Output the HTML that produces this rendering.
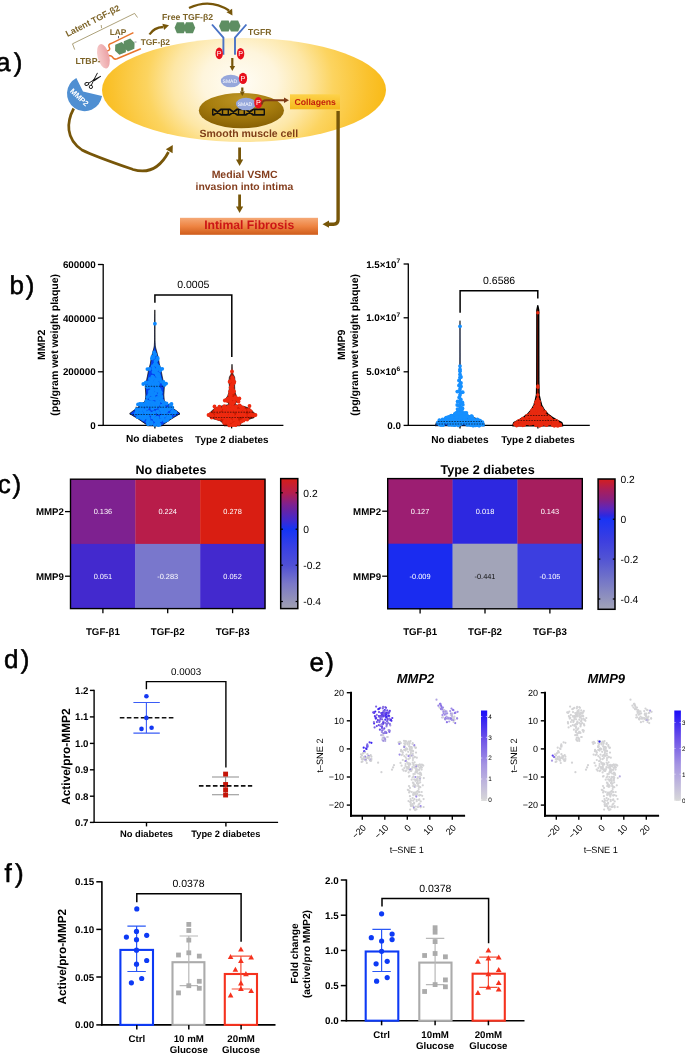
<!DOCTYPE html>
<html><head><meta charset="utf-8"><style>
html,body{margin:0;padding:0;background:#fff;width:685px;height:1053px;overflow:hidden}
svg{display:block;will-change:transform}
text{font-family:"Liberation Sans",sans-serif;text-rendering:geometricPrecision}
</style></head><body>
<svg width="685" height="1053" viewBox="0 0 685 1053">
<defs>
<radialGradient id="cellg" gradientUnits="userSpaceOnUse" cx="240" cy="82" r="150" gradientTransform="translate(240 82) scale(1 0.85) translate(-240 -82)">
<stop offset="0" stop-color="#fffdf6"/><stop offset="0.25" stop-color="#fef5dc"/><stop offset="0.45" stop-color="#fde7a6"/><stop offset="0.62" stop-color="#fcd460"/><stop offset="0.85" stop-color="#fac22e"/><stop offset="1" stop-color="#f8b913"/></radialGradient>
<radialGradient id="nucg" cx="0.5" cy="0.3" r="0.7" fx="0.5" fy="0.15">
<stop offset="0" stop-color="#bd9524"/><stop offset="0.55" stop-color="#a77d0e"/><stop offset="1" stop-color="#876004"/></radialGradient>
<linearGradient id="fibg" x1="0" y1="0" x2="0" y2="1">
<stop offset="0" stop-color="#f5a977"/><stop offset="0.5" stop-color="#ee8442"/><stop offset="1" stop-color="#cf5c1b"/></linearGradient>
<linearGradient id="colg" x1="0" y1="0" x2="0" y2="1">
<stop offset="0" stop-color="#fdd24a"/><stop offset="1" stop-color="#f5b81a"/></linearGradient>
<linearGradient id="ltbpg" x1="0" y1="0" x2="1" y2="0">
<stop offset="0" stop-color="#f6cccc"/><stop offset="1" stop-color="#eba0a4"/></linearGradient>
</defs>
<ellipse cx="244" cy="90" rx="142" ry="52" fill="url(#cellg)"/>
<ellipse cx="241.4" cy="110.6" rx="42.6" ry="17.7" fill="url(#nucg)"/>
<path d="M212.4,109.3 H213.8 L221.2,114.9 H229.6 L237.2,109.3 H245.6 L253.4,114.9 H264.6 M212.4,114.9 H213.8 L221.2,109.3 H229.6 L237.2,114.9 H245.6 L253.4,109.3 H264.6" stroke="#111" stroke-width="1.8" fill="none" stroke-linejoin="round"/>
<line x1="212.7" y1="109.3" x2="212.7" y2="114.9" stroke="#111" stroke-width="1.4"/>
<line x1="222.5" y1="109.3" x2="222.5" y2="114.9" stroke="#111" stroke-width="1.4"/>
<line x1="228.3" y1="109.3" x2="228.3" y2="114.9" stroke="#111" stroke-width="1.4"/>
<line x1="238.5" y1="109.3" x2="238.5" y2="114.9" stroke="#111" stroke-width="1.4"/>
<line x1="244.3" y1="109.3" x2="244.3" y2="114.9" stroke="#111" stroke-width="1.4"/>
<line x1="254.7" y1="109.3" x2="254.7" y2="114.9" stroke="#111" stroke-width="1.4"/>
<line x1="264.3" y1="109.3" x2="264.3" y2="114.9" stroke="#111" stroke-width="1.4"/>
<ellipse cx="230.8" cy="81" rx="10" ry="6.3" fill="#96a7db"/>
<text x="229.8" y="82.8" font-size="5" fill="#fff" text-anchor="middle">SMAD</text>
<ellipse cx="243" cy="78.4" rx="4.1" ry="5.7" fill="#e8101c"/>
<text x="243" y="81.0" font-size="7.2" fill="#fff" text-anchor="middle">P</text>
<ellipse cx="246" cy="104" rx="10" ry="6.3" fill="#96a7db"/>
<text x="245" y="105.8" font-size="5" fill="#fff" text-anchor="middle">SMAD</text>
<ellipse cx="258.3" cy="102.8" rx="4.1" ry="5.7" fill="#e8101c"/>
<text x="258.3" y="105.39999999999999" font-size="7.2" fill="#fff" text-anchor="middle">P</text>
<line x1="232.3" y1="58.0" x2="232.3" y2="66.5" stroke="#775609" stroke-width="2.2" />
<polygon points="232.3,71.0 229.6,66.0 235.1,66.0" fill="#775609"/>
<line x1="242.3" y1="87.5" x2="242.3" y2="91.5" stroke="#775609" stroke-width="2.2" />
<polygon points="242.3,96.0 239.8,91.5 244.8,91.5" fill="#775609"/>
<path d="M261.8,104.5 Q262.2,100.3 266,100.3 L284,100.3" fill="none" stroke="#7e3a16" stroke-width="2"/>
<polygon points="289.0,100.3 284.0,103.0 284.0,97.5" fill="#7e3a16"/>
<rect x="290" y="94.3" width="50" height="15" fill="url(#colg)"/>
<text x="315.2" y="105.2" font-size="8.7" font-weight="bold" text-anchor="middle" fill="#c4200c" >Collagens</text>
<path d="M338.1,111 V219.5 Q338.1,224.2 333.5,224.2 H327" fill="none" stroke="#775609" stroke-width="3.4"/>
<polygon points="322.5,224.2 329.0,220.6 329.0,227.8" fill="#775609"/>
<path d="M212,24.5 L223.4,37.7 V54.7 M246.4,24.5 L235,37.7 V54.7" fill="none" stroke="#4a73c6" stroke-width="1.9"/>
<g  fill="#5e8e62"><polygon points="219.0,25.9 221.4,20.4 228.6,20.4 231.0,25.9 228.6,31.4 221.4,31.4"/><polygon points="228.5,25.9 230.9,20.4 238.1,20.4 240.5,25.9 238.1,31.4 230.9,31.4"/></g>
<ellipse cx="219.2" cy="53.4" rx="3.7" ry="5.8" fill="#e8101c"/>
<text x="219.2" y="56.0" font-size="7.2" fill="#fff" text-anchor="middle">P</text>
<ellipse cx="240.6" cy="53.7" rx="3.7" ry="5.8" fill="#e8101c"/>
<text x="240.6" y="56.300000000000004" font-size="7.2" fill="#fff" text-anchor="middle">P</text>
<text x="248.0" y="35.0" font-size="8.6" font-weight="bold" text-anchor="start" fill="#7d6428" >TGFR</text>
<g  fill="#5e8e62"><polygon points="174.6,27.8 176.9,22.2 183.8,22.2 186.1,27.8 183.8,33.3 176.9,33.3"/><polygon points="183.7,27.8 186.0,22.2 192.9,22.2 195.2,27.8 192.9,33.3 186.0,33.3"/></g>
<text x="162.0" y="19.7" font-size="8.66" font-weight="bold" text-anchor="start" fill="#7d6428" >Free TGF-β2</text>
<path d="M189,8 Q210,-2 229,10.5" fill="none" stroke="#775609" stroke-width="2.3"/>
<polygon points="232.5,15.5 226.5,12.2 232.1,8.7" fill="#775609"/>
<path d="M149.5,34.5 Q154,27.5 163,27" fill="none" stroke="#775609" stroke-width="2.3"/>
<polygon points="169.0,25.3 164.1,30.0 162.4,23.7" fill="#775609"/>
<text x="140.7" y="45.3" font-size="8.4" font-weight="bold" text-anchor="start" fill="#7d6428" >TGF-β2</text>
<path d="M106.2,51.2 C109.5,50.8 110.5,49.5 109.2,47.2 C108.2,45.2 109,44 111.5,43.3 L133.4,32.6 M107.5,55.6 C111.5,55.2 112.5,56.5 113.2,58 C114,59.3 115.2,59.4 117,58.8 L140.9,48.7" fill="none" stroke="#e8742c" stroke-width="1.5"/>
<g transform="rotate(-22 124.8 46.7)" fill="#5e8e62"><polygon points="114.3,46.7 116.7,41.2 123.7,41.2 126.1,46.7 123.7,52.2 116.7,52.2"/><polygon points="123.5,46.7 125.9,41.2 132.9,41.2 135.3,46.7 132.9,52.2 125.9,52.2"/></g>
<line x1="118.5" y1="36" x2="118.5" y2="38.3" stroke="#334" stroke-width="0.8"/>
<line x1="134.5" y1="42" x2="136.5" y2="42" stroke="#889" stroke-width="0.9"/>
<ellipse cx="103.4" cy="56.3" rx="5.8" ry="12.5" fill="url(#ltbpg)" transform="rotate(-14 103.4 56.3)"/>
<text x="75.4" y="64.2" font-size="8.7" font-weight="bold" text-anchor="start" fill="#7d6428" >LTBP-</text>
<text x="109.7" y="35.0" font-size="8.4" font-weight="bold" text-anchor="start" fill="#7d6428" >LAP</text>
<text transform="translate(67.5,37) rotate(-27)" font-size="8.8" font-weight="bold" fill="#7d6428">Latent TGF-β2</text>
<path d="M74.7,49.6 L72.5,43.8 L134.6,13.4 L137.5,17.5 M101.6,28.2 L101.2,25" fill="none" stroke="#8a7a42" stroke-width="0.7"/>
<path d="M102.03,96.05 L83,91.5 L76.34,78.06 A17.6 17.6 0 1 0 102.03,96.05 Z" fill="#4f8fd2"/>
<text transform="translate(77.6,99.2) rotate(43)" font-size="7.6" font-weight="bold" fill="#fff" text-anchor="middle">MMP2</text>
<g fill="none" stroke="#111" stroke-width="0.95"><ellipse cx="86.8" cy="83.9" rx="2.0" ry="1.45" transform="rotate(-15 86.8 83.9)"/><circle cx="90.9" cy="86.9" r="1.65"/><path d="M88.6,83.3 L93.8,79.9 M91.3,85.3 L93.8,79.9"/></g>
<polygon points="92.7,80.9 94.5,79.4 97.9,73.1 97.1,72.8" fill="#111"/>
<polygon points="92.7,80.0 94.3,81.2 101.1,76.5 100.7,75.7" fill="#111"/>
<path d="M73.7,108.5 C66.5,122 65.5,139 82,150 C95,156.5 120,165 133,169.5 C148,174 160,168 168.5,152" fill="none" stroke="#775609" stroke-width="2.7"/>
<polygon points="172.8,145.0 172.6,153.2 165.8,149.3" fill="#775609"/>
<line x1="239.6" y1="147.5" x2="239.6" y2="160.5" stroke="#775609" stroke-width="2.8" />
<polygon points="239.6,166.0 236.0,159.5 243.2,159.5" fill="#775609"/>
<line x1="239.6" y1="194.5" x2="239.6" y2="207.0" stroke="#775609" stroke-width="2.8" />
<polygon points="239.6,213.0 236.0,206.5 243.2,206.5" fill="#775609"/>
<text x="244.6" y="178.4" font-size="10.5" font-weight="bold" text-anchor="middle" fill="#843e1e" >Medial VSMC</text>
<text x="244.4" y="190.2" font-size="10.4" font-weight="bold" text-anchor="middle" fill="#843e1e" >invasion into intima</text>
<text x="248.8" y="137.2" font-size="10.5" font-weight="bold" text-anchor="middle" fill="#7f3e18" >Smooth muscle cell</text>
<rect x="180" y="217.8" width="138" height="17" fill="url(#fibg)"/>
<text x="249.2" y="229.0" font-size="12.2" font-weight="bold" text-anchor="middle" fill="#cc1616" >Intimal Fibrosis</text>
<line x1="103.2" y1="264.0" x2="103.2" y2="426.0" stroke="#000" stroke-width="1.3" />
<line x1="102.6" y1="425.4" x2="283.4" y2="425.4" stroke="#000" stroke-width="1.3" />
<line x1="97.9" y1="264.5" x2="103.2" y2="264.5" stroke="#000" stroke-width="1.3" />
<text x="95.6" y="268.0" font-size="9.8" font-weight="bold" text-anchor="end" fill="#000" >600000</text>
<line x1="97.9" y1="318.1" x2="103.2" y2="318.1" stroke="#000" stroke-width="1.3" />
<text x="95.6" y="321.6" font-size="9.8" font-weight="bold" text-anchor="end" fill="#000" >400000</text>
<line x1="97.9" y1="371.8" x2="103.2" y2="371.8" stroke="#000" stroke-width="1.3" />
<text x="95.6" y="375.3" font-size="9.8" font-weight="bold" text-anchor="end" fill="#000" >200000</text>
<line x1="97.9" y1="425.4" x2="103.2" y2="425.4" stroke="#000" stroke-width="1.3" />
<text x="95.6" y="428.9" font-size="9.8" font-weight="bold" text-anchor="end" fill="#000" >0</text>
<line x1="154.9" y1="425.4" x2="154.9" y2="428.4" stroke="#000" stroke-width="1.3" />
<line x1="231.6" y1="425.4" x2="231.6" y2="428.4" stroke="#000" stroke-width="1.3" />
<text x="154.7" y="442.4" font-size="10.1" font-weight="bold" text-anchor="middle" fill="#000" >No diabetes</text>
<text x="231.8" y="442.8" font-size="9.9" font-weight="bold" text-anchor="middle" fill="#000" >Type 2 diabetes</text>
<text transform="translate(45.3,344.8) rotate(-90)" x="0" y="0" font-size="10.6" font-weight="bold" text-anchor="middle" fill="#000">MMP2</text>
<text transform="translate(58.2,344.8) rotate(-90)" x="0" y="0" font-size="10.5" font-weight="bold" text-anchor="middle" fill="#000">(pg/gram wet weight plaque)</text>
<path d="M154.9,302.8 V295.1 H231.8 V357.1" fill="none" stroke="#000" stroke-width="1.5"/>
<text x="193.3" y="288.0" font-size="10.5" font-weight="normal" text-anchor="middle" fill="#000" >0.0005</text>
<path d="M154.80,309.90 L154.79,310.62 L154.77,311.35 L154.76,312.07 L154.75,312.80 L154.73,313.52 L154.72,314.25 L154.71,314.97 L154.69,315.69 L154.68,316.42 L154.67,317.14 L154.65,317.87 L154.65,318.59 L154.65,319.32 L154.65,320.04 L154.64,320.77 L154.64,321.49 L154.64,322.21 L154.64,322.94 L154.64,323.66 L154.64,324.39 L154.63,325.11 L154.63,325.84 L154.63,326.56 L154.63,327.28 L154.63,328.01 L154.63,328.73 L154.62,329.46 L154.62,330.18 L154.62,330.91 L154.62,331.63 L154.62,332.36 L154.62,333.08 L154.61,333.80 L154.61,334.53 L154.61,335.25 L154.61,335.98 L154.61,336.70 L154.61,337.43 L154.60,338.15 L154.60,338.88 L154.60,339.60 L154.58,340.32 L154.55,341.05 L154.51,341.77 L154.48,342.50 L154.44,343.22 L154.40,343.95 L154.37,344.67 L154.33,345.39 L154.28,346.12 L154.13,346.84 L153.99,347.57 L153.84,348.29 L153.65,349.02 L153.45,349.74 L153.24,350.46 L153.03,351.19 L152.82,351.91 L152.64,352.64 L152.46,353.36 L152.28,354.09 L152.10,354.81 L151.92,355.54 L151.74,356.26 L151.55,356.98 L151.37,357.71 L151.19,358.43 L151.08,359.16 L150.96,359.88 L150.85,360.61 L150.73,361.33 L150.61,362.06 L150.50,362.78 L150.38,363.50 L150.23,364.23 L150.01,364.95 L149.80,365.68 L149.58,366.40 L149.36,367.13 L149.15,367.85 L148.93,368.57 L148.74,369.30 L148.61,370.02 L148.48,370.75 L148.34,371.47 L148.21,372.20 L148.07,372.92 L147.94,373.64 L147.80,374.37 L147.67,375.09 L147.53,375.82 L147.38,376.54 L147.23,377.27 L147.08,377.99 L146.92,378.72 L146.77,379.44 L146.62,380.16 L146.46,380.89 L146.31,381.61 L146.15,382.34 L146.00,383.06 L145.85,383.79 L145.71,384.51 L145.59,385.24 L145.47,385.96 L145.35,386.68 L145.33,387.41 L145.37,388.13 L145.42,388.86 L145.46,389.58 L145.51,390.31 L145.55,391.03 L145.60,391.75 L145.64,392.48 L145.69,393.20 L145.73,393.93 L145.78,394.65 L145.77,395.38 L145.71,396.10 L145.65,396.82 L145.59,397.55 L145.53,398.27 L145.47,399.00 L145.41,399.72 L145.35,400.45 L145.10,401.17 L144.25,401.90 L143.40,402.62 L142.55,403.34 L141.70,404.07 L140.85,404.79 L140.01,405.52 L139.16,406.24 L138.31,406.97 L137.41,407.69 L136.44,408.42 L135.47,409.14 L134.50,409.86 L133.53,410.59 L132.56,411.31 L131.59,412.04 L130.62,412.76 L129.65,413.49 L130.49,414.21 L131.67,414.93 L132.85,415.66 L134.04,416.38 L135.22,417.11 L136.40,417.83 L137.58,418.56 L138.71,419.28 L139.77,420.00 L140.83,420.73 L141.90,421.45 L142.96,422.18 L144.02,422.90 L145.08,423.63 L146.14,424.35 L146.94,425.08 L147.30,425.80 L162.30,425.80 L162.66,425.08 L163.46,424.35 L164.52,423.63 L165.58,422.90 L166.64,422.18 L167.70,421.45 L168.77,420.73 L169.83,420.00 L170.89,419.28 L172.02,418.56 L173.20,417.83 L174.38,417.11 L175.56,416.38 L176.75,415.66 L177.93,414.93 L179.11,414.21 L179.95,413.49 L178.98,412.76 L178.01,412.04 L177.04,411.31 L176.07,410.59 L175.10,409.86 L174.13,409.14 L173.16,408.42 L172.19,407.69 L171.29,406.97 L170.44,406.24 L169.59,405.52 L168.75,404.79 L167.90,404.07 L167.05,403.34 L166.20,402.62 L165.35,401.90 L164.50,401.17 L164.25,400.45 L164.19,399.72 L164.13,399.00 L164.07,398.27 L164.01,397.55 L163.95,396.82 L163.89,396.10 L163.83,395.38 L163.82,394.65 L163.87,393.93 L163.91,393.20 L163.96,392.48 L164.00,391.75 L164.05,391.03 L164.09,390.31 L164.14,389.58 L164.18,388.86 L164.23,388.13 L164.27,387.41 L164.25,386.68 L164.13,385.96 L164.01,385.24 L163.89,384.51 L163.75,383.79 L163.60,383.06 L163.45,382.34 L163.29,381.61 L163.14,380.89 L162.98,380.16 L162.83,379.44 L162.68,378.72 L162.52,377.99 L162.37,377.27 L162.22,376.54 L162.07,375.82 L161.93,375.09 L161.80,374.37 L161.66,373.64 L161.53,372.92 L161.39,372.20 L161.26,371.47 L161.12,370.75 L160.99,370.02 L160.86,369.30 L160.67,368.57 L160.46,367.85 L160.24,367.13 L160.02,366.40 L159.80,365.68 L159.59,364.95 L159.37,364.23 L159.22,363.50 L159.10,362.78 L158.99,362.06 L158.87,361.33 L158.75,360.61 L158.64,359.88 L158.52,359.16 L158.41,358.43 L158.23,357.71 L158.05,356.98 L157.87,356.26 L157.68,355.54 L157.50,354.81 L157.32,354.09 L157.14,353.36 L156.96,352.64 L156.78,351.91 L156.57,351.19 L156.36,350.46 L156.15,349.74 L155.95,349.02 L155.76,348.29 L155.61,347.57 L155.47,346.84 L155.32,346.12 L155.27,345.39 L155.23,344.67 L155.20,343.95 L155.16,343.22 L155.12,342.50 L155.09,341.77 L155.05,341.05 L155.02,340.32 L155.00,339.60 L155.00,338.88 L155.00,338.15 L154.99,337.43 L154.99,336.70 L154.99,335.98 L154.99,335.25 L154.99,334.53 L154.99,333.80 L154.98,333.08 L154.98,332.36 L154.98,331.63 L154.98,330.91 L154.98,330.18 L154.98,329.46 L154.97,328.73 L154.97,328.01 L154.97,327.28 L154.97,326.56 L154.97,325.84 L154.97,325.11 L154.96,324.39 L154.96,323.66 L154.96,322.94 L154.96,322.21 L154.96,321.49 L154.96,320.77 L154.95,320.04 L154.95,319.32 L154.95,318.59 L154.95,317.87 L154.93,317.14 L154.92,316.42 L154.91,315.69 L154.89,314.97 L154.88,314.25 L154.87,313.52 L154.85,312.80 L154.84,312.07 L154.83,311.35 L154.81,310.62 L154.80,309.90Z" fill="#0542f0" stroke="#000" stroke-width="0.8" stroke-linejoin="round"/>
<g fill="#0c88ff"><circle cx="154.1" cy="352.5" r="1.9"/><circle cx="154.4" cy="353.8" r="1.9"/><circle cx="155.3" cy="354.5" r="1.9"/><circle cx="152.4" cy="356.7" r="1.9"/><circle cx="153.5" cy="357.3" r="1.9"/><circle cx="157.6" cy="358.9" r="1.9"/><circle cx="156.4" cy="360.2" r="1.9"/><circle cx="155.4" cy="361.1" r="1.9"/><circle cx="155.5" cy="363.2" r="1.9"/><circle cx="154.9" cy="364.4" r="1.9"/><circle cx="156.1" cy="364.9" r="1.9"/><circle cx="156.8" cy="365.5" r="1.9"/><circle cx="152.8" cy="366.1" r="1.9"/><circle cx="158.5" cy="366.7" r="1.9"/><circle cx="157.6" cy="368.5" r="1.9"/><circle cx="157.5" cy="368.5" r="1.9"/><circle cx="153.5" cy="368.4" r="1.9"/><circle cx="154.0" cy="369.8" r="1.9"/><circle cx="160.1" cy="368.8" r="1.9"/><circle cx="149.7" cy="369.0" r="1.9"/><circle cx="160.2" cy="370.5" r="1.9"/><circle cx="156.3" cy="370.4" r="1.9"/><circle cx="154.9" cy="370.5" r="1.9"/><circle cx="153.4" cy="372.0" r="1.9"/><circle cx="155.6" cy="372.4" r="1.9"/><circle cx="156.5" cy="373.7" r="1.9"/><circle cx="158.2" cy="373.8" r="1.9"/><circle cx="156.5" cy="374.1" r="1.9"/><circle cx="158.4" cy="375.1" r="1.9"/><circle cx="159.1" cy="375.9" r="1.9"/><circle cx="157.1" cy="375.5" r="1.9"/><circle cx="158.5" cy="377.2" r="1.9"/><circle cx="152.4" cy="376.6" r="1.9"/><circle cx="158.8" cy="377.7" r="1.9"/><circle cx="150.0" cy="378.8" r="1.9"/><circle cx="153.7" cy="378.0" r="1.9"/><circle cx="152.4" cy="378.7" r="1.9"/><circle cx="159.8" cy="379.2" r="1.9"/><circle cx="156.3" cy="379.2" r="1.9"/><circle cx="157.8" cy="379.5" r="1.9"/><circle cx="161.0" cy="381.6" r="1.9"/><circle cx="154.9" cy="381.6" r="1.9"/><circle cx="151.7" cy="380.5" r="1.9"/><circle cx="156.4" cy="380.4" r="1.9"/><circle cx="149.0" cy="382.2" r="1.9"/><circle cx="156.9" cy="381.9" r="1.9"/><circle cx="146.0" cy="382.7" r="1.9"/><circle cx="151.2" cy="382.9" r="1.9"/><circle cx="163.5" cy="383.5" r="1.9"/><circle cx="153.9" cy="383.6" r="1.9"/><circle cx="158.0" cy="383.7" r="1.9"/><circle cx="156.1" cy="383.7" r="1.9"/><circle cx="164.5" cy="383.6" r="1.9"/><circle cx="153.4" cy="385.2" r="1.9"/><circle cx="149.5" cy="384.7" r="1.9"/><circle cx="164.4" cy="384.9" r="1.9"/><circle cx="155.8" cy="384.3" r="1.9"/><circle cx="153.1" cy="385.0" r="1.9"/><circle cx="146.8" cy="386.3" r="1.9"/><circle cx="157.0" cy="385.7" r="1.9"/><circle cx="156.9" cy="386.2" r="1.9"/><circle cx="157.8" cy="386.0" r="1.9"/><circle cx="157.9" cy="387.8" r="1.9"/><circle cx="147.5" cy="387.0" r="1.9"/><circle cx="157.5" cy="388.1" r="1.9"/><circle cx="151.0" cy="387.4" r="1.9"/><circle cx="156.2" cy="388.6" r="1.9"/><circle cx="152.7" cy="388.6" r="1.9"/><circle cx="152.8" cy="388.9" r="1.9"/><circle cx="151.8" cy="388.7" r="1.9"/><circle cx="158.9" cy="389.5" r="1.9"/><circle cx="155.9" cy="390.4" r="1.9"/><circle cx="151.9" cy="389.8" r="1.9"/><circle cx="159.4" cy="389.8" r="1.9"/><circle cx="150.0" cy="391.3" r="1.9"/><circle cx="157.8" cy="390.9" r="1.9"/><circle cx="152.1" cy="391.2" r="1.9"/><circle cx="159.9" cy="391.3" r="1.9"/><circle cx="160.2" cy="392.3" r="1.9"/><circle cx="152.3" cy="392.9" r="1.9"/><circle cx="160.7" cy="392.6" r="1.9"/><circle cx="150.6" cy="392.2" r="1.9"/><circle cx="155.3" cy="393.6" r="1.9"/><circle cx="159.5" cy="394.4" r="1.9"/><circle cx="150.0" cy="393.7" r="1.9"/><circle cx="159.5" cy="394.2" r="1.9"/><circle cx="159.5" cy="395.1" r="1.9"/><circle cx="149.2" cy="395.1" r="1.9"/><circle cx="159.3" cy="395.0" r="1.9"/><circle cx="152.5" cy="395.2" r="1.9"/><circle cx="153.6" cy="396.5" r="1.9"/><circle cx="161.2" cy="396.2" r="1.9"/><circle cx="147.3" cy="397.1" r="1.9"/><circle cx="160.6" cy="397.2" r="1.9"/><circle cx="153.8" cy="398.4" r="1.9"/><circle cx="161.3" cy="397.6" r="1.9"/><circle cx="158.5" cy="398.3" r="1.9"/><circle cx="157.3" cy="397.9" r="1.9"/><circle cx="151.6" cy="399.0" r="1.9"/><circle cx="150.7" cy="398.7" r="1.9"/><circle cx="156.1" cy="398.9" r="1.9"/><circle cx="159.5" cy="398.7" r="1.9"/><circle cx="161.8" cy="400.7" r="1.9"/><circle cx="162.1" cy="401.0" r="1.9"/><circle cx="161.7" cy="400.6" r="1.9"/><circle cx="146.4" cy="400.8" r="1.9"/><circle cx="147.4" cy="401.6" r="1.9"/><circle cx="158.5" cy="401.8" r="1.9"/><circle cx="152.9" cy="402.3" r="1.9"/><circle cx="157.3" cy="401.6" r="1.9"/><circle cx="149.2" cy="402.2" r="1.9"/><circle cx="154.2" cy="403.4" r="1.9"/><circle cx="150.7" cy="402.7" r="1.9"/><circle cx="155.8" cy="403.5" r="1.9"/><circle cx="145.7" cy="403.5" r="1.9"/><circle cx="166.5" cy="403.5" r="1.9"/><circle cx="163.8" cy="402.5" r="1.9"/><circle cx="158.4" cy="403.5" r="1.9"/><circle cx="139.9" cy="404.1" r="1.9"/><circle cx="147.2" cy="404.4" r="1.9"/><circle cx="152.3" cy="404.4" r="1.9"/><circle cx="163.9" cy="403.8" r="1.9"/><circle cx="140.1" cy="404.0" r="1.9"/><circle cx="142.4" cy="403.9" r="1.9"/><circle cx="170.5" cy="404.8" r="1.9"/><circle cx="141.1" cy="404.4" r="1.9"/><circle cx="148.9" cy="405.5" r="1.9"/><circle cx="150.0" cy="405.9" r="1.9"/><circle cx="157.6" cy="405.5" r="1.9"/><circle cx="144.9" cy="405.5" r="1.9"/><circle cx="142.7" cy="405.8" r="1.9"/><circle cx="161.7" cy="405.6" r="1.9"/><circle cx="141.3" cy="405.3" r="1.9"/><circle cx="150.7" cy="405.8" r="1.9"/><circle cx="163.6" cy="406.9" r="1.9"/><circle cx="164.2" cy="407.1" r="1.9"/><circle cx="152.7" cy="406.8" r="1.9"/><circle cx="154.7" cy="407.2" r="1.9"/><circle cx="152.3" cy="407.2" r="1.9"/><circle cx="153.6" cy="406.7" r="1.9"/><circle cx="155.9" cy="407.2" r="1.9"/><circle cx="140.5" cy="408.2" r="1.9"/><circle cx="152.3" cy="408.8" r="1.9"/><circle cx="169.4" cy="408.1" r="1.9"/><circle cx="168.1" cy="408.6" r="1.9"/><circle cx="146.9" cy="408.3" r="1.9"/><circle cx="142.2" cy="408.7" r="1.9"/><circle cx="160.2" cy="408.8" r="1.9"/><circle cx="164.6" cy="408.5" r="1.9"/><circle cx="163.4" cy="409.7" r="1.9"/><circle cx="140.2" cy="409.7" r="1.9"/><circle cx="136.6" cy="409.2" r="1.9"/><circle cx="164.9" cy="409.1" r="1.9"/><circle cx="139.8" cy="409.1" r="1.9"/><circle cx="168.8" cy="409.2" r="1.9"/><circle cx="137.3" cy="410.0" r="1.9"/><circle cx="140.9" cy="410.0" r="1.9"/><circle cx="161.2" cy="410.0" r="1.9"/><circle cx="173.0" cy="411.0" r="1.9"/><circle cx="166.8" cy="410.3" r="1.9"/><circle cx="165.5" cy="410.9" r="1.9"/><circle cx="163.4" cy="410.4" r="1.9"/><circle cx="164.8" cy="411.4" r="1.9"/><circle cx="137.2" cy="410.7" r="1.9"/><circle cx="157.4" cy="411.3" r="1.9"/><circle cx="144.4" cy="410.5" r="1.9"/><circle cx="144.8" cy="411.0" r="1.9"/><circle cx="165.8" cy="412.1" r="1.9"/><circle cx="149.0" cy="412.1" r="1.9"/><circle cx="148.3" cy="412.1" r="1.9"/><circle cx="136.7" cy="412.2" r="1.9"/><circle cx="175.4" cy="412.1" r="1.9"/><circle cx="165.6" cy="411.8" r="1.9"/><circle cx="163.1" cy="412.5" r="1.9"/><circle cx="162.4" cy="412.2" r="1.9"/><circle cx="154.1" cy="412.4" r="1.9"/><circle cx="172.1" cy="411.8" r="1.9"/><circle cx="135.8" cy="413.8" r="1.9"/><circle cx="174.4" cy="413.5" r="1.9"/><circle cx="152.1" cy="413.8" r="1.9"/><circle cx="140.1" cy="413.2" r="1.9"/><circle cx="140.7" cy="413.6" r="1.9"/><circle cx="146.1" cy="413.2" r="1.9"/><circle cx="163.8" cy="414.0" r="1.9"/><circle cx="145.2" cy="413.7" r="1.9"/><circle cx="150.7" cy="413.9" r="1.9"/><circle cx="158.8" cy="413.2" r="1.9"/><circle cx="141.5" cy="412.9" r="1.9"/><circle cx="153.9" cy="414.7" r="1.9"/><circle cx="140.7" cy="414.6" r="1.9"/><circle cx="147.1" cy="415.1" r="1.9"/><circle cx="139.4" cy="415.4" r="1.9"/><circle cx="153.9" cy="414.9" r="1.9"/><circle cx="153.4" cy="415.2" r="1.9"/><circle cx="168.7" cy="414.9" r="1.9"/><circle cx="154.0" cy="415.1" r="1.9"/><circle cx="170.2" cy="414.7" r="1.9"/><circle cx="164.9" cy="415.4" r="1.9"/><circle cx="153.5" cy="415.8" r="1.9"/><circle cx="144.5" cy="416.4" r="1.9"/><circle cx="161.6" cy="416.7" r="1.9"/><circle cx="168.5" cy="415.8" r="1.9"/><circle cx="142.8" cy="415.8" r="1.9"/><circle cx="142.7" cy="416.3" r="1.9"/><circle cx="168.7" cy="416.6" r="1.9"/><circle cx="145.3" cy="416.5" r="1.9"/><circle cx="147.6" cy="416.0" r="1.9"/><circle cx="162.7" cy="416.9" r="1.9"/><circle cx="140.8" cy="417.8" r="1.9"/><circle cx="147.6" cy="417.2" r="1.9"/><circle cx="157.6" cy="417.6" r="1.9"/><circle cx="137.8" cy="417.2" r="1.9"/><circle cx="152.6" cy="417.4" r="1.9"/><circle cx="144.8" cy="417.5" r="1.9"/><circle cx="170.5" cy="417.3" r="1.9"/><circle cx="156.1" cy="418.2" r="1.9"/><circle cx="148.0" cy="418.9" r="1.9"/><circle cx="143.2" cy="419.2" r="1.9"/><circle cx="167.1" cy="418.2" r="1.9"/><circle cx="168.0" cy="418.5" r="1.9"/><circle cx="163.0" cy="419.0" r="1.9"/><circle cx="148.7" cy="418.9" r="1.9"/><circle cx="158.8" cy="420.4" r="1.9"/><circle cx="148.6" cy="420.3" r="1.9"/><circle cx="166.9" cy="420.2" r="1.9"/><circle cx="155.7" cy="419.5" r="1.9"/><circle cx="154.6" cy="419.8" r="1.9"/><circle cx="160.5" cy="420.2" r="1.9"/><circle cx="156.3" cy="420.9" r="1.9"/><circle cx="158.1" cy="421.5" r="1.9"/><circle cx="147.5" cy="421.8" r="1.9"/><circle cx="158.3" cy="420.8" r="1.9"/><circle cx="164.6" cy="420.9" r="1.9"/><circle cx="151.6" cy="422.9" r="1.9"/><circle cx="156.7" cy="422.7" r="1.9"/><circle cx="157.6" cy="422.5" r="1.9"/><circle cx="151.2" cy="422.2" r="1.9"/><circle cx="148.1" cy="424.2" r="1.9"/><circle cx="158.7" cy="424.0" r="1.9"/><circle cx="158.5" cy="423.7" r="1.9"/><circle cx="151.2" cy="423.8" r="1.9"/><circle cx="159.5" cy="424.7" r="1.9"/><circle cx="154.9" cy="424.9" r="1.9"/><circle cx="158.2" cy="425.0" r="1.9"/><circle cx="154.9" cy="323.7" r="1.9"/><circle cx="152.0" cy="358.4" r="1.9"/><circle cx="157.6" cy="358.0" r="1.9"/><circle cx="147.4" cy="369.1" r="1.9"/><circle cx="162.2" cy="368.8" r="1.9"/><circle cx="143.3" cy="384.0" r="1.9"/><circle cx="166.1" cy="383.6" r="1.9"/><circle cx="146.0" cy="382.5" r="1.9"/><circle cx="163.5" cy="382.0" r="1.9"/><circle cx="138.0" cy="404.4" r="1.9"/><circle cx="171.5" cy="404.0" r="1.9"/><circle cx="172.2" cy="407.5" r="1.9"/></g>
<line x1="145.3" y1="386.3" x2="164.3" y2="386.3" stroke="#000" stroke-width="0.7" stroke-dasharray="1.6,1.1" opacity="0.85"/>
<line x1="135.5" y1="407.2" x2="174.1" y2="407.2" stroke="#000" stroke-width="0.7" stroke-dasharray="1.6,1.1" opacity="0.85"/>
<line x1="129.8" y1="414.5" x2="179.8" y2="414.5" stroke="#000" stroke-width="0.7" stroke-dasharray="1.6,1.1" opacity="0.85"/>
<path d="M232.00,364.30 L231.98,364.68 L231.96,365.07 L231.94,365.45 L231.92,365.84 L231.90,366.22 L231.88,366.61 L231.85,366.99 L231.83,367.38 L231.81,367.76 L231.79,368.14 L231.77,368.53 L231.75,368.91 L231.74,369.30 L231.72,369.68 L231.70,370.07 L231.68,370.45 L231.66,370.83 L231.64,371.22 L231.62,371.60 L231.60,371.99 L231.50,372.37 L231.39,372.76 L231.29,373.14 L231.18,373.53 L231.08,373.91 L230.95,374.29 L230.74,374.68 L230.52,375.06 L230.31,375.45 L230.10,375.83 L229.89,376.22 L229.68,376.60 L229.46,376.98 L229.38,377.37 L229.34,377.75 L229.31,378.14 L229.28,378.52 L229.25,378.91 L229.21,379.29 L229.18,379.68 L229.15,380.06 L229.12,380.44 L229.08,380.83 L229.05,381.21 L229.02,381.60 L229.02,381.98 L229.06,382.37 L229.10,382.75 L229.14,383.13 L229.18,383.52 L229.22,383.90 L229.26,384.29 L229.30,384.67 L229.34,385.06 L229.38,385.44 L229.39,385.82 L229.38,386.21 L229.37,386.59 L229.35,386.98 L229.34,387.36 L229.32,387.75 L229.31,388.13 L229.30,388.52 L229.28,388.90 L229.27,389.28 L229.26,389.67 L229.24,390.05 L229.23,390.44 L229.22,390.82 L229.20,391.21 L229.11,391.59 L228.98,391.98 L228.86,392.36 L228.74,392.74 L228.62,393.13 L228.49,393.51 L228.37,393.90 L228.25,394.28 L228.13,394.67 L228.00,395.05 L227.88,395.43 L227.76,395.82 L227.55,396.20 L227.25,396.59 L226.96,396.97 L226.67,397.36 L226.38,397.74 L226.09,398.12 L225.80,398.51 L225.50,398.89 L225.73,399.28 L225.96,399.66 L226.20,400.05 L226.43,400.43 L226.66,400.82 L226.90,401.20 L227.13,401.58 L227.39,401.97 L227.65,402.35 L227.92,402.74 L228.18,403.12 L228.45,403.51 L228.71,403.89 L228.98,404.28 L228.90,404.66 L226.93,405.04 L224.97,405.43 L223.01,405.81 L221.05,406.20 L219.29,406.58 L218.27,406.97 L217.26,407.35 L216.25,407.73 L215.24,408.12 L214.39,408.50 L213.99,408.89 L213.58,409.27 L213.18,409.66 L212.77,410.04 L212.37,410.43 L211.96,410.81 L211.56,411.19 L211.15,411.58 L210.75,411.96 L210.34,412.35 L209.93,412.73 L209.52,413.12 L209.11,413.50 L208.70,413.88 L208.28,414.27 L207.87,414.65 L207.54,415.04 L207.94,415.42 L208.33,415.81 L208.73,416.19 L209.13,416.57 L209.53,416.96 L209.92,417.34 L210.32,417.73 L211.22,418.11 L212.53,418.50 L213.83,418.88 L215.13,419.27 L216.44,419.65 L217.74,420.03 L219.05,420.42 L220.12,420.80 L220.59,421.19 L221.05,421.57 L221.52,421.96 L221.98,422.34 L222.44,422.73 L222.91,423.11 L223.37,423.49 L223.56,423.88 L223.65,424.26 L223.74,424.65 L223.83,425.03 L223.91,425.42 L224.00,425.80 L240.00,425.80 L240.09,425.42 L240.17,425.03 L240.26,424.65 L240.35,424.26 L240.44,423.88 L240.63,423.49 L241.09,423.11 L241.56,422.73 L242.02,422.34 L242.48,421.96 L242.95,421.57 L243.41,421.19 L243.88,420.80 L244.95,420.42 L246.26,420.03 L247.56,419.65 L248.87,419.27 L250.17,418.88 L251.47,418.50 L252.78,418.11 L253.68,417.73 L254.08,417.34 L254.47,416.96 L254.87,416.57 L255.27,416.19 L255.67,415.81 L256.06,415.42 L256.46,415.04 L256.13,414.65 L255.72,414.27 L255.30,413.88 L254.89,413.50 L254.48,413.12 L254.07,412.73 L253.66,412.35 L253.25,411.96 L252.85,411.58 L252.44,411.19 L252.04,410.81 L251.63,410.43 L251.23,410.04 L250.82,409.66 L250.42,409.27 L250.01,408.89 L249.61,408.50 L248.76,408.12 L247.75,407.73 L246.74,407.35 L245.73,406.97 L244.71,406.58 L242.95,406.20 L240.99,405.81 L239.03,405.43 L237.07,405.04 L235.10,404.66 L235.02,404.28 L235.29,403.89 L235.55,403.51 L235.82,403.12 L236.08,402.74 L236.35,402.35 L236.61,401.97 L236.87,401.58 L237.10,401.20 L237.34,400.82 L237.57,400.43 L237.80,400.05 L238.04,399.66 L238.27,399.28 L238.50,398.89 L238.20,398.51 L237.91,398.12 L237.62,397.74 L237.33,397.36 L237.04,396.97 L236.75,396.59 L236.45,396.20 L236.24,395.82 L236.12,395.43 L236.00,395.05 L235.87,394.67 L235.75,394.28 L235.63,393.90 L235.51,393.51 L235.38,393.13 L235.26,392.74 L235.14,392.36 L235.02,391.98 L234.89,391.59 L234.80,391.21 L234.78,390.82 L234.77,390.44 L234.76,390.05 L234.74,389.67 L234.73,389.28 L234.72,388.90 L234.70,388.52 L234.69,388.13 L234.68,387.75 L234.66,387.36 L234.65,386.98 L234.63,386.59 L234.62,386.21 L234.61,385.82 L234.62,385.44 L234.66,385.06 L234.70,384.67 L234.74,384.29 L234.78,383.90 L234.82,383.52 L234.86,383.13 L234.90,382.75 L234.94,382.37 L234.98,381.98 L234.98,381.60 L234.95,381.21 L234.92,380.83 L234.88,380.44 L234.85,380.06 L234.82,379.68 L234.79,379.29 L234.75,378.91 L234.72,378.52 L234.69,378.14 L234.66,377.75 L234.62,377.37 L234.54,376.98 L234.32,376.60 L234.11,376.22 L233.90,375.83 L233.69,375.45 L233.48,375.06 L233.26,374.68 L233.05,374.29 L232.92,373.91 L232.82,373.53 L232.71,373.14 L232.61,372.76 L232.50,372.37 L232.40,371.99 L232.38,371.60 L232.36,371.22 L232.34,370.83 L232.32,370.45 L232.30,370.07 L232.28,369.68 L232.26,369.30 L232.25,368.91 L232.23,368.53 L232.21,368.14 L232.19,367.76 L232.17,367.38 L232.15,366.99 L232.12,366.61 L232.10,366.22 L232.08,365.84 L232.06,365.45 L232.04,365.07 L232.02,364.68 L232.00,364.30Z" fill="#cc1a00" stroke="#000" stroke-width="0.8" stroke-linejoin="round"/>
<g fill="#ee2a10"><circle cx="232.4" cy="377.6" r="1.9"/><circle cx="233.0" cy="379.1" r="1.9"/><circle cx="232.9" cy="380.4" r="1.9"/><circle cx="230.0" cy="381.2" r="1.9"/><circle cx="233.8" cy="382.7" r="1.9"/><circle cx="233.3" cy="383.3" r="1.9"/><circle cx="231.9" cy="384.8" r="1.9"/><circle cx="232.1" cy="386.5" r="1.9"/><circle cx="230.7" cy="387.4" r="1.9"/><circle cx="231.4" cy="389.5" r="1.9"/><circle cx="232.8" cy="389.9" r="1.9"/><circle cx="233.0" cy="391.2" r="1.9"/><circle cx="232.4" cy="392.5" r="1.9"/><circle cx="229.9" cy="394.6" r="1.9"/><circle cx="230.6" cy="395.2" r="1.9"/><circle cx="235.6" cy="397.2" r="1.9"/><circle cx="230.4" cy="397.4" r="1.9"/><circle cx="232.5" cy="398.3" r="1.9"/><circle cx="228.6" cy="398.6" r="1.9"/><circle cx="234.2" cy="398.7" r="1.9"/><circle cx="237.0" cy="399.2" r="1.9"/><circle cx="230.2" cy="399.0" r="1.9"/><circle cx="227.5" cy="398.9" r="1.9"/><circle cx="230.1" cy="400.8" r="1.9"/><circle cx="227.3" cy="400.9" r="1.9"/><circle cx="230.9" cy="401.8" r="1.9"/><circle cx="234.1" cy="402.0" r="1.9"/><circle cx="231.1" cy="403.3" r="1.9"/><circle cx="232.6" cy="404.1" r="1.9"/><circle cx="239.6" cy="405.3" r="1.9"/><circle cx="236.0" cy="406.3" r="1.9"/><circle cx="224.3" cy="406.2" r="1.9"/><circle cx="229.9" cy="406.0" r="1.9"/><circle cx="219.4" cy="406.7" r="1.9"/><circle cx="223.8" cy="407.7" r="1.9"/><circle cx="224.2" cy="407.5" r="1.9"/><circle cx="243.0" cy="407.7" r="1.9"/><circle cx="228.0" cy="407.0" r="1.9"/><circle cx="232.6" cy="407.5" r="1.9"/><circle cx="219.4" cy="408.8" r="1.9"/><circle cx="241.6" cy="408.9" r="1.9"/><circle cx="217.1" cy="409.0" r="1.9"/><circle cx="218.8" cy="408.3" r="1.9"/><circle cx="235.6" cy="409.0" r="1.9"/><circle cx="226.8" cy="409.0" r="1.9"/><circle cx="233.5" cy="408.3" r="1.9"/><circle cx="226.1" cy="408.1" r="1.9"/><circle cx="217.3" cy="409.4" r="1.9"/><circle cx="238.6" cy="410.4" r="1.9"/><circle cx="220.2" cy="409.3" r="1.9"/><circle cx="249.0" cy="409.8" r="1.9"/><circle cx="228.7" cy="409.5" r="1.9"/><circle cx="235.3" cy="410.2" r="1.9"/><circle cx="230.5" cy="409.7" r="1.9"/><circle cx="216.5" cy="410.3" r="1.9"/><circle cx="215.7" cy="409.8" r="1.9"/><circle cx="244.8" cy="410.7" r="1.9"/><circle cx="240.7" cy="411.6" r="1.9"/><circle cx="236.9" cy="411.4" r="1.9"/><circle cx="217.2" cy="411.0" r="1.9"/><circle cx="218.8" cy="411.5" r="1.9"/><circle cx="224.3" cy="411.0" r="1.9"/><circle cx="250.8" cy="411.5" r="1.9"/><circle cx="249.9" cy="411.0" r="1.9"/><circle cx="231.6" cy="411.4" r="1.9"/><circle cx="231.2" cy="412.1" r="1.9"/><circle cx="228.1" cy="412.0" r="1.9"/><circle cx="227.0" cy="413.0" r="1.9"/><circle cx="250.6" cy="412.6" r="1.9"/><circle cx="232.0" cy="412.2" r="1.9"/><circle cx="215.4" cy="412.1" r="1.9"/><circle cx="243.4" cy="412.8" r="1.9"/><circle cx="226.4" cy="412.7" r="1.9"/><circle cx="243.1" cy="412.6" r="1.9"/><circle cx="238.6" cy="412.7" r="1.9"/><circle cx="226.1" cy="413.9" r="1.9"/><circle cx="222.5" cy="413.7" r="1.9"/><circle cx="243.7" cy="413.9" r="1.9"/><circle cx="223.0" cy="414.2" r="1.9"/><circle cx="238.5" cy="413.8" r="1.9"/><circle cx="210.8" cy="413.8" r="1.9"/><circle cx="221.2" cy="413.9" r="1.9"/><circle cx="230.4" cy="414.1" r="1.9"/><circle cx="238.4" cy="414.1" r="1.9"/><circle cx="225.4" cy="413.9" r="1.9"/><circle cx="242.3" cy="414.1" r="1.9"/><circle cx="225.0" cy="415.4" r="1.9"/><circle cx="249.2" cy="415.2" r="1.9"/><circle cx="254.1" cy="415.5" r="1.9"/><circle cx="232.8" cy="415.0" r="1.9"/><circle cx="216.5" cy="415.4" r="1.9"/><circle cx="252.3" cy="415.0" r="1.9"/><circle cx="240.9" cy="415.3" r="1.9"/><circle cx="242.7" cy="414.6" r="1.9"/><circle cx="245.0" cy="415.1" r="1.9"/><circle cx="239.7" cy="414.9" r="1.9"/><circle cx="237.7" cy="415.3" r="1.9"/><circle cx="238.4" cy="415.3" r="1.9"/><circle cx="211.4" cy="415.9" r="1.9"/><circle cx="229.4" cy="416.5" r="1.9"/><circle cx="219.8" cy="416.5" r="1.9"/><circle cx="237.7" cy="415.8" r="1.9"/><circle cx="230.8" cy="416.0" r="1.9"/><circle cx="212.6" cy="415.9" r="1.9"/><circle cx="224.0" cy="415.9" r="1.9"/><circle cx="218.7" cy="415.7" r="1.9"/><circle cx="230.5" cy="416.2" r="1.9"/><circle cx="236.9" cy="416.4" r="1.9"/><circle cx="220.6" cy="416.8" r="1.9"/><circle cx="211.7" cy="417.5" r="1.9"/><circle cx="223.0" cy="417.5" r="1.9"/><circle cx="216.3" cy="418.0" r="1.9"/><circle cx="226.9" cy="417.0" r="1.9"/><circle cx="236.6" cy="417.1" r="1.9"/><circle cx="233.8" cy="417.4" r="1.9"/><circle cx="235.3" cy="418.1" r="1.9"/><circle cx="245.0" cy="417.5" r="1.9"/><circle cx="244.7" cy="417.8" r="1.9"/><circle cx="226.7" cy="417.2" r="1.9"/><circle cx="235.2" cy="419.0" r="1.9"/><circle cx="247.2" cy="419.5" r="1.9"/><circle cx="235.6" cy="418.7" r="1.9"/><circle cx="245.1" cy="418.3" r="1.9"/><circle cx="219.0" cy="419.0" r="1.9"/><circle cx="235.8" cy="418.5" r="1.9"/><circle cx="236.3" cy="419.4" r="1.9"/><circle cx="227.9" cy="418.8" r="1.9"/><circle cx="225.3" cy="419.9" r="1.9"/><circle cx="243.5" cy="420.1" r="1.9"/><circle cx="243.2" cy="420.7" r="1.9"/><circle cx="234.3" cy="419.9" r="1.9"/><circle cx="243.7" cy="420.2" r="1.9"/><circle cx="229.9" cy="420.0" r="1.9"/><circle cx="241.3" cy="421.5" r="1.9"/><circle cx="227.9" cy="421.5" r="1.9"/><circle cx="224.7" cy="421.6" r="1.9"/><circle cx="230.9" cy="421.3" r="1.9"/><circle cx="237.4" cy="421.9" r="1.9"/><circle cx="224.1" cy="422.8" r="1.9"/><circle cx="228.3" cy="423.3" r="1.9"/><circle cx="236.6" cy="422.5" r="1.9"/><circle cx="228.2" cy="422.4" r="1.9"/><circle cx="238.9" cy="423.9" r="1.9"/><circle cx="233.5" cy="424.1" r="1.9"/><circle cx="234.1" cy="424.2" r="1.9"/><circle cx="235.4" cy="423.6" r="1.9"/><circle cx="235.5" cy="425.2" r="1.9"/><circle cx="232.5" cy="425.2" r="1.9"/><circle cx="229.3" cy="425.4" r="1.9"/><circle cx="232.0" cy="371.4" r="1.9"/><circle cx="229.6" cy="381.8" r="1.9"/><circle cx="234.4" cy="381.8" r="1.9"/><circle cx="230.0" cy="391.3" r="1.9"/><circle cx="234.0" cy="391.3" r="1.9"/><circle cx="224.8" cy="400.5" r="1.9"/><circle cx="239.4" cy="398.5" r="1.9"/><circle cx="238.5" cy="401.5" r="1.9"/><circle cx="214.5" cy="406.5" r="1.9"/><circle cx="249.5" cy="406.0" r="1.9"/><circle cx="240.5" cy="406.5" r="1.9"/><circle cx="208.5" cy="415.0" r="1.9"/><circle cx="255.5" cy="415.0" r="1.9"/></g>
<line x1="211.0" y1="412.2" x2="253.0" y2="412.2" stroke="#000" stroke-width="0.7" stroke-dasharray="1.6,1.1" opacity="0.85"/>
<line x1="210.0" y1="417.4" x2="254.0" y2="417.4" stroke="#000" stroke-width="0.7" stroke-dasharray="1.6,1.1" opacity="0.85"/>
<line x1="408.3" y1="263.5" x2="408.3" y2="426.0" stroke="#000" stroke-width="1.3" />
<line x1="407.7" y1="425.4" x2="589.8" y2="425.4" stroke="#000" stroke-width="1.3" />
<line x1="403.6" y1="264.0" x2="408.3" y2="264.0" stroke="#000" stroke-width="1.3" />
<text x="396.4" y="267.6" font-size="9.8" font-weight="bold" text-anchor="end" fill="#000" >1.5×10</text>
<text x="396.6" y="263.4" font-size="6.6" font-weight="bold" text-anchor="start" fill="#000" >7</text>
<line x1="403.6" y1="317.8" x2="408.3" y2="317.8" stroke="#000" stroke-width="1.3" />
<text x="396.4" y="321.4" font-size="9.8" font-weight="bold" text-anchor="end" fill="#000" >1.0×10</text>
<text x="396.6" y="317.2" font-size="6.6" font-weight="bold" text-anchor="start" fill="#000" >7</text>
<line x1="403.6" y1="371.8" x2="408.3" y2="371.8" stroke="#000" stroke-width="1.3" />
<text x="396.4" y="375.4" font-size="9.8" font-weight="bold" text-anchor="end" fill="#000" >5.0×10</text>
<text x="396.6" y="371.2" font-size="6.6" font-weight="bold" text-anchor="start" fill="#000" >6</text>
<line x1="403.6" y1="425.4" x2="408.3" y2="425.4" stroke="#000" stroke-width="1.3" />
<text x="400.9" y="429.0" font-size="9.8" font-weight="bold" text-anchor="end" fill="#000" >0.0</text>
<line x1="460.0" y1="425.4" x2="460.0" y2="428.4" stroke="#000" stroke-width="1.3" />
<line x1="537.9" y1="425.4" x2="537.9" y2="428.4" stroke="#000" stroke-width="1.3" />
<text x="459.9" y="443.0" font-size="10.1" font-weight="bold" text-anchor="middle" fill="#000" >No diabetes</text>
<text x="538.0" y="443.3" font-size="9.9" font-weight="bold" text-anchor="middle" fill="#000" >Type 2 diabetes</text>
<text transform="translate(345.3,344.8) rotate(-90)" x="0" y="0" font-size="10.6" font-weight="bold" text-anchor="middle" fill="#000">MMP9</text>
<text transform="translate(358.3,344.8) rotate(-90)" x="0" y="0" font-size="10.5" font-weight="bold" text-anchor="middle" fill="#000">(pg/gram wet weight plaque)</text>
<path d="M460.1,312.8 V290.8 H537.8 V298.6" fill="none" stroke="#000" stroke-width="1.5"/>
<text x="499.1" y="283.9" font-size="10.5" font-weight="normal" text-anchor="middle" fill="#000" >0.6586</text>
<path d="M460.00,320.70 L459.99,321.36 L459.97,322.01 L459.96,322.67 L459.94,323.33 L459.93,323.98 L459.92,324.64 L459.90,325.30 L459.89,325.95 L459.87,326.61 L459.86,327.27 L459.84,327.93 L459.83,328.58 L459.82,329.24 L459.80,329.90 L459.80,330.55 L459.80,331.21 L459.80,331.87 L459.79,332.52 L459.79,333.18 L459.79,333.84 L459.79,334.49 L459.79,335.15 L459.79,335.81 L459.79,336.46 L459.79,337.12 L459.78,337.78 L459.78,338.44 L459.78,339.09 L459.78,339.75 L459.78,340.41 L459.78,341.06 L459.78,341.72 L459.78,342.38 L459.77,343.03 L459.77,343.69 L459.77,344.35 L459.77,345.00 L459.77,345.66 L459.77,346.32 L459.77,346.98 L459.76,347.63 L459.76,348.29 L459.76,348.95 L459.76,349.60 L459.76,350.26 L459.76,350.92 L459.76,351.57 L459.76,352.23 L459.75,352.89 L459.75,353.54 L459.75,354.20 L459.75,354.86 L459.75,355.51 L459.75,356.17 L459.75,356.83 L459.75,357.49 L459.74,358.14 L459.74,358.80 L459.74,359.46 L459.74,360.11 L459.74,360.77 L459.74,361.43 L459.74,362.08 L459.73,362.74 L459.73,363.40 L459.73,364.05 L459.73,364.71 L459.73,365.37 L459.73,366.02 L459.73,366.68 L459.73,367.34 L459.72,368.00 L459.72,368.65 L459.72,369.31 L459.72,369.97 L459.72,370.62 L459.72,371.28 L459.72,371.94 L459.71,372.59 L459.71,373.25 L459.71,373.91 L459.71,374.56 L459.71,375.22 L459.71,375.88 L459.71,376.53 L459.71,377.19 L459.70,377.85 L459.70,378.50 L459.70,379.16 L459.70,379.82 L459.69,380.48 L459.69,381.13 L459.68,381.79 L459.67,382.45 L459.66,383.10 L459.65,383.76 L459.65,384.42 L459.64,385.07 L459.63,385.73 L459.62,386.39 L459.62,387.04 L459.61,387.70 L459.60,388.36 L459.59,389.01 L459.58,389.67 L459.58,390.33 L459.57,390.99 L459.56,391.64 L459.55,392.30 L459.54,392.96 L459.54,393.61 L459.53,394.27 L459.52,394.93 L459.51,395.58 L459.51,396.24 L459.50,396.90 L459.49,397.55 L459.48,398.21 L459.47,398.87 L459.47,399.52 L459.46,400.18 L459.45,400.84 L459.44,401.50 L459.43,402.15 L459.43,402.81 L459.42,403.47 L459.41,404.12 L459.40,404.78 L459.35,405.44 L459.27,406.09 L459.19,406.75 L459.11,407.41 L459.03,408.06 L458.95,408.72 L458.87,409.38 L458.77,410.03 L458.15,410.69 L457.54,411.35 L456.93,412.01 L456.31,412.66 L455.36,413.32 L454.05,413.98 L452.73,414.63 L451.30,415.29 L449.73,415.95 L448.15,416.60 L446.57,417.26 L445.00,417.92 L443.42,418.57 L441.84,419.23 L440.27,419.89 L439.05,420.55 L437.90,421.20 L436.75,421.86 L436.30,422.52 L436.04,423.17 L435.78,423.83 L435.52,424.49 L435.26,425.14 L435.00,425.80 L485.00,425.80 L484.74,425.14 L484.48,424.49 L484.22,423.83 L483.96,423.17 L483.70,422.52 L483.25,421.86 L482.10,421.20 L480.95,420.55 L479.73,419.89 L478.16,419.23 L476.58,418.57 L475.00,417.92 L473.43,417.26 L471.85,416.60 L470.27,415.95 L468.70,415.29 L467.27,414.63 L465.95,413.98 L464.64,413.32 L463.69,412.66 L463.07,412.01 L462.46,411.35 L461.85,410.69 L461.23,410.03 L461.13,409.38 L461.05,408.72 L460.97,408.06 L460.89,407.41 L460.81,406.75 L460.73,406.09 L460.65,405.44 L460.60,404.78 L460.59,404.12 L460.58,403.47 L460.57,402.81 L460.57,402.15 L460.56,401.50 L460.55,400.84 L460.54,400.18 L460.53,399.52 L460.53,398.87 L460.52,398.21 L460.51,397.55 L460.50,396.90 L460.49,396.24 L460.49,395.58 L460.48,394.93 L460.47,394.27 L460.46,393.61 L460.46,392.96 L460.45,392.30 L460.44,391.64 L460.43,390.99 L460.42,390.33 L460.42,389.67 L460.41,389.01 L460.40,388.36 L460.39,387.70 L460.38,387.04 L460.38,386.39 L460.37,385.73 L460.36,385.07 L460.35,384.42 L460.35,383.76 L460.34,383.10 L460.33,382.45 L460.32,381.79 L460.31,381.13 L460.31,380.48 L460.30,379.82 L460.30,379.16 L460.30,378.50 L460.30,377.85 L460.29,377.19 L460.29,376.53 L460.29,375.88 L460.29,375.22 L460.29,374.56 L460.29,373.91 L460.29,373.25 L460.29,372.59 L460.28,371.94 L460.28,371.28 L460.28,370.62 L460.28,369.97 L460.28,369.31 L460.28,368.65 L460.28,368.00 L460.27,367.34 L460.27,366.68 L460.27,366.02 L460.27,365.37 L460.27,364.71 L460.27,364.05 L460.27,363.40 L460.27,362.74 L460.26,362.08 L460.26,361.43 L460.26,360.77 L460.26,360.11 L460.26,359.46 L460.26,358.80 L460.26,358.14 L460.25,357.49 L460.25,356.83 L460.25,356.17 L460.25,355.51 L460.25,354.86 L460.25,354.20 L460.25,353.54 L460.25,352.89 L460.24,352.23 L460.24,351.57 L460.24,350.92 L460.24,350.26 L460.24,349.60 L460.24,348.95 L460.24,348.29 L460.24,347.63 L460.23,346.98 L460.23,346.32 L460.23,345.66 L460.23,345.00 L460.23,344.35 L460.23,343.69 L460.23,343.03 L460.22,342.38 L460.22,341.72 L460.22,341.06 L460.22,340.41 L460.22,339.75 L460.22,339.09 L460.22,338.44 L460.22,337.78 L460.21,337.12 L460.21,336.46 L460.21,335.81 L460.21,335.15 L460.21,334.49 L460.21,333.84 L460.21,333.18 L460.21,332.52 L460.20,331.87 L460.20,331.21 L460.20,330.55 L460.20,329.90 L460.18,329.24 L460.17,328.58 L460.16,327.93 L460.14,327.27 L460.13,326.61 L460.11,325.95 L460.10,325.30 L460.08,324.64 L460.07,323.98 L460.06,323.33 L460.04,322.67 L460.03,322.01 L460.01,321.36 L460.00,320.70Z" fill="#0a4ae6" stroke="#000" stroke-width="0.7" stroke-linejoin="round"/>
<g fill="#1690ff"><circle cx="458.0" cy="413.9" r="1.9"/><circle cx="457.3" cy="413.5" r="1.9"/><circle cx="457.0" cy="413.0" r="1.9"/><circle cx="466.2" cy="414.3" r="1.9"/><circle cx="461.8" cy="414.6" r="1.9"/><circle cx="459.4" cy="414.6" r="1.9"/><circle cx="456.2" cy="415.0" r="1.9"/><circle cx="454.9" cy="414.3" r="1.9"/><circle cx="451.4" cy="415.6" r="1.9"/><circle cx="458.3" cy="416.4" r="1.9"/><circle cx="457.8" cy="415.4" r="1.9"/><circle cx="455.7" cy="416.5" r="1.9"/><circle cx="452.2" cy="416.0" r="1.9"/><circle cx="457.8" cy="416.1" r="1.9"/><circle cx="457.1" cy="416.1" r="1.9"/><circle cx="459.9" cy="417.4" r="1.9"/><circle cx="469.5" cy="417.3" r="1.9"/><circle cx="451.5" cy="416.7" r="1.9"/><circle cx="470.6" cy="417.2" r="1.9"/><circle cx="452.8" cy="417.7" r="1.9"/><circle cx="461.9" cy="417.5" r="1.9"/><circle cx="469.0" cy="416.9" r="1.9"/><circle cx="456.6" cy="417.7" r="1.9"/><circle cx="451.4" cy="417.5" r="1.9"/><circle cx="450.5" cy="417.4" r="1.9"/><circle cx="466.0" cy="419.0" r="1.9"/><circle cx="470.2" cy="418.5" r="1.9"/><circle cx="451.0" cy="418.1" r="1.9"/><circle cx="460.9" cy="418.5" r="1.9"/><circle cx="447.2" cy="419.0" r="1.9"/><circle cx="460.2" cy="418.7" r="1.9"/><circle cx="451.7" cy="418.2" r="1.9"/><circle cx="445.5" cy="418.3" r="1.9"/><circle cx="453.1" cy="418.4" r="1.9"/><circle cx="456.3" cy="418.9" r="1.9"/><circle cx="471.7" cy="418.1" r="1.9"/><circle cx="456.9" cy="418.1" r="1.9"/><circle cx="465.9" cy="420.4" r="1.9"/><circle cx="449.3" cy="420.1" r="1.9"/><circle cx="452.8" cy="419.2" r="1.9"/><circle cx="469.5" cy="419.6" r="1.9"/><circle cx="448.1" cy="419.7" r="1.9"/><circle cx="450.3" cy="419.7" r="1.9"/><circle cx="458.1" cy="419.7" r="1.9"/><circle cx="463.2" cy="419.5" r="1.9"/><circle cx="445.4" cy="419.3" r="1.9"/><circle cx="445.8" cy="419.8" r="1.9"/><circle cx="455.0" cy="420.2" r="1.9"/><circle cx="460.2" cy="420.0" r="1.9"/><circle cx="477.3" cy="419.3" r="1.9"/><circle cx="442.6" cy="419.4" r="1.9"/><circle cx="455.9" cy="419.9" r="1.9"/><circle cx="470.0" cy="420.9" r="1.9"/><circle cx="479.0" cy="420.5" r="1.9"/><circle cx="473.7" cy="420.8" r="1.9"/><circle cx="475.3" cy="420.5" r="1.9"/><circle cx="479.0" cy="421.4" r="1.9"/><circle cx="480.0" cy="421.2" r="1.9"/><circle cx="446.8" cy="421.7" r="1.9"/><circle cx="457.6" cy="420.6" r="1.9"/><circle cx="464.3" cy="421.1" r="1.9"/><circle cx="458.9" cy="420.7" r="1.9"/><circle cx="444.6" cy="421.2" r="1.9"/><circle cx="458.1" cy="420.7" r="1.9"/><circle cx="457.5" cy="421.4" r="1.9"/><circle cx="468.8" cy="421.1" r="1.9"/><circle cx="455.7" cy="420.9" r="1.9"/><circle cx="448.8" cy="420.7" r="1.9"/><circle cx="457.8" cy="420.6" r="1.9"/><circle cx="470.0" cy="422.6" r="1.9"/><circle cx="464.9" cy="421.8" r="1.9"/><circle cx="454.0" cy="422.3" r="1.9"/><circle cx="442.0" cy="423.0" r="1.9"/><circle cx="471.3" cy="422.4" r="1.9"/><circle cx="469.1" cy="422.0" r="1.9"/><circle cx="448.0" cy="422.4" r="1.9"/><circle cx="470.8" cy="422.6" r="1.9"/><circle cx="438.1" cy="422.5" r="1.9"/><circle cx="478.1" cy="422.7" r="1.9"/><circle cx="479.0" cy="423.0" r="1.9"/><circle cx="447.7" cy="422.2" r="1.9"/><circle cx="462.1" cy="423.0" r="1.9"/><circle cx="454.2" cy="422.9" r="1.9"/><circle cx="475.5" cy="422.4" r="1.9"/><circle cx="465.5" cy="422.9" r="1.9"/><circle cx="472.6" cy="422.2" r="1.9"/><circle cx="475.3" cy="422.0" r="1.9"/><circle cx="454.1" cy="424.3" r="1.9"/><circle cx="475.8" cy="423.5" r="1.9"/><circle cx="450.5" cy="423.8" r="1.9"/><circle cx="475.6" cy="423.9" r="1.9"/><circle cx="479.8" cy="424.0" r="1.9"/><circle cx="474.6" cy="423.8" r="1.9"/><circle cx="453.7" cy="423.6" r="1.9"/><circle cx="459.5" cy="423.7" r="1.9"/><circle cx="475.4" cy="423.4" r="1.9"/><circle cx="440.4" cy="424.0" r="1.9"/><circle cx="449.6" cy="423.6" r="1.9"/><circle cx="442.6" cy="424.1" r="1.9"/><circle cx="449.7" cy="423.4" r="1.9"/><circle cx="473.8" cy="423.7" r="1.9"/><circle cx="449.9" cy="424.2" r="1.9"/><circle cx="456.0" cy="423.5" r="1.9"/><circle cx="481.2" cy="424.0" r="1.9"/><circle cx="471.2" cy="423.4" r="1.9"/><circle cx="474.6" cy="425.1" r="1.9"/><circle cx="475.4" cy="424.8" r="1.9"/><circle cx="473.1" cy="425.4" r="1.9"/><circle cx="454.8" cy="425.2" r="1.9"/><circle cx="473.1" cy="425.6" r="1.9"/><circle cx="479.6" cy="425.3" r="1.9"/><circle cx="443.1" cy="425.1" r="1.9"/><circle cx="468.6" cy="424.5" r="1.9"/><circle cx="458.3" cy="425.4" r="1.9"/><circle cx="478.9" cy="425.5" r="1.9"/><circle cx="441.0" cy="425.1" r="1.9"/><circle cx="477.0" cy="425.2" r="1.9"/><circle cx="451.6" cy="424.4" r="1.9"/><circle cx="479.6" cy="425.4" r="1.9"/><circle cx="467.2" cy="424.8" r="1.9"/><circle cx="475.3" cy="425.4" r="1.9"/><circle cx="470.5" cy="425.1" r="1.9"/><circle cx="451.6" cy="424.8" r="1.9"/><circle cx="453.4" cy="424.8" r="1.9"/><circle cx="460.0" cy="326.3" r="1.9"/><circle cx="460.0" cy="366.1" r="1.9"/><circle cx="460.0" cy="369.5" r="1.9"/><circle cx="460.0" cy="371.2" r="1.9"/><circle cx="460.0" cy="374.5" r="1.9"/><circle cx="460.0" cy="377.5" r="1.9"/><circle cx="459.0" cy="380.5" r="1.9"/><circle cx="461.0" cy="383.0" r="1.9"/><circle cx="459.0" cy="385.5" r="1.9"/><circle cx="461.0" cy="386.5" r="1.9"/><circle cx="460.0" cy="389.0" r="1.9"/><circle cx="458.8" cy="391.3" r="1.9"/><circle cx="461.2" cy="392.5" r="1.9"/><circle cx="460.0" cy="395.0" r="1.9"/><circle cx="459.2" cy="397.5" r="1.9"/><circle cx="460.8" cy="399.5" r="1.9"/><circle cx="459.5" cy="401.5" r="1.9"/><circle cx="460.5" cy="403.5" r="1.9"/><circle cx="459.0" cy="405.5" r="1.9"/><circle cx="461.0" cy="407.5" r="1.9"/><circle cx="460.0" cy="409.5" r="1.9"/><circle cx="458.0" cy="411.0" r="1.9"/><circle cx="462.0" cy="411.5" r="1.9"/><circle cx="457.3" cy="391.6" r="1.9"/><circle cx="462.7" cy="392.2" r="1.9"/><circle cx="457.6" cy="401.5" r="1.9"/><circle cx="462.4" cy="402.5" r="1.9"/><circle cx="457.2" cy="405.0" r="1.9"/><circle cx="462.8" cy="404.7" r="1.9"/><circle cx="457.5" cy="409.1" r="1.9"/><circle cx="462.5" cy="408.5" r="1.9"/><circle cx="460.0" cy="384.5" r="1.9"/><circle cx="461.0" cy="377.0" r="1.9"/><circle cx="464.8" cy="412.9" r="1.9"/><circle cx="454.9" cy="414.0" r="1.9"/><circle cx="466.4" cy="412.9" r="1.9"/><circle cx="456.3" cy="414.9" r="1.9"/><circle cx="456.3" cy="414.9" r="1.9"/><circle cx="461.7" cy="414.7" r="1.9"/><circle cx="464.1" cy="414.3" r="1.9"/><circle cx="457.5" cy="413.1" r="1.9"/><circle cx="456.2" cy="412.8" r="1.9"/><circle cx="459.5" cy="413.2" r="1.9"/><circle cx="471.4" cy="416.1" r="1.9"/><circle cx="450.6" cy="416.2" r="1.9"/><circle cx="472.8" cy="418.3" r="1.9"/><circle cx="471.9" cy="416.3" r="1.9"/><circle cx="465.9" cy="417.2" r="1.9"/><circle cx="456.6" cy="417.3" r="1.9"/><circle cx="466.9" cy="416.0" r="1.9"/><circle cx="464.2" cy="417.5" r="1.9"/><circle cx="449.2" cy="416.8" r="1.9"/><circle cx="461.3" cy="417.7" r="1.9"/><circle cx="461.1" cy="417.2" r="1.9"/><circle cx="446.3" cy="417.7" r="1.9"/><circle cx="448.2" cy="417.2" r="1.9"/><circle cx="462.0" cy="416.5" r="1.9"/><circle cx="460.8" cy="417.6" r="1.9"/><circle cx="461.4" cy="416.1" r="1.9"/><circle cx="459.9" cy="423.0" r="1.9"/><circle cx="447.7" cy="422.0" r="1.9"/><circle cx="483.0" cy="424.8" r="1.9"/><circle cx="465.6" cy="420.2" r="1.9"/><circle cx="479.9" cy="420.7" r="1.9"/><circle cx="440.3" cy="420.9" r="1.9"/><circle cx="482.4" cy="422.1" r="1.9"/><circle cx="438.0" cy="423.2" r="1.9"/><circle cx="463.9" cy="420.9" r="1.9"/><circle cx="446.8" cy="420.3" r="1.9"/><circle cx="450.8" cy="422.8" r="1.9"/><circle cx="459.7" cy="424.1" r="1.9"/><circle cx="480.5" cy="423.3" r="1.9"/><circle cx="457.4" cy="422.8" r="1.9"/><circle cx="458.9" cy="421.0" r="1.9"/><circle cx="455.9" cy="422.0" r="1.9"/><circle cx="439.4" cy="420.1" r="1.9"/><circle cx="439.6" cy="422.3" r="1.9"/><circle cx="471.6" cy="423.5" r="1.9"/><circle cx="468.8" cy="420.9" r="1.9"/><circle cx="479.7" cy="422.2" r="1.9"/><circle cx="451.5" cy="421.4" r="1.9"/><circle cx="439.5" cy="424.4" r="1.9"/><circle cx="449.4" cy="423.7" r="1.9"/><circle cx="477.3" cy="423.0" r="1.9"/><circle cx="457.6" cy="422.8" r="1.9"/><circle cx="453.8" cy="420.5" r="1.9"/><circle cx="474.4" cy="424.3" r="1.9"/><circle cx="475.1" cy="423.2" r="1.9"/><circle cx="443.0" cy="424.1" r="1.9"/><circle cx="449.0" cy="424.8" r="1.9"/><circle cx="460.3" cy="424.2" r="1.9"/><circle cx="442.9" cy="421.2" r="1.9"/><circle cx="459.8" cy="422.8" r="1.9"/><circle cx="471.1" cy="424.6" r="1.9"/><circle cx="445.6" cy="420.7" r="1.9"/><circle cx="474.0" cy="420.0" r="1.9"/><circle cx="443.0" cy="421.0" r="1.9"/><circle cx="455.1" cy="420.5" r="1.9"/><circle cx="439.9" cy="420.7" r="1.9"/><circle cx="445.8" cy="422.0" r="1.9"/><circle cx="440.0" cy="422.9" r="1.9"/><circle cx="456.2" cy="420.6" r="1.9"/><circle cx="479.8" cy="420.9" r="1.9"/><circle cx="462.2" cy="421.9" r="1.9"/></g>
<line x1="438.0" y1="421.5" x2="482.0" y2="421.5" stroke="#000" stroke-width="0.7" stroke-dasharray="1.6,1.1" opacity="0.85"/>
<line x1="436.0" y1="424" x2="484.0" y2="424" stroke="#000" stroke-width="0.7" stroke-dasharray="1.6,1.1" opacity="0.85"/>
<path d="M537.80,305.60 L537.65,306.35 L537.49,307.10 L537.34,307.85 L537.19,308.61 L537.03,309.36 L536.90,310.11 L536.90,310.86 L536.90,311.61 L536.90,312.36 L536.90,313.11 L536.89,313.86 L536.89,314.62 L536.89,315.37 L536.89,316.12 L536.89,316.87 L536.89,317.62 L536.89,318.37 L536.89,319.12 L536.89,319.87 L536.88,320.62 L536.88,321.38 L536.88,322.13 L536.88,322.88 L536.88,323.63 L536.88,324.38 L536.88,325.13 L536.88,325.88 L536.88,326.63 L536.88,327.39 L536.87,328.14 L536.87,328.89 L536.87,329.64 L536.87,330.39 L536.87,331.14 L536.87,331.89 L536.87,332.65 L536.87,333.40 L536.87,334.15 L536.86,334.90 L536.86,335.65 L536.86,336.40 L536.86,337.15 L536.86,337.90 L536.86,338.66 L536.86,339.41 L536.86,340.16 L536.86,340.91 L536.85,341.66 L536.85,342.41 L536.85,343.16 L536.85,343.91 L536.85,344.67 L536.85,345.42 L536.85,346.17 L536.85,346.92 L536.85,347.67 L536.85,348.42 L536.84,349.17 L536.84,349.92 L536.84,350.68 L536.84,351.43 L536.84,352.18 L536.84,352.93 L536.84,353.68 L536.84,354.43 L536.84,355.18 L536.83,355.93 L536.83,356.69 L536.83,357.44 L536.83,358.19 L536.83,358.94 L536.83,359.69 L536.83,360.44 L536.83,361.19 L536.83,361.94 L536.82,362.69 L536.82,363.45 L536.82,364.20 L536.82,364.95 L536.82,365.70 L536.82,366.45 L536.82,367.20 L536.82,367.95 L536.82,368.71 L536.82,369.46 L536.81,370.21 L536.81,370.96 L536.81,371.71 L536.81,372.46 L536.81,373.21 L536.81,373.96 L536.81,374.72 L536.81,375.47 L536.81,376.22 L536.80,376.97 L536.80,377.72 L536.80,378.47 L536.80,379.22 L536.80,379.97 L536.79,380.73 L536.77,381.48 L536.76,382.23 L536.74,382.98 L536.73,383.73 L536.71,384.48 L536.70,385.23 L536.68,385.98 L536.67,386.74 L536.65,387.49 L536.64,388.24 L536.62,388.99 L536.61,389.74 L536.59,390.49 L536.58,391.24 L536.56,391.99 L536.55,392.75 L536.53,393.50 L536.52,394.25 L536.50,395.00 L536.33,395.75 L536.17,396.50 L536.00,397.25 L535.83,398.00 L535.67,398.75 L535.50,399.51 L535.33,400.26 L535.13,401.01 L534.92,401.76 L534.70,402.51 L534.49,403.26 L534.28,404.01 L534.07,404.76 L533.72,405.52 L533.32,406.27 L532.91,407.02 L532.50,407.77 L532.10,408.52 L531.69,409.27 L531.28,410.02 L530.62,410.78 L529.96,411.53 L529.31,412.28 L528.65,413.03 L527.99,413.78 L527.09,414.53 L526.09,415.28 L525.09,416.03 L524.09,416.79 L522.91,417.54 L521.65,418.29 L520.40,419.04 L519.15,419.79 L517.72,420.54 L516.21,421.29 L514.71,422.04 L513.71,422.80 L513.48,423.55 L513.26,424.30 L513.03,425.05 L512.80,425.80 L562.80,425.80 L562.57,425.05 L562.34,424.30 L562.12,423.55 L561.89,422.80 L560.89,422.04 L559.38,421.29 L557.88,420.54 L556.45,419.79 L555.20,419.04 L553.95,418.29 L552.69,417.54 L551.51,416.79 L550.51,416.03 L549.51,415.28 L548.51,414.53 L547.61,413.78 L546.95,413.03 L546.29,412.28 L545.64,411.53 L544.98,410.78 L544.32,410.02 L543.91,409.27 L543.50,408.52 L543.10,407.77 L542.69,407.02 L542.28,406.27 L541.88,405.52 L541.53,404.76 L541.32,404.01 L541.11,403.26 L540.90,402.51 L540.68,401.76 L540.47,401.01 L540.27,400.26 L540.10,399.51 L539.93,398.75 L539.77,398.00 L539.60,397.25 L539.43,396.50 L539.27,395.75 L539.10,395.00 L539.08,394.25 L539.07,393.50 L539.05,392.75 L539.04,391.99 L539.02,391.24 L539.01,390.49 L538.99,389.74 L538.98,388.99 L538.96,388.24 L538.95,387.49 L538.93,386.74 L538.92,385.98 L538.90,385.23 L538.89,384.48 L538.87,383.73 L538.86,382.98 L538.84,382.23 L538.83,381.48 L538.81,380.73 L538.80,379.97 L538.80,379.22 L538.80,378.47 L538.80,377.72 L538.80,376.97 L538.79,376.22 L538.79,375.47 L538.79,374.72 L538.79,373.96 L538.79,373.21 L538.79,372.46 L538.79,371.71 L538.79,370.96 L538.79,370.21 L538.78,369.46 L538.78,368.71 L538.78,367.95 L538.78,367.20 L538.78,366.45 L538.78,365.70 L538.78,364.95 L538.78,364.20 L538.78,363.45 L538.78,362.69 L538.77,361.94 L538.77,361.19 L538.77,360.44 L538.77,359.69 L538.77,358.94 L538.77,358.19 L538.77,357.44 L538.77,356.69 L538.77,355.93 L538.76,355.18 L538.76,354.43 L538.76,353.68 L538.76,352.93 L538.76,352.18 L538.76,351.43 L538.76,350.68 L538.76,349.92 L538.76,349.17 L538.75,348.42 L538.75,347.67 L538.75,346.92 L538.75,346.17 L538.75,345.42 L538.75,344.67 L538.75,343.91 L538.75,343.16 L538.75,342.41 L538.75,341.66 L538.74,340.91 L538.74,340.16 L538.74,339.41 L538.74,338.66 L538.74,337.90 L538.74,337.15 L538.74,336.40 L538.74,335.65 L538.74,334.90 L538.73,334.15 L538.73,333.40 L538.73,332.65 L538.73,331.89 L538.73,331.14 L538.73,330.39 L538.73,329.64 L538.73,328.89 L538.73,328.14 L538.72,327.39 L538.72,326.63 L538.72,325.88 L538.72,325.13 L538.72,324.38 L538.72,323.63 L538.72,322.88 L538.72,322.13 L538.72,321.38 L538.72,320.62 L538.71,319.87 L538.71,319.12 L538.71,318.37 L538.71,317.62 L538.71,316.87 L538.71,316.12 L538.71,315.37 L538.71,314.62 L538.71,313.86 L538.70,313.11 L538.70,312.36 L538.70,311.61 L538.70,310.86 L538.70,310.11 L538.57,309.36 L538.41,308.61 L538.26,307.85 L538.11,307.10 L537.95,306.35 L537.80,305.60Z" fill="#cc1a00" stroke="#000" stroke-width="1.4" stroke-linejoin="round"/>
<g fill="#e82a10"><circle cx="537.7" cy="399.1" r="1.75"/><circle cx="536.8" cy="401.0" r="1.75"/><circle cx="536.0" cy="401.9" r="1.75"/><circle cx="539.2" cy="401.4" r="1.75"/><circle cx="538.0" cy="403.3" r="1.75"/><circle cx="535.8" cy="403.1" r="1.75"/><circle cx="538.9" cy="404.4" r="1.75"/><circle cx="539.0" cy="404.1" r="1.75"/><circle cx="536.1" cy="405.3" r="1.75"/><circle cx="537.8" cy="406.3" r="1.75"/><circle cx="538.4" cy="406.1" r="1.75"/><circle cx="536.9" cy="407.4" r="1.75"/><circle cx="534.7" cy="406.8" r="1.75"/><circle cx="539.2" cy="407.4" r="1.75"/><circle cx="537.2" cy="406.6" r="1.75"/><circle cx="535.6" cy="408.1" r="1.75"/><circle cx="535.8" cy="408.8" r="1.75"/><circle cx="535.0" cy="408.9" r="1.75"/><circle cx="541.3" cy="407.9" r="1.75"/><circle cx="536.5" cy="409.7" r="1.75"/><circle cx="532.7" cy="409.6" r="1.75"/><circle cx="542.1" cy="409.2" r="1.75"/><circle cx="538.8" cy="409.2" r="1.75"/><circle cx="538.6" cy="410.2" r="1.75"/><circle cx="534.1" cy="410.4" r="1.75"/><circle cx="532.6" cy="411.0" r="1.75"/><circle cx="531.8" cy="410.5" r="1.75"/><circle cx="537.8" cy="411.5" r="1.75"/><circle cx="536.8" cy="410.9" r="1.75"/><circle cx="539.5" cy="410.5" r="1.75"/><circle cx="539.0" cy="411.9" r="1.75"/><circle cx="539.4" cy="412.8" r="1.75"/><circle cx="531.4" cy="412.4" r="1.75"/><circle cx="539.3" cy="411.9" r="1.75"/><circle cx="534.5" cy="412.9" r="1.75"/><circle cx="545.0" cy="411.8" r="1.75"/><circle cx="540.8" cy="412.8" r="1.75"/><circle cx="533.5" cy="413.7" r="1.75"/><circle cx="530.3" cy="413.4" r="1.75"/><circle cx="540.7" cy="413.7" r="1.75"/><circle cx="542.3" cy="413.1" r="1.75"/><circle cx="535.3" cy="414.0" r="1.75"/><circle cx="539.2" cy="413.5" r="1.75"/><circle cx="536.2" cy="414.2" r="1.75"/><circle cx="539.0" cy="413.0" r="1.75"/><circle cx="543.6" cy="414.7" r="1.75"/><circle cx="536.5" cy="414.6" r="1.75"/><circle cx="536.7" cy="414.7" r="1.75"/><circle cx="529.8" cy="415.1" r="1.75"/><circle cx="530.1" cy="415.2" r="1.75"/><circle cx="528.6" cy="415.2" r="1.75"/><circle cx="543.8" cy="414.9" r="1.75"/><circle cx="541.9" cy="414.6" r="1.75"/><circle cx="542.4" cy="414.8" r="1.75"/><circle cx="531.6" cy="416.8" r="1.75"/><circle cx="535.5" cy="416.0" r="1.75"/><circle cx="546.0" cy="416.0" r="1.75"/><circle cx="541.6" cy="415.8" r="1.75"/><circle cx="545.6" cy="415.9" r="1.75"/><circle cx="527.5" cy="416.8" r="1.75"/><circle cx="530.3" cy="416.7" r="1.75"/><circle cx="548.9" cy="416.3" r="1.75"/><circle cx="526.6" cy="415.7" r="1.75"/><circle cx="531.1" cy="416.1" r="1.75"/><circle cx="540.4" cy="416.8" r="1.75"/><circle cx="533.9" cy="417.1" r="1.75"/><circle cx="539.5" cy="417.1" r="1.75"/><circle cx="526.8" cy="417.6" r="1.75"/><circle cx="543.0" cy="417.0" r="1.75"/><circle cx="536.5" cy="417.7" r="1.75"/><circle cx="544.8" cy="417.4" r="1.75"/><circle cx="548.1" cy="417.1" r="1.75"/><circle cx="543.5" cy="417.8" r="1.75"/><circle cx="547.9" cy="417.5" r="1.75"/><circle cx="527.1" cy="417.0" r="1.75"/><circle cx="538.6" cy="417.1" r="1.75"/><circle cx="541.3" cy="417.0" r="1.75"/><circle cx="545.3" cy="417.2" r="1.75"/><circle cx="522.7" cy="418.4" r="1.75"/><circle cx="536.5" cy="418.9" r="1.75"/><circle cx="534.3" cy="418.4" r="1.75"/><circle cx="537.2" cy="419.3" r="1.75"/><circle cx="538.9" cy="419.3" r="1.75"/><circle cx="523.2" cy="419.4" r="1.75"/><circle cx="549.9" cy="418.9" r="1.75"/><circle cx="538.5" cy="418.8" r="1.75"/><circle cx="550.5" cy="418.3" r="1.75"/><circle cx="542.2" cy="418.9" r="1.75"/><circle cx="531.6" cy="419.1" r="1.75"/><circle cx="544.6" cy="418.3" r="1.75"/><circle cx="544.0" cy="418.7" r="1.75"/><circle cx="537.5" cy="419.0" r="1.75"/><circle cx="523.9" cy="418.9" r="1.75"/><circle cx="533.3" cy="420.6" r="1.75"/><circle cx="528.3" cy="420.5" r="1.75"/><circle cx="545.9" cy="420.2" r="1.75"/><circle cx="551.1" cy="419.5" r="1.75"/><circle cx="541.2" cy="420.2" r="1.75"/><circle cx="544.1" cy="420.0" r="1.75"/><circle cx="522.5" cy="419.7" r="1.75"/><circle cx="541.6" cy="419.7" r="1.75"/><circle cx="522.4" cy="419.9" r="1.75"/><circle cx="536.7" cy="420.1" r="1.75"/><circle cx="521.0" cy="420.4" r="1.75"/><circle cx="531.9" cy="420.4" r="1.75"/><circle cx="520.4" cy="420.6" r="1.75"/><circle cx="541.0" cy="420.7" r="1.75"/><circle cx="555.0" cy="420.5" r="1.75"/><circle cx="523.9" cy="419.9" r="1.75"/><circle cx="528.3" cy="420.4" r="1.75"/><circle cx="525.3" cy="421.1" r="1.75"/><circle cx="522.0" cy="420.9" r="1.75"/><circle cx="555.6" cy="422.0" r="1.75"/><circle cx="532.6" cy="421.7" r="1.75"/><circle cx="536.5" cy="421.4" r="1.75"/><circle cx="532.5" cy="421.6" r="1.75"/><circle cx="527.1" cy="421.1" r="1.75"/><circle cx="538.5" cy="421.0" r="1.75"/><circle cx="535.3" cy="421.9" r="1.75"/><circle cx="518.4" cy="420.9" r="1.75"/><circle cx="550.0" cy="420.9" r="1.75"/><circle cx="527.7" cy="421.8" r="1.75"/><circle cx="542.1" cy="421.1" r="1.75"/><circle cx="519.9" cy="421.1" r="1.75"/><circle cx="529.7" cy="421.8" r="1.75"/><circle cx="557.1" cy="421.7" r="1.75"/><circle cx="554.1" cy="421.9" r="1.75"/><circle cx="553.1" cy="421.9" r="1.75"/><circle cx="556.8" cy="420.9" r="1.75"/><circle cx="529.6" cy="422.4" r="1.75"/><circle cx="542.5" cy="422.7" r="1.75"/><circle cx="530.9" cy="423.1" r="1.75"/><circle cx="533.2" cy="422.4" r="1.75"/><circle cx="527.7" cy="422.7" r="1.75"/><circle cx="542.8" cy="422.8" r="1.75"/><circle cx="535.1" cy="422.3" r="1.75"/><circle cx="533.4" cy="422.5" r="1.75"/><circle cx="522.9" cy="422.8" r="1.75"/><circle cx="523.7" cy="423.0" r="1.75"/><circle cx="545.0" cy="422.3" r="1.75"/><circle cx="543.5" cy="422.5" r="1.75"/><circle cx="535.4" cy="422.8" r="1.75"/><circle cx="549.6" cy="423.2" r="1.75"/><circle cx="548.4" cy="422.4" r="1.75"/><circle cx="539.7" cy="422.5" r="1.75"/><circle cx="516.1" cy="422.8" r="1.75"/><circle cx="536.5" cy="423.1" r="1.75"/><circle cx="529.8" cy="423.1" r="1.75"/><circle cx="538.4" cy="422.2" r="1.75"/><circle cx="547.6" cy="422.4" r="1.75"/><circle cx="539.4" cy="423.5" r="1.75"/><circle cx="515.1" cy="424.5" r="1.75"/><circle cx="516.5" cy="423.6" r="1.75"/><circle cx="522.2" cy="423.5" r="1.75"/><circle cx="552.9" cy="424.6" r="1.75"/><circle cx="544.7" cy="423.9" r="1.75"/><circle cx="555.8" cy="424.0" r="1.75"/><circle cx="520.8" cy="424.2" r="1.75"/><circle cx="531.3" cy="423.7" r="1.75"/><circle cx="529.5" cy="423.9" r="1.75"/><circle cx="523.0" cy="424.1" r="1.75"/><circle cx="554.9" cy="424.1" r="1.75"/><circle cx="515.0" cy="424.2" r="1.75"/><circle cx="515.5" cy="424.0" r="1.75"/><circle cx="554.8" cy="424.2" r="1.75"/><circle cx="556.8" cy="424.3" r="1.75"/><circle cx="527.2" cy="423.6" r="1.75"/><circle cx="535.5" cy="424.2" r="1.75"/><circle cx="525.4" cy="423.8" r="1.75"/><circle cx="549.3" cy="423.8" r="1.75"/><circle cx="542.5" cy="424.1" r="1.75"/><circle cx="557.7" cy="423.4" r="1.75"/><circle cx="522.8" cy="425.6" r="1.75"/><circle cx="545.9" cy="424.8" r="1.75"/><circle cx="520.4" cy="425.0" r="1.75"/><circle cx="539.9" cy="425.8" r="1.75"/><circle cx="524.3" cy="424.9" r="1.75"/><circle cx="546.7" cy="425.2" r="1.75"/><circle cx="554.3" cy="425.9" r="1.75"/><circle cx="558.6" cy="425.6" r="1.75"/><circle cx="537.6" cy="424.8" r="1.75"/><circle cx="552.5" cy="425.2" r="1.75"/><circle cx="536.1" cy="425.5" r="1.75"/><circle cx="559.9" cy="425.4" r="1.75"/><circle cx="557.7" cy="425.9" r="1.75"/><circle cx="518.0" cy="425.1" r="1.75"/><circle cx="556.3" cy="425.6" r="1.75"/><circle cx="560.2" cy="424.9" r="1.75"/><circle cx="539.3" cy="425.8" r="1.75"/><circle cx="539.7" cy="425.5" r="1.75"/><circle cx="560.5" cy="424.9" r="1.75"/><circle cx="516.6" cy="425.7" r="1.75"/><circle cx="541.7" cy="424.9" r="1.75"/><circle cx="553.7" cy="425.0" r="1.75"/><circle cx="537.8" cy="312.7" r="1.75"/><circle cx="537.8" cy="386.0" r="1.75"/><circle cx="537.8" cy="387.2" r="1.75"/><circle cx="537.8" cy="395.0" r="1.75"/></g>
<line x1="524.8" y1="415.5" x2="550.8" y2="415.5" stroke="#000" stroke-width="0.7" stroke-dasharray="1.6,1.1" opacity="0.85"/>
<line x1="517.8" y1="420.5" x2="557.8" y2="420.5" stroke="#000" stroke-width="0.7" stroke-dasharray="1.6,1.1" opacity="0.85"/>
<rect x="70.50" y="479.20" width="65.13" height="65.00" fill="#7e2190"/>
<text x="102.9" y="514.1" font-size="7.4" font-weight="normal" text-anchor="middle" fill="#fff" >0.136</text>
<rect x="135.33" y="479.20" width="65.13" height="65.00" fill="#b81d4a"/>
<text x="167.7" y="514.1" font-size="7.4" font-weight="normal" text-anchor="middle" fill="#fff" >0.224</text>
<rect x="200.17" y="479.20" width="65.13" height="65.00" fill="#d91e12"/>
<text x="232.6" y="514.1" font-size="7.4" font-weight="normal" text-anchor="middle" fill="#fff" >0.278</text>
<rect x="70.50" y="543.90" width="65.13" height="65.00" fill="#4329ce"/>
<text x="102.9" y="578.9" font-size="7.4" font-weight="normal" text-anchor="middle" fill="#fff" >0.051</text>
<rect x="135.33" y="543.90" width="65.13" height="65.00" fill="#7977cc"/>
<text x="167.7" y="578.9" font-size="7.4" font-weight="normal" text-anchor="middle" fill="#fff" >-0.283</text>
<rect x="200.17" y="543.90" width="65.13" height="65.00" fill="#4329ce"/>
<text x="232.6" y="578.9" font-size="7.4" font-weight="normal" text-anchor="middle" fill="#fff" >0.052</text>
<rect x="70.5" y="479.2" width="194.5" height="129.4" fill="none" stroke="#000" stroke-width="1.4"/>
<line x1="65.0" y1="511.6" x2="70.5" y2="511.6" stroke="#000" stroke-width="1.3" />
<text x="63.9" y="515.1" font-size="9.7" font-weight="bold" text-anchor="end" fill="#000" >MMP2</text>
<line x1="65.0" y1="576.2" x2="70.5" y2="576.2" stroke="#000" stroke-width="1.3" />
<text x="63.9" y="579.9" font-size="9.7" font-weight="bold" text-anchor="end" fill="#000" >MMP9</text>
<line x1="102.9" y1="608.6" x2="102.9" y2="613.2" stroke="#000" stroke-width="1.3" />
<text x="102.9" y="634.7" font-size="9.7" font-weight="bold" text-anchor="middle" fill="#000" >TGF-β1</text>
<line x1="167.7" y1="608.6" x2="167.7" y2="613.2" stroke="#000" stroke-width="1.3" />
<text x="167.7" y="634.7" font-size="9.7" font-weight="bold" text-anchor="middle" fill="#000" >TGF-β2</text>
<line x1="232.6" y1="608.6" x2="232.6" y2="613.2" stroke="#000" stroke-width="1.3" />
<text x="232.6" y="634.7" font-size="9.7" font-weight="bold" text-anchor="middle" fill="#000" >TGF-β3</text>
<text x="171.0" y="473.6" font-size="12.5" font-weight="bold" text-anchor="middle" fill="#000" >No diabetes</text>
<defs><linearGradient id="cbl" x1="0" y1="0" x2="0" y2="1"><stop offset="0.0000" stop-color="#d61e18"/><stop offset="0.1108" stop-color="#b41e4e"/><stop offset="0.1999" stop-color="#7e2190"/><stop offset="0.2500" stop-color="#6424a8"/><stop offset="0.3182" stop-color="#4329ce"/><stop offset="0.3892" stop-color="#1434f4"/><stop offset="0.5285" stop-color="#3840e4"/><stop offset="0.6677" stop-color="#5050d6"/><stop offset="0.8069" stop-color="#7a78c8"/><stop offset="1.0000" stop-color="#a0a0b0"/></linearGradient></defs>
<rect x="280.7" y="478.6" width="17.100000000000023" height="130.0" fill="url(#cbl)" stroke="#000" stroke-width="1.5"/>
<line x1="280.7" y1="492.8" x2="282.9" y2="492.8" stroke="#000" stroke-width="1.2" />
<line x1="295.6" y1="492.8" x2="297.8" y2="492.8" stroke="#000" stroke-width="1.2" />
<text x="303.3" y="496.5" font-size="10.3" font-weight="normal" text-anchor="start" fill="#000" >0.2</text>
<line x1="280.7" y1="529.2" x2="282.9" y2="529.2" stroke="#000" stroke-width="1.2" />
<line x1="295.6" y1="529.2" x2="297.8" y2="529.2" stroke="#000" stroke-width="1.2" />
<text x="303.3" y="532.9" font-size="10.3" font-weight="normal" text-anchor="start" fill="#000" >0</text>
<line x1="280.7" y1="565.2" x2="282.9" y2="565.2" stroke="#000" stroke-width="1.2" />
<line x1="295.6" y1="565.2" x2="297.8" y2="565.2" stroke="#000" stroke-width="1.2" />
<text x="303.3" y="568.9" font-size="10.3" font-weight="normal" text-anchor="start" fill="#000" >-0.2</text>
<line x1="280.7" y1="601.5" x2="282.9" y2="601.5" stroke="#000" stroke-width="1.2" />
<line x1="295.6" y1="601.5" x2="297.8" y2="601.5" stroke="#000" stroke-width="1.2" />
<text x="303.3" y="605.2" font-size="10.3" font-weight="normal" text-anchor="start" fill="#000" >-0.4</text>
<rect x="387.70" y="478.60" width="65.17" height="65.40" fill="#9c1e72"/>
<text x="420.1" y="513.8" font-size="7.4" font-weight="normal" text-anchor="middle" fill="#fff" >0.127</text>
<rect x="452.57" y="478.60" width="65.17" height="65.40" fill="#2d28e0"/>
<text x="485.0" y="513.8" font-size="7.4" font-weight="normal" text-anchor="middle" fill="#fff" >0.018</text>
<rect x="517.43" y="478.60" width="65.17" height="65.40" fill="#a61e5e"/>
<text x="549.9" y="513.8" font-size="7.4" font-weight="normal" text-anchor="middle" fill="#fff" >0.143</text>
<rect x="387.70" y="543.70" width="65.17" height="65.40" fill="#1a2cf0"/>
<text x="420.1" y="578.9" font-size="7.4" font-weight="normal" text-anchor="middle" fill="#fff" >-0.009</text>
<rect x="452.57" y="543.70" width="65.17" height="65.40" fill="#a2a4b8"/>
<text x="485.0" y="578.9" font-size="7.4" font-weight="normal" text-anchor="middle" fill="#111" >-0.441</text>
<rect x="517.43" y="543.70" width="65.17" height="65.40" fill="#3c3ee0"/>
<text x="549.9" y="578.9" font-size="7.4" font-weight="normal" text-anchor="middle" fill="#fff" >-0.105</text>
<rect x="387.7" y="478.6" width="194.6" height="130.2" fill="none" stroke="#000" stroke-width="1.4"/>
<line x1="382.2" y1="511.2" x2="387.7" y2="511.2" stroke="#000" stroke-width="1.3" />
<text x="381.1" y="514.8" font-size="9.7" font-weight="bold" text-anchor="end" fill="#000" >MMP2</text>
<line x1="382.2" y1="576.2" x2="387.7" y2="576.2" stroke="#000" stroke-width="1.3" />
<text x="381.1" y="579.9" font-size="9.7" font-weight="bold" text-anchor="end" fill="#000" >MMP9</text>
<line x1="420.1" y1="608.8" x2="420.1" y2="613.4" stroke="#000" stroke-width="1.3" />
<text x="420.1" y="634.9" font-size="9.7" font-weight="bold" text-anchor="middle" fill="#000" >TGF-β1</text>
<line x1="485.0" y1="608.8" x2="485.0" y2="613.4" stroke="#000" stroke-width="1.3" />
<text x="485.0" y="634.9" font-size="9.7" font-weight="bold" text-anchor="middle" fill="#000" >TGF-β2</text>
<line x1="549.9" y1="608.8" x2="549.9" y2="613.4" stroke="#000" stroke-width="1.3" />
<text x="549.9" y="634.9" font-size="9.7" font-weight="bold" text-anchor="middle" fill="#000" >TGF-β3</text>
<text x="487.6" y="473.6" font-size="12.7" font-weight="bold" text-anchor="middle" fill="#000" >Type 2 diabetes</text>
<defs><linearGradient id="cbr" x1="0" y1="0" x2="0" y2="1"><stop offset="0.0000" stop-color="#d41e1e"/><stop offset="0.0896" stop-color="#a61e5e"/><stop offset="0.1554" stop-color="#8a2080"/><stop offset="0.2320" stop-color="#5a26c0"/><stop offset="0.2810" stop-color="#2d28e0"/><stop offset="0.3085" stop-color="#1a34f4"/><stop offset="0.4693" stop-color="#3c3ee0"/><stop offset="0.6147" stop-color="#5254d4"/><stop offset="0.7678" stop-color="#7274c8"/><stop offset="1.0000" stop-color="#a2a4b8"/></linearGradient></defs>
<rect x="598.1" y="479.0" width="16.899999999999977" height="130.29999999999995" fill="url(#cbr)" stroke="#000" stroke-width="1.5"/>
<text x="620.5" y="483.0" font-size="10.3" font-weight="normal" text-anchor="start" fill="#000" >0.2</text>
<line x1="598.1" y1="519.2" x2="600.3" y2="519.2" stroke="#000" stroke-width="1.2" />
<line x1="612.8" y1="519.2" x2="615.0" y2="519.2" stroke="#000" stroke-width="1.2" />
<text x="620.5" y="522.9" font-size="10.3" font-weight="normal" text-anchor="start" fill="#000" >0</text>
<line x1="598.1" y1="559.1" x2="600.3" y2="559.1" stroke="#000" stroke-width="1.2" />
<line x1="612.8" y1="559.1" x2="615.0" y2="559.1" stroke="#000" stroke-width="1.2" />
<text x="620.5" y="562.8" font-size="10.3" font-weight="normal" text-anchor="start" fill="#000" >-0.2</text>
<line x1="598.1" y1="599.0" x2="600.3" y2="599.0" stroke="#000" stroke-width="1.2" />
<line x1="612.8" y1="599.0" x2="615.0" y2="599.0" stroke="#000" stroke-width="1.2" />
<text x="620.5" y="602.7" font-size="10.3" font-weight="normal" text-anchor="start" fill="#000" >-0.4</text>
<line x1="94.1" y1="689.8" x2="94.1" y2="823.0" stroke="#000" stroke-width="1.4" />
<line x1="93.4" y1="822.4" x2="278.1" y2="822.4" stroke="#000" stroke-width="1.4" />
<line x1="89.9" y1="690.4" x2="94.1" y2="690.4" stroke="#000" stroke-width="1.4" />
<text x="88.5" y="693.9" font-size="9.7" font-weight="bold" text-anchor="end" fill="#000" >1.2</text>
<line x1="89.9" y1="716.9" x2="94.1" y2="716.9" stroke="#000" stroke-width="1.4" />
<text x="88.5" y="720.4" font-size="9.7" font-weight="bold" text-anchor="end" fill="#000" >1.1</text>
<line x1="89.9" y1="743.4" x2="94.1" y2="743.4" stroke="#000" stroke-width="1.4" />
<text x="88.5" y="746.9" font-size="9.7" font-weight="bold" text-anchor="end" fill="#000" >1.0</text>
<line x1="89.9" y1="769.8" x2="94.1" y2="769.8" stroke="#000" stroke-width="1.4" />
<text x="88.5" y="773.3" font-size="9.7" font-weight="bold" text-anchor="end" fill="#000" >0.9</text>
<line x1="89.9" y1="796.2" x2="94.1" y2="796.2" stroke="#000" stroke-width="1.4" />
<text x="88.5" y="799.7" font-size="9.7" font-weight="bold" text-anchor="end" fill="#000" >0.8</text>
<line x1="89.9" y1="822.4" x2="94.1" y2="822.4" stroke="#000" stroke-width="1.4" />
<text x="88.5" y="825.9" font-size="9.7" font-weight="bold" text-anchor="end" fill="#000" >0.7</text>
<line x1="146.5" y1="822.4" x2="146.5" y2="826.4" stroke="#000" stroke-width="1.4" />
<line x1="225.9" y1="822.4" x2="225.9" y2="826.4" stroke="#000" stroke-width="1.4" />
<text x="146.5" y="837.3" font-size="9.4" font-weight="bold" text-anchor="middle" fill="#000" >No diabetes</text>
<text x="225.8" y="837.4" font-size="9.3" font-weight="bold" text-anchor="middle" fill="#000" >Type 2 diabetes</text>
<text transform="translate(69.8,756.6) rotate(-90)" x="0" y="0" font-size="11.9" font-weight="bold" text-anchor="middle" fill="#000">Active/pro-MMP2</text>
<path d="M146.4,689.2 V681.6 H225.9 V767.4" fill="none" stroke="#000" stroke-width="1.4"/>
<text x="186.1" y="675.2" font-size="9.8" font-weight="normal" text-anchor="middle" fill="#000" >0.0003</text>
<g stroke="#3a5cf6" stroke-width="1.1" fill="none"><path d="M146.4,702.5 V733.1 M133.4,702.5 H159.8 M133.4,733.1 H159.8"/></g>
<line x1="119.8" y1="717.8" x2="173.5" y2="717.8" stroke="#111" stroke-width="1.6" stroke-dasharray="4.6,2.4"/>
<g fill="#1438f2"><circle cx="146.4" cy="696.2" r="2.3"/><circle cx="146.4" cy="717.9" r="2.3"/><circle cx="141.5" cy="728.9" r="2.3"/><circle cx="151.6" cy="727.7" r="2.3"/></g>
<g stroke="#8e8e8e" stroke-width="1.1" fill="none"><path d="M225.6,777 V794.7 M212,777 H239 M212,794.7 H239"/></g>
<g fill="#c41408"><rect x="223.15" y="771.65" width="4.9" height="4.9"/><rect x="223.15" y="782.05" width="4.9" height="4.9"/><rect x="223.15" y="787.3499999999999" width="4.9" height="4.9"/><rect x="223.15" y="792.55" width="4.9" height="4.9"/></g>
<line x1="198.9" y1="785.9" x2="252.2" y2="785.9" stroke="#111" stroke-width="1.6" stroke-dasharray="4.6,2.4"/>
<g><circle cx="376.8" cy="714.9" r="1.1" fill="#8a74e0"/><circle cx="387.3" cy="720.9" r="1.1" fill="#8a74e0"/><circle cx="376.3" cy="717.9" r="1.1" fill="#8a74e0"/><circle cx="384.8" cy="710.0" r="1.1" fill="#3b22f2"/><circle cx="376.8" cy="726.1" r="1.1" fill="#6a4ce6"/><circle cx="385.9" cy="714.2" r="1.1" fill="#5a3ae8"/><circle cx="389.8" cy="710.8" r="1.1" fill="#5a3ae8"/><circle cx="382.1" cy="719.3" r="1.1" fill="#7a62e2"/><circle cx="378.8" cy="725.1" r="1.1" fill="#6a4ce6"/><circle cx="383.0" cy="716.4" r="1.1" fill="#3b22f2"/><circle cx="380.9" cy="717.8" r="1.1" fill="#8a74e0"/><circle cx="383.8" cy="712.8" r="1.1" fill="#6a4ce6"/><circle cx="387.7" cy="716.0" r="1.1" fill="#7a62e2"/><circle cx="374.1" cy="712.7" r="1.1" fill="#4a2cf0"/><circle cx="375.8" cy="718.6" r="1.1" fill="#3b22f2"/><circle cx="375.6" cy="717.4" r="1.1" fill="#5a3ae8"/><circle cx="378.9" cy="716.0" r="1.1" fill="#4a2cf0"/><circle cx="386.5" cy="726.4" r="1.1" fill="#9480e0"/><circle cx="381.2" cy="713.0" r="1.1" fill="#5a3ae8"/><circle cx="382.1" cy="714.9" r="1.1" fill="#6a4ce6"/><circle cx="383.0" cy="724.2" r="1.1" fill="#9480e0"/><circle cx="385.2" cy="722.9" r="1.1" fill="#8a74e0"/><circle cx="391.4" cy="720.8" r="1.1" fill="#5a3ae8"/><circle cx="385.8" cy="717.4" r="1.1" fill="#8a74e0"/><circle cx="387.1" cy="721.5" r="1.1" fill="#7a62e2"/><circle cx="387.3" cy="718.3" r="1.1" fill="#6a4ce6"/><circle cx="388.5" cy="713.2" r="1.1" fill="#5a3ae8"/><circle cx="383.2" cy="722.7" r="1.1" fill="#6a4ce6"/><circle cx="386.2" cy="714.3" r="1.1" fill="#3b22f2"/><circle cx="390.3" cy="720.0" r="1.1" fill="#3b22f2"/><circle cx="385.2" cy="714.0" r="1.1" fill="#6a4ce6"/><circle cx="383.9" cy="716.0" r="1.1" fill="#6a4ce6"/><circle cx="383.4" cy="721.5" r="1.1" fill="#7a62e2"/><circle cx="377.8" cy="720.1" r="1.1" fill="#5a3ae8"/><circle cx="385.3" cy="707.2" r="1.1" fill="#8a74e0"/><circle cx="387.2" cy="710.3" r="1.1" fill="#6a4ce6"/><circle cx="386.2" cy="712.7" r="1.1" fill="#4a2cf0"/><circle cx="383.4" cy="712.2" r="1.1" fill="#6a4ce6"/><circle cx="390.9" cy="719.6" r="1.1" fill="#4a2cf0"/><circle cx="383.7" cy="710.9" r="1.1" fill="#7a62e2"/><circle cx="386.7" cy="725.1" r="1.1" fill="#8470e2"/><circle cx="383.4" cy="712.4" r="1.1" fill="#7a62e2"/><circle cx="383.1" cy="723.4" r="1.1" fill="#5a3ae8"/><circle cx="382.0" cy="714.9" r="1.1" fill="#5a3ae8"/><circle cx="387.8" cy="712.6" r="1.1" fill="#5a3ae8"/><circle cx="382.8" cy="708.3" r="1.1" fill="#7a62e2"/><circle cx="379.0" cy="712.1" r="1.1" fill="#6a4ce6"/><circle cx="387.8" cy="719.4" r="1.1" fill="#6a4ce6"/><circle cx="374.1" cy="723.5" r="1.1" fill="#4a2cf0"/><circle cx="383.7" cy="713.9" r="1.1" fill="#6a4ce6"/><circle cx="389.9" cy="724.2" r="1.1" fill="#7a62e2"/><circle cx="382.6" cy="713.1" r="1.1" fill="#4a2cf0"/><circle cx="387.3" cy="723.6" r="1.1" fill="#8470e2"/><circle cx="380.6" cy="715.9" r="1.1" fill="#5a3ae8"/><circle cx="383.1" cy="706.9" r="1.1" fill="#8a74e0"/><circle cx="379.3" cy="720.6" r="1.1" fill="#6a4ce6"/><circle cx="386.0" cy="707.8" r="1.1" fill="#6a4ce6"/><circle cx="385.6" cy="715.4" r="1.1" fill="#4a2cf0"/><circle cx="373.9" cy="722.2" r="1.1" fill="#8a74e0"/><circle cx="379.7" cy="721.0" r="1.1" fill="#7a62e2"/><circle cx="385.3" cy="719.7" r="1.1" fill="#4a2cf0"/><circle cx="386.3" cy="716.9" r="1.1" fill="#3b22f2"/><circle cx="381.0" cy="716.6" r="1.1" fill="#7a62e2"/><circle cx="384.6" cy="711.6" r="1.1" fill="#8a74e0"/><circle cx="380.3" cy="719.0" r="1.1" fill="#6a4ce6"/><circle cx="376.1" cy="706.6" r="1.1" fill="#7a62e2"/><circle cx="389.4" cy="718.6" r="1.1" fill="#8a74e0"/><circle cx="380.3" cy="725.8" r="1.1" fill="#6a4ce6"/><circle cx="383.4" cy="716.0" r="1.1" fill="#5a3ae8"/><circle cx="389.2" cy="716.2" r="1.1" fill="#8a74e0"/><circle cx="374.9" cy="716.2" r="1.1" fill="#5a3ae8"/><circle cx="387.8" cy="713.6" r="1.1" fill="#7a62e2"/><circle cx="382.0" cy="727.9" r="1.1" fill="#6a4ce6"/><circle cx="378.3" cy="709.2" r="1.1" fill="#4a2cf0"/><circle cx="390.3" cy="725.4" r="1.1" fill="#a898e2"/><circle cx="375.3" cy="711.5" r="1.1" fill="#3b22f2"/><circle cx="386.6" cy="724.1" r="1.1" fill="#8470e2"/><circle cx="379.3" cy="722.1" r="1.1" fill="#7a62e2"/><circle cx="376.9" cy="722.0" r="1.1" fill="#6a4ce6"/><circle cx="388.5" cy="712.8" r="1.1" fill="#6a4ce6"/><circle cx="392.3" cy="718.0" r="1.1" fill="#5a3ae8"/><circle cx="381.9" cy="724.1" r="1.1" fill="#8470e2"/><circle cx="382.0" cy="726.3" r="1.1" fill="#6a4ce6"/><circle cx="374.2" cy="712.7" r="1.1" fill="#5a3ae8"/><circle cx="389.4" cy="711.8" r="1.1" fill="#6a4ce6"/><circle cx="388.8" cy="715.7" r="1.1" fill="#3b22f2"/><circle cx="379.2" cy="716.8" r="1.1" fill="#6a4ce6"/><circle cx="380.8" cy="724.9" r="1.1" fill="#a898e2"/><circle cx="374.6" cy="727.4" r="1.1" fill="#7a62e2"/><circle cx="382.5" cy="716.4" r="1.1" fill="#6a4ce6"/><circle cx="380.3" cy="707.8" r="1.1" fill="#8a74e0"/><circle cx="383.4" cy="713.5" r="1.1" fill="#7a62e2"/><circle cx="388.3" cy="723.0" r="1.1" fill="#8a74e0"/><circle cx="373.2" cy="712.4" r="1.1" fill="#6a4ce6"/><circle cx="379.3" cy="708.6" r="1.1" fill="#3b22f2"/><circle cx="384.8" cy="738.5" r="1.1" fill="#d0d0d4"/><circle cx="389.2" cy="730.6" r="1.1" fill="#a898e2"/><circle cx="383.6" cy="729.7" r="1.1" fill="#a898e2"/><circle cx="383.4" cy="733.5" r="1.1" fill="#8470e2"/><circle cx="385.2" cy="739.3" r="1.1" fill="#a090e0"/><circle cx="388.6" cy="730.2" r="1.1" fill="#a898e2"/><circle cx="389.4" cy="731.8" r="1.1" fill="#6a4ce6"/><circle cx="382.8" cy="737.5" r="1.1" fill="#c8c4dc"/><circle cx="383.2" cy="735.2" r="1.1" fill="#d0d0d4"/><circle cx="384.6" cy="738.3" r="1.1" fill="#a090e0"/><circle cx="384.9" cy="732.9" r="1.1" fill="#8470e2"/><circle cx="387.6" cy="737.0" r="1.1" fill="#c8c4dc"/><circle cx="384.3" cy="728.3" r="1.1" fill="#6a4ce6"/><circle cx="382.6" cy="740.1" r="1.1" fill="#b0a6e0"/><circle cx="379.9" cy="729.7" r="1.1" fill="#6a4ce6"/><circle cx="385.6" cy="731.9" r="1.1" fill="#8470e2"/><circle cx="387.3" cy="737.0" r="1.1" fill="#d0d0d4"/><circle cx="383.3" cy="740.8" r="1.1" fill="#a090e0"/><circle cx="381.2" cy="735.2" r="1.1" fill="#b0a6e0"/><circle cx="382.1" cy="730.3" r="1.1" fill="#8470e2"/><circle cx="382.4" cy="739.2" r="1.1" fill="#c8c4dc"/><circle cx="384.5" cy="732.9" r="1.1" fill="#9480e0"/><circle cx="386.4" cy="732.9" r="1.1" fill="#7a62e2"/><circle cx="389.7" cy="730.6" r="1.1" fill="#9480e0"/><circle cx="382.1" cy="732.2" r="1.1" fill="#9480e0"/><circle cx="382.4" cy="734.9" r="1.1" fill="#c8c4dc"/><circle cx="385.2" cy="740.9" r="1.1" fill="#b0a6e0"/><circle cx="381.8" cy="731.8" r="1.1" fill="#a898e2"/><circle cx="384.1" cy="737.5" r="1.1" fill="#b0a6e0"/><circle cx="385.2" cy="732.0" r="1.1" fill="#9480e0"/><circle cx="442.4" cy="709.5" r="1.1" fill="#9c88e6"/><circle cx="444.4" cy="711.6" r="1.1" fill="#c0b8e0"/><circle cx="445.5" cy="714.1" r="1.1" fill="#c0b8e0"/><circle cx="439.5" cy="707.6" r="1.1" fill="#d0d0d6"/><circle cx="438.4" cy="705.7" r="1.1" fill="#9c88e6"/><circle cx="445.0" cy="711.8" r="1.1" fill="#8c74e6"/><circle cx="443.0" cy="707.6" r="1.1" fill="#a090e4"/><circle cx="443.6" cy="713.0" r="1.1" fill="#8c74e6"/><circle cx="440.0" cy="703.9" r="1.1" fill="#8c74e6"/><circle cx="444.6" cy="714.7" r="1.1" fill="#9c88e6"/><circle cx="440.7" cy="705.0" r="1.1" fill="#c0b8e0"/><circle cx="440.4" cy="703.8" r="1.1" fill="#8c74e6"/><circle cx="441.8" cy="708.7" r="1.1" fill="#9c88e6"/><circle cx="436.5" cy="699.7" r="1.1" fill="#b0a4e2"/><circle cx="444.5" cy="710.7" r="1.1" fill="#8c74e6"/><circle cx="444.4" cy="710.8" r="1.1" fill="#b0a4e2"/><circle cx="441.1" cy="708.9" r="1.1" fill="#8c74e6"/><circle cx="443.9" cy="710.1" r="1.1" fill="#d0d0d6"/><circle cx="446.2" cy="713.5" r="1.1" fill="#a090e4"/><circle cx="441.1" cy="705.6" r="1.1" fill="#8c74e6"/><circle cx="441.1" cy="709.2" r="1.1" fill="#9c88e6"/><circle cx="441.5" cy="706.8" r="1.1" fill="#8c74e6"/><circle cx="457.1" cy="718.4" r="1.1" fill="#c0b8e0"/><circle cx="447.8" cy="718.7" r="1.1" fill="#c0b8e0"/><circle cx="445.0" cy="718.6" r="1.1" fill="#d0d0d6"/><circle cx="450.0" cy="717.9" r="1.1" fill="#b0a4e2"/><circle cx="457.1" cy="718.4" r="1.1" fill="#9c88e6"/><circle cx="443.4" cy="711.5" r="1.1" fill="#9c88e6"/><circle cx="445.4" cy="719.5" r="1.1" fill="#c0b8e0"/><circle cx="450.3" cy="719.0" r="1.1" fill="#9c88e6"/><circle cx="445.8" cy="718.5" r="1.1" fill="#9c88e6"/><circle cx="450.2" cy="711.1" r="1.1" fill="#a090e4"/><circle cx="454.8" cy="713.1" r="1.1" fill="#8c74e6"/><circle cx="446.5" cy="716.5" r="1.1" fill="#b0a4e2"/><circle cx="453.5" cy="710.2" r="1.1" fill="#b0a4e2"/><circle cx="453.4" cy="718.4" r="1.1" fill="#a090e4"/><circle cx="451.2" cy="718.3" r="1.1" fill="#8c74e6"/><circle cx="452.2" cy="713.5" r="1.1" fill="#c0b8e0"/><circle cx="449.2" cy="721.5" r="1.1" fill="#b0a4e2"/><circle cx="446.5" cy="711.3" r="1.1" fill="#b0a4e2"/><circle cx="457.6" cy="711.8" r="1.1" fill="#9c88e6"/><circle cx="455.4" cy="712.7" r="1.1" fill="#8c74e6"/><circle cx="450.9" cy="713.6" r="1.1" fill="#8c74e6"/><circle cx="445.5" cy="718.2" r="1.1" fill="#8c74e6"/><circle cx="447.2" cy="713.3" r="1.1" fill="#a090e4"/><circle cx="447.9" cy="717.7" r="1.1" fill="#b0a4e2"/><circle cx="453.0" cy="709.9" r="1.1" fill="#8c74e6"/><circle cx="446.9" cy="722.2" r="1.1" fill="#8c74e6"/><circle cx="455.2" cy="723.1" r="1.1" fill="#8c74e6"/><circle cx="453.3" cy="720.2" r="1.1" fill="#9c88e6"/><circle cx="454.6" cy="719.8" r="1.1" fill="#d0d0d6"/><circle cx="453.1" cy="719.0" r="1.1" fill="#b0a4e2"/><circle cx="451.5" cy="708.6" r="1.1" fill="#9c88e6"/><circle cx="450.8" cy="714.7" r="1.1" fill="#d0d0d6"/><circle cx="453.6" cy="722.0" r="1.1" fill="#d0d0d6"/><circle cx="451.6" cy="719.8" r="1.1" fill="#a090e4"/><circle cx="444.5" cy="712.5" r="1.1" fill="#c0b8e0"/><circle cx="454.4" cy="716.7" r="1.1" fill="#d0d0d6"/><circle cx="453.5" cy="717.7" r="1.1" fill="#d0d0d6"/><circle cx="442.2" cy="717.5" r="1.1" fill="#c0b8e0"/><circle cx="443.1" cy="717.3" r="1.1" fill="#d0d0d6"/><circle cx="451.7" cy="715.3" r="1.1" fill="#b0a4e2"/><circle cx="452.1" cy="716.2" r="1.1" fill="#c0b8e0"/><circle cx="445.1" cy="719.2" r="1.1" fill="#a090e4"/><circle cx="448.3" cy="718.4" r="1.1" fill="#a090e4"/><circle cx="452.3" cy="713.8" r="1.1" fill="#c0b8e0"/><circle cx="453.0" cy="718.2" r="1.1" fill="#d0d0d6"/><circle cx="442.4" cy="715.0" r="1.1" fill="#9c88e6"/><circle cx="367.3" cy="744.3" r="1.1" fill="#7a66e4"/><circle cx="367.5" cy="745.6" r="1.1" fill="#7a66e4"/><circle cx="366.1" cy="748.4" r="1.1" fill="#5a40ea"/><circle cx="367.4" cy="746.7" r="1.1" fill="#3a24f2"/><circle cx="369.6" cy="742.3" r="1.1" fill="#5a40ea"/><circle cx="371.4" cy="742.8" r="1.1" fill="#3a24f2"/><circle cx="366.5" cy="749.0" r="1.1" fill="#3a24f2"/><circle cx="367.0" cy="745.9" r="1.1" fill="#7a66e4"/><circle cx="364.2" cy="751.1" r="1.1" fill="#7a66e4"/><circle cx="364.4" cy="751.5" r="1.1" fill="#3a24f2"/><circle cx="363.7" cy="747.7" r="1.1" fill="#3a24f2"/><circle cx="370.4" cy="760.9" r="1.1" fill="#cfcfd2"/><circle cx="366.8" cy="763.0" r="1.1" fill="#cfcfd2"/><circle cx="361.0" cy="754.3" r="1.1" fill="#cfcfd2"/><circle cx="369.3" cy="756.0" r="1.1" fill="#cfcfd2"/><circle cx="365.6" cy="757.2" r="1.1" fill="#cfcfd2"/><circle cx="362.8" cy="753.5" r="1.1" fill="#cfcfd2"/><circle cx="364.1" cy="759.1" r="1.1" fill="#cfcfd2"/><circle cx="371.5" cy="759.0" r="1.1" fill="#cfcfd2"/><circle cx="363.2" cy="753.1" r="1.1" fill="#cfcfd2"/><circle cx="361.8" cy="759.1" r="1.1" fill="#cfcfd2"/><circle cx="362.4" cy="761.4" r="1.1" fill="#cfcfd2"/><circle cx="371.4" cy="756.7" r="1.1" fill="#cfcfd2"/><circle cx="365.9" cy="759.9" r="1.1" fill="#9a86e4"/><circle cx="365.1" cy="756.7" r="1.1" fill="#9a86e4"/><circle cx="367.4" cy="754.2" r="1.1" fill="#cfcfd2"/><circle cx="368.5" cy="755.8" r="1.1" fill="#9a86e4"/><circle cx="370.1" cy="759.7" r="1.1" fill="#9a86e4"/><circle cx="361.6" cy="762.0" r="1.1" fill="#cfcfd2"/><circle cx="370.7" cy="755.2" r="1.1" fill="#cfcfd2"/><circle cx="366.2" cy="758.4" r="1.1" fill="#cfcfd2"/><circle cx="368.2" cy="758.2" r="1.1" fill="#cfcfd2"/><circle cx="363.8" cy="757.0" r="1.1" fill="#cfcfd2"/><circle cx="360.9" cy="757.2" r="1.1" fill="#cfcfd2"/><circle cx="362.0" cy="755.4" r="1.1" fill="#cfcfd2"/><circle cx="363.1" cy="759.2" r="1.1" fill="#cfcfd2"/><circle cx="364.9" cy="752.5" r="1.1" fill="#cfcfd2"/><circle cx="363.2" cy="758.4" r="1.1" fill="#cfcfd2"/><circle cx="365.5" cy="760.1" r="1.1" fill="#9a86e4"/><circle cx="369.0" cy="757.1" r="1.1" fill="#cfcfd2"/><circle cx="368.3" cy="756.8" r="1.1" fill="#cfcfd2"/><circle cx="366.2" cy="760.7" r="1.1" fill="#cfcfd2"/><circle cx="371.2" cy="760.7" r="1.1" fill="#cfcfd2"/><circle cx="367.5" cy="757.8" r="1.1" fill="#cfcfd2"/><circle cx="369.5" cy="759.3" r="1.1" fill="#cfcfd2"/><circle cx="411.1" cy="755.9" r="1.1" fill="#d2d2d4"/><circle cx="416.8" cy="757.7" r="1.1" fill="#d2d2d4"/><circle cx="405.9" cy="741.2" r="1.1" fill="#d2d2d4"/><circle cx="412.0" cy="769.1" r="1.1" fill="#d2d2d4"/><circle cx="402.7" cy="752.6" r="1.1" fill="#d2d2d4"/><circle cx="405.7" cy="771.1" r="1.1" fill="#d2d2d4"/><circle cx="410.1" cy="755.7" r="1.1" fill="#d2d2d4"/><circle cx="413.1" cy="751.2" r="1.1" fill="#d2d2d4"/><circle cx="413.0" cy="758.1" r="1.1" fill="#d2d2d4"/><circle cx="408.6" cy="759.2" r="1.1" fill="#d2d2d4"/><circle cx="415.9" cy="747.6" r="1.1" fill="#d2d2d4"/><circle cx="405.6" cy="749.1" r="1.1" fill="#d2d2d4"/><circle cx="409.3" cy="743.9" r="1.1" fill="#d2d2d4"/><circle cx="411.6" cy="747.4" r="1.1" fill="#d2d2d4"/><circle cx="405.6" cy="764.0" r="1.1" fill="#d2d2d4"/><circle cx="405.6" cy="750.6" r="1.1" fill="#d2d2d4"/><circle cx="402.7" cy="752.3" r="1.1" fill="#d2d2d4"/><circle cx="406.4" cy="748.4" r="1.1" fill="#d2d2d4"/><circle cx="410.5" cy="741.1" r="1.1" fill="#d2d2d4"/><circle cx="412.7" cy="743.2" r="1.1" fill="#d2d2d4"/><circle cx="410.2" cy="770.8" r="1.1" fill="#d2d2d4"/><circle cx="408.1" cy="764.0" r="1.1" fill="#d2d2d4"/><circle cx="402.7" cy="769.5" r="1.1" fill="#d2d2d4"/><circle cx="412.4" cy="755.3" r="1.1" fill="#9c8ae6"/><circle cx="411.1" cy="750.9" r="1.1" fill="#d2d2d4"/><circle cx="410.1" cy="755.0" r="1.1" fill="#d2d2d4"/><circle cx="405.7" cy="757.3" r="1.1" fill="#d2d2d4"/><circle cx="405.4" cy="766.0" r="1.1" fill="#d2d2d4"/><circle cx="404.4" cy="745.7" r="1.1" fill="#d2d2d4"/><circle cx="416.2" cy="770.4" r="1.1" fill="#d2d2d4"/><circle cx="416.0" cy="752.6" r="1.1" fill="#d2d2d4"/><circle cx="415.5" cy="747.9" r="1.1" fill="#d2d2d4"/><circle cx="410.3" cy="764.4" r="1.1" fill="#d2d2d4"/><circle cx="414.4" cy="746.6" r="1.1" fill="#d2d2d4"/><circle cx="404.0" cy="740.8" r="1.1" fill="#d2d2d4"/><circle cx="414.6" cy="762.3" r="1.1" fill="#d2d2d4"/><circle cx="400.9" cy="743.0" r="1.1" fill="#d2d2d4"/><circle cx="406.5" cy="759.0" r="1.1" fill="#d2d2d4"/><circle cx="407.5" cy="744.5" r="1.1" fill="#d2d2d4"/><circle cx="410.8" cy="770.2" r="1.1" fill="#d2d2d4"/><circle cx="414.9" cy="757.1" r="1.1" fill="#d2d2d4"/><circle cx="412.4" cy="750.6" r="1.1" fill="#d2d2d4"/><circle cx="406.4" cy="770.3" r="1.1" fill="#d2d2d4"/><circle cx="417.6" cy="765.9" r="1.1" fill="#d2d2d4"/><circle cx="408.0" cy="763.0" r="1.1" fill="#d2d2d4"/><circle cx="407.3" cy="749.4" r="1.1" fill="#d2d2d4"/><circle cx="407.6" cy="768.2" r="1.1" fill="#d2d2d4"/><circle cx="405.1" cy="761.2" r="1.1" fill="#d2d2d4"/><circle cx="408.4" cy="769.0" r="1.1" fill="#d2d2d4"/><circle cx="404.2" cy="749.9" r="1.1" fill="#d2d2d4"/><circle cx="398.6" cy="742.4" r="1.1" fill="#d2d2d4"/><circle cx="404.2" cy="743.3" r="1.1" fill="#d2d2d4"/><circle cx="400.5" cy="762.9" r="1.1" fill="#d2d2d4"/><circle cx="412.6" cy="762.5" r="1.1" fill="#d2d2d4"/><circle cx="399.3" cy="743.9" r="1.1" fill="#9c8ae6"/><circle cx="416.2" cy="764.8" r="1.1" fill="#d2d2d4"/><circle cx="405.9" cy="761.0" r="1.1" fill="#9c8ae6"/><circle cx="412.9" cy="760.0" r="1.1" fill="#d2d2d4"/><circle cx="406.5" cy="754.6" r="1.1" fill="#d2d2d4"/><circle cx="411.3" cy="747.0" r="1.1" fill="#d2d2d4"/><circle cx="399.6" cy="754.6" r="1.1" fill="#9c8ae6"/><circle cx="406.6" cy="767.1" r="1.1" fill="#d2d2d4"/><circle cx="409.7" cy="763.7" r="1.1" fill="#d2d2d4"/><circle cx="402.6" cy="754.4" r="1.1" fill="#d2d2d4"/><circle cx="408.5" cy="741.6" r="1.1" fill="#d2d2d4"/><circle cx="403.7" cy="770.7" r="1.1" fill="#d2d2d4"/><circle cx="401.5" cy="755.1" r="1.1" fill="#d2d2d4"/><circle cx="409.6" cy="770.1" r="1.1" fill="#d2d2d4"/><circle cx="407.0" cy="749.0" r="1.1" fill="#d2d2d4"/><circle cx="410.9" cy="752.3" r="1.1" fill="#d2d2d4"/><circle cx="407.8" cy="768.1" r="1.1" fill="#d2d2d4"/><circle cx="408.9" cy="764.9" r="1.1" fill="#d2d2d4"/><circle cx="401.6" cy="765.7" r="1.1" fill="#d2d2d4"/><circle cx="409.7" cy="748.1" r="1.1" fill="#d2d2d4"/><circle cx="402.8" cy="760.0" r="1.1" fill="#d2d2d4"/><circle cx="402.0" cy="751.1" r="1.1" fill="#d2d2d4"/><circle cx="401.1" cy="749.9" r="1.1" fill="#d2d2d4"/><circle cx="407.2" cy="743.2" r="1.1" fill="#d2d2d4"/><circle cx="400.9" cy="751.2" r="1.1" fill="#d2d2d4"/><circle cx="414.3" cy="745.2" r="1.1" fill="#9c8ae6"/><circle cx="412.5" cy="744.1" r="1.1" fill="#d2d2d4"/><circle cx="399.9" cy="741.8" r="1.1" fill="#d2d2d4"/><circle cx="405.1" cy="749.8" r="1.1" fill="#d2d2d4"/><circle cx="404.2" cy="746.9" r="1.1" fill="#d2d2d4"/><circle cx="404.3" cy="768.1" r="1.1" fill="#d2d2d4"/><circle cx="411.7" cy="748.8" r="1.1" fill="#d2d2d4"/><circle cx="414.1" cy="767.4" r="1.1" fill="#d2d2d4"/><circle cx="408.8" cy="766.2" r="1.1" fill="#d2d2d4"/><circle cx="405.3" cy="741.4" r="1.1" fill="#d2d2d4"/><circle cx="411.1" cy="770.9" r="1.1" fill="#d2d2d4"/><circle cx="408.2" cy="751.8" r="1.1" fill="#d2d2d4"/><circle cx="411.5" cy="747.7" r="1.1" fill="#d2d2d4"/><circle cx="409.9" cy="758.0" r="1.1" fill="#d2d2d4"/><circle cx="410.8" cy="753.9" r="1.1" fill="#d2d2d4"/><circle cx="410.3" cy="769.3" r="1.1" fill="#9c8ae6"/><circle cx="408.3" cy="766.8" r="1.1" fill="#d2d2d4"/><circle cx="409.9" cy="749.6" r="1.1" fill="#d2d2d4"/><circle cx="412.8" cy="753.6" r="1.1" fill="#d2d2d4"/><circle cx="409.6" cy="763.7" r="1.1" fill="#d2d2d4"/><circle cx="412.4" cy="767.2" r="1.1" fill="#d2d2d4"/><circle cx="409.3" cy="755.1" r="1.1" fill="#d2d2d4"/><circle cx="404.6" cy="746.4" r="1.1" fill="#d2d2d4"/><circle cx="405.1" cy="744.1" r="1.1" fill="#d2d2d4"/><circle cx="409.6" cy="743.2" r="1.1" fill="#d2d2d4"/><circle cx="405.5" cy="741.9" r="1.1" fill="#d2d2d4"/><circle cx="414.6" cy="757.2" r="1.1" fill="#d2d2d4"/><circle cx="409.4" cy="742.2" r="1.1" fill="#d2d2d4"/><circle cx="410.7" cy="746.9" r="1.1" fill="#d2d2d4"/><circle cx="404.3" cy="756.1" r="1.1" fill="#d2d2d4"/><circle cx="413.3" cy="763.9" r="1.1" fill="#d2d2d4"/><circle cx="416.7" cy="765.1" r="1.1" fill="#d2d2d4"/><circle cx="408.6" cy="772.4" r="1.1" fill="#d2d2d4"/><circle cx="404.2" cy="747.0" r="1.1" fill="#9c8ae6"/><circle cx="410.0" cy="749.7" r="1.1" fill="#d2d2d4"/><circle cx="406.7" cy="767.7" r="1.1" fill="#d2d2d4"/><circle cx="407.2" cy="762.4" r="1.1" fill="#d2d2d4"/><circle cx="408.5" cy="756.1" r="1.1" fill="#9c8ae6"/><circle cx="413.2" cy="755.5" r="1.1" fill="#d2d2d4"/><circle cx="408.9" cy="767.9" r="1.1" fill="#d2d2d4"/><circle cx="409.1" cy="746.2" r="1.1" fill="#d2d2d4"/><circle cx="417.3" cy="771.4" r="1.1" fill="#d2d2d4"/><circle cx="420.0" cy="772.5" r="1.1" fill="#d2d2d4"/><circle cx="418.6" cy="777.3" r="1.1" fill="#d2d2d4"/><circle cx="411.0" cy="805.7" r="1.1" fill="#d2d2d4"/><circle cx="418.3" cy="766.4" r="1.1" fill="#d2d2d4"/><circle cx="418.7" cy="783.3" r="1.1" fill="#d2d2d4"/><circle cx="414.8" cy="774.0" r="1.1" fill="#d2d2d4"/><circle cx="417.7" cy="791.1" r="1.1" fill="#d2d2d4"/><circle cx="416.6" cy="772.3" r="1.1" fill="#d2d2d4"/><circle cx="411.1" cy="800.6" r="1.1" fill="#d2d2d4"/><circle cx="414.2" cy="802.9" r="1.1" fill="#d2d2d4"/><circle cx="416.2" cy="772.0" r="1.1" fill="#d2d2d4"/><circle cx="418.3" cy="806.7" r="1.1" fill="#d2d2d4"/><circle cx="409.9" cy="796.2" r="1.1" fill="#d2d2d4"/><circle cx="417.3" cy="793.7" r="1.1" fill="#d2d2d4"/><circle cx="420.0" cy="778.7" r="1.1" fill="#9c8ae6"/><circle cx="418.7" cy="789.0" r="1.1" fill="#d2d2d4"/><circle cx="420.5" cy="765.9" r="1.1" fill="#d2d2d4"/><circle cx="410.1" cy="809.6" r="1.1" fill="#d2d2d4"/><circle cx="415.4" cy="792.9" r="1.1" fill="#d2d2d4"/><circle cx="413.9" cy="784.3" r="1.1" fill="#d2d2d4"/><circle cx="418.1" cy="773.5" r="1.1" fill="#d2d2d4"/><circle cx="413.2" cy="800.7" r="1.1" fill="#d2d2d4"/><circle cx="414.0" cy="792.9" r="1.1" fill="#d2d2d4"/><circle cx="415.5" cy="785.4" r="1.1" fill="#d2d2d4"/><circle cx="419.4" cy="792.2" r="1.1" fill="#d2d2d4"/><circle cx="416.8" cy="779.6" r="1.1" fill="#d2d2d4"/><circle cx="419.7" cy="776.7" r="1.1" fill="#d2d2d4"/><circle cx="420.6" cy="795.1" r="1.1" fill="#d2d2d4"/><circle cx="415.4" cy="777.0" r="1.1" fill="#9c8ae6"/><circle cx="416.7" cy="795.0" r="1.1" fill="#d2d2d4"/><circle cx="413.9" cy="803.7" r="1.1" fill="#d2d2d4"/><circle cx="412.6" cy="805.8" r="1.1" fill="#d2d2d4"/><circle cx="410.1" cy="801.9" r="1.1" fill="#d2d2d4"/><circle cx="418.8" cy="791.7" r="1.1" fill="#d2d2d4"/><circle cx="410.9" cy="806.0" r="1.1" fill="#d2d2d4"/><circle cx="416.7" cy="799.8" r="1.1" fill="#d2d2d4"/><circle cx="417.8" cy="791.5" r="1.1" fill="#d2d2d4"/><circle cx="418.7" cy="806.8" r="1.1" fill="#d2d2d4"/><circle cx="414.6" cy="786.7" r="1.1" fill="#d2d2d4"/><circle cx="417.6" cy="780.5" r="1.1" fill="#d2d2d4"/><circle cx="409.1" cy="792.5" r="1.1" fill="#d2d2d4"/><circle cx="415.4" cy="795.0" r="1.1" fill="#d2d2d4"/><circle cx="416.5" cy="791.8" r="1.1" fill="#d2d2d4"/><circle cx="423.8" cy="778.1" r="1.1" fill="#d2d2d4"/><circle cx="416.2" cy="779.9" r="1.1" fill="#d2d2d4"/><circle cx="420.2" cy="782.3" r="1.1" fill="#d2d2d4"/><circle cx="416.4" cy="794.5" r="1.1" fill="#d2d2d4"/><circle cx="419.8" cy="780.4" r="1.1" fill="#d2d2d4"/><circle cx="418.8" cy="786.8" r="1.1" fill="#d2d2d4"/><circle cx="419.7" cy="774.0" r="1.1" fill="#d2d2d4"/><circle cx="410.8" cy="802.9" r="1.1" fill="#d2d2d4"/><circle cx="421.2" cy="775.0" r="1.1" fill="#d2d2d4"/><circle cx="413.3" cy="794.0" r="1.1" fill="#d2d2d4"/><circle cx="420.3" cy="787.2" r="1.1" fill="#d2d2d4"/><circle cx="422.6" cy="765.0" r="1.1" fill="#d2d2d4"/><circle cx="414.9" cy="786.5" r="1.1" fill="#9c8ae6"/><circle cx="408.5" cy="801.1" r="1.1" fill="#d2d2d4"/><circle cx="416.0" cy="766.9" r="1.1" fill="#d2d2d4"/><circle cx="413.4" cy="806.3" r="1.1" fill="#d2d2d4"/><circle cx="410.5" cy="799.0" r="1.1" fill="#d2d2d4"/><circle cx="413.2" cy="795.1" r="1.1" fill="#d2d2d4"/><circle cx="415.0" cy="767.6" r="1.1" fill="#d2d2d4"/><circle cx="418.6" cy="804.5" r="1.1" fill="#d2d2d4"/><circle cx="423.3" cy="765.6" r="1.1" fill="#d2d2d4"/><circle cx="422.8" cy="785.3" r="1.1" fill="#d2d2d4"/><circle cx="413.8" cy="784.5" r="1.1" fill="#d2d2d4"/><circle cx="416.5" cy="768.5" r="1.1" fill="#d2d2d4"/><circle cx="420.0" cy="764.7" r="1.1" fill="#d2d2d4"/><circle cx="410.6" cy="804.5" r="1.1" fill="#d2d2d4"/><circle cx="415.4" cy="772.4" r="1.1" fill="#d2d2d4"/><circle cx="423.6" cy="799.1" r="1.1" fill="#d2d2d4"/><circle cx="417.9" cy="783.9" r="1.1" fill="#d2d2d4"/><circle cx="414.5" cy="785.1" r="1.1" fill="#d2d2d4"/><circle cx="417.6" cy="806.7" r="1.1" fill="#d2d2d4"/><circle cx="418.4" cy="765.0" r="1.1" fill="#d2d2d4"/><circle cx="416.0" cy="767.1" r="1.1" fill="#d2d2d4"/><circle cx="414.2" cy="779.4" r="1.1" fill="#d2d2d4"/><circle cx="413.4" cy="776.4" r="1.1" fill="#d2d2d4"/><circle cx="420.8" cy="773.3" r="1.1" fill="#d2d2d4"/><circle cx="416.4" cy="809.4" r="1.1" fill="#d2d2d4"/><circle cx="419.5" cy="803.6" r="1.1" fill="#d2d2d4"/><circle cx="414.0" cy="792.5" r="1.1" fill="#d2d2d4"/><circle cx="415.5" cy="786.4" r="1.1" fill="#d2d2d4"/><circle cx="412.6" cy="798.1" r="1.1" fill="#d2d2d4"/><circle cx="415.4" cy="780.8" r="1.1" fill="#d2d2d4"/><circle cx="414.1" cy="808.4" r="1.1" fill="#d2d2d4"/><circle cx="415.9" cy="766.2" r="1.1" fill="#9c8ae6"/><circle cx="412.9" cy="782.7" r="1.1" fill="#d2d2d4"/><circle cx="417.6" cy="781.6" r="1.1" fill="#d2d2d4"/><circle cx="417.3" cy="778.6" r="1.1" fill="#d2d2d4"/><circle cx="410.0" cy="787.9" r="1.1" fill="#d2d2d4"/><circle cx="421.9" cy="764.6" r="1.1" fill="#d2d2d4"/><circle cx="409.8" cy="791.4" r="1.1" fill="#d2d2d4"/><circle cx="408.7" cy="790.3" r="1.1" fill="#d2d2d4"/><circle cx="413.2" cy="786.1" r="1.1" fill="#d2d2d4"/><circle cx="409.0" cy="786.1" r="1.1" fill="#d2d2d4"/><circle cx="419.3" cy="795.5" r="1.1" fill="#d2d2d4"/><circle cx="413.9" cy="807.7" r="1.1" fill="#9c8ae6"/><circle cx="409.0" cy="776.6" r="1.1" fill="#d2d2d4"/><circle cx="416.8" cy="782.8" r="1.1" fill="#d2d2d4"/><circle cx="413.5" cy="783.0" r="1.1" fill="#d2d2d4"/><circle cx="418.1" cy="807.0" r="1.1" fill="#d2d2d4"/><circle cx="419.4" cy="787.1" r="1.1" fill="#d2d2d4"/><circle cx="421.7" cy="792.0" r="1.1" fill="#d2d2d4"/><circle cx="418.4" cy="786.1" r="1.1" fill="#d2d2d4"/><circle cx="414.4" cy="799.2" r="1.1" fill="#d2d2d4"/><circle cx="419.3" cy="799.4" r="1.1" fill="#d2d2d4"/><circle cx="423.6" cy="807.0" r="1.1" fill="#d2d2d4"/><circle cx="411.7" cy="779.7" r="1.1" fill="#d2d2d4"/><circle cx="411.4" cy="770.5" r="1.1" fill="#d2d2d4"/><circle cx="418.9" cy="800.0" r="1.1" fill="#d2d2d4"/><circle cx="409.6" cy="776.0" r="1.1" fill="#d2d2d4"/><circle cx="411.9" cy="805.6" r="1.1" fill="#d2d2d4"/><circle cx="420.7" cy="773.9" r="1.1" fill="#d2d2d4"/><circle cx="421.1" cy="766.6" r="1.1" fill="#d2d2d4"/><circle cx="415.1" cy="810.1" r="1.1" fill="#d2d2d4"/><circle cx="419.2" cy="795.3" r="1.1" fill="#d2d2d4"/><circle cx="420.7" cy="807.3" r="1.1" fill="#d2d2d4"/><circle cx="411.8" cy="792.0" r="1.1" fill="#d2d2d4"/><circle cx="415.0" cy="793.8" r="1.1" fill="#d2d2d4"/><circle cx="414.5" cy="808.7" r="1.1" fill="#d2d2d4"/><circle cx="416.0" cy="769.0" r="1.1" fill="#d2d2d4"/><circle cx="421.9" cy="767.4" r="1.1" fill="#d2d2d4"/><circle cx="415.3" cy="765.4" r="1.1" fill="#d2d2d4"/><circle cx="416.3" cy="796.6" r="1.1" fill="#9c8ae6"/><circle cx="419.7" cy="767.9" r="1.1" fill="#d2d2d4"/><circle cx="415.9" cy="771.8" r="1.1" fill="#d2d2d4"/><circle cx="413.7" cy="793.9" r="1.1" fill="#d2d2d4"/><circle cx="418.0" cy="769.9" r="1.1" fill="#d2d2d4"/><circle cx="419.5" cy="764.6" r="1.1" fill="#d2d2d4"/><circle cx="420.7" cy="801.4" r="1.1" fill="#d2d2d4"/><circle cx="419.3" cy="769.8" r="1.1" fill="#d2d2d4"/><circle cx="417.7" cy="776.9" r="1.1" fill="#d2d2d4"/><circle cx="422.2" cy="795.8" r="1.1" fill="#d2d2d4"/><circle cx="412.6" cy="777.5" r="1.1" fill="#d2d2d4"/><circle cx="412.4" cy="804.0" r="1.1" fill="#d2d2d4"/><circle cx="407.8" cy="789.8" r="1.1" fill="#d2d2d4"/><circle cx="415.8" cy="806.5" r="1.1" fill="#d2d2d4"/><circle cx="420.3" cy="777.6" r="1.1" fill="#d2d2d4"/><circle cx="416.7" cy="801.2" r="1.1" fill="#d2d2d4"/><circle cx="419.5" cy="779.7" r="1.1" fill="#d2d2d4"/><circle cx="413.4" cy="774.0" r="1.1" fill="#d2d2d4"/><circle cx="421.6" cy="769.6" r="1.1" fill="#d2d2d4"/><circle cx="417.1" cy="783.1" r="1.1" fill="#d2d2d4"/><circle cx="420.9" cy="767.7" r="1.1" fill="#d2d2d4"/><circle cx="416.0" cy="779.6" r="1.1" fill="#d2d2d4"/><circle cx="420.6" cy="806.0" r="1.1" fill="#9c8ae6"/><circle cx="413.5" cy="765.1" r="1.1" fill="#d2d2d4"/><circle cx="418.3" cy="785.8" r="1.1" fill="#d2d2d4"/><circle cx="393.1" cy="767.4" r="1.1" fill="#d2d2d4"/><circle cx="392.0" cy="769.7" r="1.1" fill="#d2d2d4"/><circle cx="394.0" cy="765.2" r="1.1" fill="#d2d2d4"/><circle cx="378.1" cy="762.7" r="1.1" fill="#d2d2d4"/><circle cx="381.4" cy="772.2" r="1.1" fill="#d2d2d4"/></g>
<line x1="351.0" y1="691.8" x2="351.0" y2="816.7" stroke="#000" stroke-width="2.0" />
<line x1="350.0" y1="815.7" x2="465.1" y2="815.7" stroke="#000" stroke-width="2.0" />
<line x1="346.8" y1="692.7" x2="351.0" y2="692.7" stroke="#000" stroke-width="1.4" />
<text x="344.0" y="695.9" font-size="9.0" font-weight="normal" text-anchor="end" fill="#000" >20</text>
<line x1="346.8" y1="720.8" x2="351.0" y2="720.8" stroke="#000" stroke-width="1.4" />
<text x="344.0" y="724.0" font-size="9.0" font-weight="normal" text-anchor="end" fill="#000" >10</text>
<line x1="346.8" y1="748.9" x2="351.0" y2="748.9" stroke="#000" stroke-width="1.4" />
<text x="344.0" y="752.1" font-size="9.0" font-weight="normal" text-anchor="end" fill="#000" >0</text>
<line x1="346.8" y1="777.0" x2="351.0" y2="777.0" stroke="#000" stroke-width="1.4" />
<text x="344.0" y="780.2" font-size="9.0" font-weight="normal" text-anchor="end" fill="#000" >−10</text>
<line x1="346.8" y1="805.1" x2="351.0" y2="805.1" stroke="#000" stroke-width="1.4" />
<text x="344.0" y="808.3" font-size="9.0" font-weight="normal" text-anchor="end" fill="#000" >−20</text>
<line x1="362.3" y1="815.7" x2="362.3" y2="819.7" stroke="#000" stroke-width="1.4" />
<text transform="translate(366.6,828.3) rotate(-45)" font-size="9.1" text-anchor="end">−20</text>
<line x1="384.8" y1="815.7" x2="384.8" y2="819.7" stroke="#000" stroke-width="1.4" />
<text transform="translate(389.1,828.3) rotate(-45)" font-size="9.1" text-anchor="end">−10</text>
<line x1="407.3" y1="815.7" x2="407.3" y2="819.7" stroke="#000" stroke-width="1.4" />
<text transform="translate(411.6,828.3) rotate(-45)" font-size="9.1" text-anchor="end">0</text>
<line x1="429.8" y1="815.7" x2="429.8" y2="819.7" stroke="#000" stroke-width="1.4" />
<text transform="translate(434.1,828.3) rotate(-45)" font-size="9.1" text-anchor="end">10</text>
<line x1="452.3" y1="815.7" x2="452.3" y2="819.7" stroke="#000" stroke-width="1.4" />
<text transform="translate(456.6,828.3) rotate(-45)" font-size="9.1" text-anchor="end">20</text>
<text x="406.8" y="853.0" font-size="9.2" font-weight="normal" text-anchor="middle" fill="#000" >t–SNE 1</text>
<text transform="translate(322.6,755.6) rotate(-90)" font-size="9.2" text-anchor="middle">t–SNE 2</text>
<text x="415.5" y="682.9" font-size="13.0" font-weight="bold" text-anchor="middle" fill="#000" font-style="italic">MMP2</text>
<defs><linearGradient id="tcb1" x1="0" y1="0" x2="0" y2="1"><stop offset="0" stop-color="#1a0cf8"/><stop offset="0.3" stop-color="#6a4ee8"/><stop offset="0.6" stop-color="#a594e2"/><stop offset="1" stop-color="#d8d8d8"/></linearGradient></defs>
<rect x="481.0" y="710.5" width="6.199999999999989" height="90.4" fill="url(#tcb1)"/>
<line x1="481.0" y1="716.6" x2="482.3" y2="716.6" stroke="#fff" stroke-width="0.8" opacity="0.7"/>
<line x1="485.9" y1="716.6" x2="487.2" y2="716.6" stroke="#fff" stroke-width="0.8" opacity="0.7"/>
<text x="488.2" y="718.9" font-size="6.4" font-weight="normal" text-anchor="start" fill="#000" >4</text>
<line x1="481.0" y1="737.3" x2="482.3" y2="737.3" stroke="#fff" stroke-width="0.8" opacity="0.7"/>
<line x1="485.9" y1="737.3" x2="487.2" y2="737.3" stroke="#fff" stroke-width="0.8" opacity="0.7"/>
<text x="488.2" y="739.6" font-size="6.4" font-weight="normal" text-anchor="start" fill="#000" >3</text>
<line x1="481.0" y1="758.0" x2="482.3" y2="758.0" stroke="#fff" stroke-width="0.8" opacity="0.7"/>
<line x1="485.9" y1="758.0" x2="487.2" y2="758.0" stroke="#fff" stroke-width="0.8" opacity="0.7"/>
<text x="488.2" y="760.3" font-size="6.4" font-weight="normal" text-anchor="start" fill="#000" >2</text>
<line x1="481.0" y1="779.0" x2="482.3" y2="779.0" stroke="#fff" stroke-width="0.8" opacity="0.7"/>
<line x1="485.9" y1="779.0" x2="487.2" y2="779.0" stroke="#fff" stroke-width="0.8" opacity="0.7"/>
<text x="488.2" y="781.3" font-size="6.4" font-weight="normal" text-anchor="start" fill="#000" >1</text>
<line x1="481.0" y1="799.8" x2="482.3" y2="799.8" stroke="#fff" stroke-width="0.8" opacity="0.7"/>
<line x1="485.9" y1="799.8" x2="487.2" y2="799.8" stroke="#fff" stroke-width="0.8" opacity="0.7"/>
<text x="488.2" y="802.1" font-size="6.4" font-weight="normal" text-anchor="start" fill="#000" >0</text>
<g><circle cx="570.8" cy="714.9" r="1.1" fill="#d3d3d5"/><circle cx="581.3" cy="720.9" r="1.1" fill="#d3d3d5"/><circle cx="570.3" cy="717.9" r="1.1" fill="#d3d3d5"/><circle cx="578.8" cy="710.0" r="1.1" fill="#d3d3d5"/><circle cx="570.8" cy="726.1" r="1.1" fill="#d3d3d5"/><circle cx="579.9" cy="714.2" r="1.1" fill="#d3d3d5"/><circle cx="583.8" cy="710.8" r="1.1" fill="#d3d3d5"/><circle cx="576.1" cy="719.3" r="1.1" fill="#d3d3d5"/><circle cx="572.8" cy="725.1" r="1.1" fill="#d3d3d5"/><circle cx="577.0" cy="716.4" r="1.1" fill="#d3d3d5"/><circle cx="574.9" cy="717.8" r="1.1" fill="#d3d3d5"/><circle cx="577.8" cy="712.8" r="1.1" fill="#d3d3d5"/><circle cx="581.7" cy="716.0" r="1.1" fill="#d3d3d5"/><circle cx="568.1" cy="712.7" r="1.1" fill="#d3d3d5"/><circle cx="569.8" cy="718.6" r="1.1" fill="#d3d3d5"/><circle cx="569.6" cy="717.4" r="1.1" fill="#d3d3d5"/><circle cx="572.9" cy="716.0" r="1.1" fill="#d3d3d5"/><circle cx="580.5" cy="726.4" r="1.1" fill="#d3d3d5"/><circle cx="575.2" cy="713.0" r="1.1" fill="#d3d3d5"/><circle cx="576.1" cy="714.9" r="1.1" fill="#d3d3d5"/><circle cx="577.0" cy="724.2" r="1.1" fill="#d3d3d5"/><circle cx="579.2" cy="722.9" r="1.1" fill="#d3d3d5"/><circle cx="585.4" cy="720.8" r="1.1" fill="#d3d3d5"/><circle cx="579.8" cy="717.4" r="1.1" fill="#d3d3d5"/><circle cx="581.1" cy="721.5" r="1.1" fill="#d3d3d5"/><circle cx="581.3" cy="718.3" r="1.1" fill="#d3d3d5"/><circle cx="582.5" cy="713.2" r="1.1" fill="#d3d3d5"/><circle cx="577.2" cy="722.7" r="1.1" fill="#d3d3d5"/><circle cx="580.2" cy="714.3" r="1.1" fill="#d3d3d5"/><circle cx="584.3" cy="720.0" r="1.1" fill="#d3d3d5"/><circle cx="579.2" cy="714.0" r="1.1" fill="#d3d3d5"/><circle cx="577.9" cy="716.0" r="1.1" fill="#d3d3d5"/><circle cx="577.4" cy="721.5" r="1.1" fill="#d3d3d5"/><circle cx="571.8" cy="720.1" r="1.1" fill="#d3d3d5"/><circle cx="579.3" cy="707.2" r="1.1" fill="#d3d3d5"/><circle cx="581.2" cy="710.3" r="1.1" fill="#d3d3d5"/><circle cx="580.2" cy="712.7" r="1.1" fill="#d3d3d5"/><circle cx="577.4" cy="712.2" r="1.1" fill="#d3d3d5"/><circle cx="584.9" cy="719.6" r="1.1" fill="#d3d3d5"/><circle cx="577.7" cy="710.9" r="1.1" fill="#d3d3d5"/><circle cx="580.7" cy="725.1" r="1.1" fill="#d3d3d5"/><circle cx="577.4" cy="712.4" r="1.1" fill="#d3d3d5"/><circle cx="577.1" cy="723.4" r="1.1" fill="#d3d3d5"/><circle cx="576.0" cy="714.9" r="1.1" fill="#d3d3d5"/><circle cx="581.8" cy="712.6" r="1.1" fill="#d3d3d5"/><circle cx="576.8" cy="708.3" r="1.1" fill="#d3d3d5"/><circle cx="573.0" cy="712.1" r="1.1" fill="#d3d3d5"/><circle cx="581.8" cy="719.4" r="1.1" fill="#d3d3d5"/><circle cx="568.1" cy="723.5" r="1.1" fill="#d3d3d5"/><circle cx="577.7" cy="713.9" r="1.1" fill="#d3d3d5"/><circle cx="583.9" cy="724.2" r="1.1" fill="#d3d3d5"/><circle cx="576.6" cy="713.1" r="1.1" fill="#d3d3d5"/><circle cx="581.3" cy="723.6" r="1.1" fill="#d3d3d5"/><circle cx="574.6" cy="715.9" r="1.1" fill="#d3d3d5"/><circle cx="577.1" cy="706.9" r="1.1" fill="#d3d3d5"/><circle cx="573.3" cy="720.6" r="1.1" fill="#d3d3d5"/><circle cx="580.0" cy="707.8" r="1.1" fill="#d3d3d5"/><circle cx="579.6" cy="715.4" r="1.1" fill="#d3d3d5"/><circle cx="567.9" cy="722.2" r="1.1" fill="#d3d3d5"/><circle cx="573.7" cy="721.0" r="1.1" fill="#d3d3d5"/><circle cx="579.3" cy="719.7" r="1.1" fill="#d3d3d5"/><circle cx="580.3" cy="716.9" r="1.1" fill="#d3d3d5"/><circle cx="575.0" cy="716.6" r="1.1" fill="#d3d3d5"/><circle cx="578.6" cy="711.6" r="1.1" fill="#d3d3d5"/><circle cx="574.3" cy="719.0" r="1.1" fill="#d3d3d5"/><circle cx="570.1" cy="706.6" r="1.1" fill="#d3d3d5"/><circle cx="583.4" cy="718.6" r="1.1" fill="#d3d3d5"/><circle cx="574.3" cy="725.8" r="1.1" fill="#d3d3d5"/><circle cx="577.4" cy="716.0" r="1.1" fill="#d3d3d5"/><circle cx="583.2" cy="716.2" r="1.1" fill="#d3d3d5"/><circle cx="568.9" cy="716.2" r="1.1" fill="#d3d3d5"/><circle cx="581.8" cy="713.6" r="1.1" fill="#d3d3d5"/><circle cx="576.0" cy="727.9" r="1.1" fill="#d3d3d5"/><circle cx="572.3" cy="709.2" r="1.1" fill="#d3d3d5"/><circle cx="584.3" cy="725.4" r="1.1" fill="#d3d3d5"/><circle cx="569.3" cy="711.5" r="1.1" fill="#d3d3d5"/><circle cx="580.6" cy="724.1" r="1.1" fill="#d3d3d5"/><circle cx="573.3" cy="722.1" r="1.1" fill="#d3d3d5"/><circle cx="570.9" cy="722.0" r="1.1" fill="#d3d3d5"/><circle cx="582.5" cy="712.8" r="1.1" fill="#d3d3d5"/><circle cx="586.3" cy="718.0" r="1.1" fill="#d3d3d5"/><circle cx="575.9" cy="724.1" r="1.1" fill="#d3d3d5"/><circle cx="576.0" cy="726.3" r="1.1" fill="#d3d3d5"/><circle cx="568.2" cy="712.7" r="1.1" fill="#d3d3d5"/><circle cx="583.4" cy="711.8" r="1.1" fill="#d3d3d5"/><circle cx="582.8" cy="715.7" r="1.1" fill="#d3d3d5"/><circle cx="573.2" cy="716.8" r="1.1" fill="#d3d3d5"/><circle cx="574.8" cy="724.9" r="1.1" fill="#d3d3d5"/><circle cx="568.6" cy="727.4" r="1.1" fill="#d3d3d5"/><circle cx="576.5" cy="716.4" r="1.1" fill="#d3d3d5"/><circle cx="574.3" cy="707.8" r="1.1" fill="#d3d3d5"/><circle cx="577.4" cy="713.5" r="1.1" fill="#d3d3d5"/><circle cx="582.3" cy="723.0" r="1.1" fill="#d3d3d5"/><circle cx="567.2" cy="712.4" r="1.1" fill="#d3d3d5"/><circle cx="573.3" cy="708.6" r="1.1" fill="#d3d3d5"/><circle cx="578.8" cy="738.5" r="1.1" fill="#d3d3d5"/><circle cx="583.2" cy="730.6" r="1.1" fill="#d3d3d5"/><circle cx="577.6" cy="729.7" r="1.1" fill="#d3d3d5"/><circle cx="577.4" cy="733.5" r="1.1" fill="#d3d3d5"/><circle cx="579.2" cy="739.3" r="1.1" fill="#d3d3d5"/><circle cx="582.6" cy="730.2" r="1.1" fill="#d3d3d5"/><circle cx="583.4" cy="731.8" r="1.1" fill="#d3d3d5"/><circle cx="576.8" cy="737.5" r="1.1" fill="#d3d3d5"/><circle cx="577.2" cy="735.2" r="1.1" fill="#d3d3d5"/><circle cx="578.6" cy="738.3" r="1.1" fill="#d3d3d5"/><circle cx="578.9" cy="732.9" r="1.1" fill="#d3d3d5"/><circle cx="581.6" cy="737.0" r="1.1" fill="#d3d3d5"/><circle cx="578.3" cy="728.3" r="1.1" fill="#d3d3d5"/><circle cx="576.6" cy="740.1" r="1.1" fill="#d3d3d5"/><circle cx="573.9" cy="729.7" r="1.1" fill="#d3d3d5"/><circle cx="579.6" cy="731.9" r="1.1" fill="#d3d3d5"/><circle cx="581.3" cy="737.0" r="1.1" fill="#d3d3d5"/><circle cx="577.3" cy="740.8" r="1.1" fill="#d3d3d5"/><circle cx="575.2" cy="735.2" r="1.1" fill="#d3d3d5"/><circle cx="576.1" cy="730.3" r="1.1" fill="#d3d3d5"/><circle cx="576.4" cy="739.2" r="1.1" fill="#d3d3d5"/><circle cx="578.5" cy="732.9" r="1.1" fill="#d3d3d5"/><circle cx="580.4" cy="732.9" r="1.1" fill="#d3d3d5"/><circle cx="583.7" cy="730.6" r="1.1" fill="#d3d3d5"/><circle cx="576.1" cy="732.2" r="1.1" fill="#d3d3d5"/><circle cx="576.4" cy="734.9" r="1.1" fill="#d3d3d5"/><circle cx="579.2" cy="740.9" r="1.1" fill="#d3d3d5"/><circle cx="575.8" cy="731.8" r="1.1" fill="#d3d3d5"/><circle cx="578.1" cy="737.5" r="1.1" fill="#d3d3d5"/><circle cx="579.2" cy="732.0" r="1.1" fill="#d3d3d5"/><circle cx="636.4" cy="709.5" r="1.1" fill="#d3d3d5"/><circle cx="638.4" cy="711.6" r="1.1" fill="#d3d3d5"/><circle cx="639.5" cy="714.1" r="1.1" fill="#d3d3d5"/><circle cx="633.5" cy="707.6" r="1.1" fill="#d3d3d5"/><circle cx="632.4" cy="705.7" r="1.1" fill="#d3d3d5"/><circle cx="639.0" cy="711.8" r="1.1" fill="#d3d3d5"/><circle cx="637.0" cy="707.6" r="1.1" fill="#d3d3d5"/><circle cx="637.6" cy="713.0" r="1.1" fill="#d3d3d5"/><circle cx="634.0" cy="703.9" r="1.1" fill="#d3d3d5"/><circle cx="638.6" cy="714.7" r="1.1" fill="#d3d3d5"/><circle cx="634.7" cy="705.0" r="1.1" fill="#d3d3d5"/><circle cx="634.4" cy="703.8" r="1.1" fill="#d3d3d5"/><circle cx="635.8" cy="708.7" r="1.1" fill="#d3d3d5"/><circle cx="630.5" cy="699.7" r="1.1" fill="#d3d3d5"/><circle cx="638.5" cy="710.7" r="1.1" fill="#d3d3d5"/><circle cx="638.4" cy="710.8" r="1.1" fill="#d3d3d5"/><circle cx="635.1" cy="708.9" r="1.1" fill="#d3d3d5"/><circle cx="637.9" cy="710.1" r="1.1" fill="#d3d3d5"/><circle cx="640.2" cy="713.5" r="1.1" fill="#d3d3d5"/><circle cx="635.1" cy="705.6" r="1.1" fill="#d3d3d5"/><circle cx="635.1" cy="709.2" r="1.1" fill="#d3d3d5"/><circle cx="635.5" cy="706.8" r="1.1" fill="#d3d3d5"/><circle cx="651.1" cy="718.4" r="1.1" fill="#d3d3d5"/><circle cx="641.8" cy="718.7" r="1.1" fill="#d3d3d5"/><circle cx="639.0" cy="718.6" r="1.1" fill="#d3d3d5"/><circle cx="644.0" cy="717.9" r="1.1" fill="#d3d3d5"/><circle cx="651.1" cy="718.4" r="1.1" fill="#d3d3d5"/><circle cx="637.4" cy="711.5" r="1.1" fill="#d3d3d5"/><circle cx="639.4" cy="719.5" r="1.1" fill="#d3d3d5"/><circle cx="644.3" cy="719.0" r="1.1" fill="#d3d3d5"/><circle cx="639.8" cy="718.5" r="1.1" fill="#d3d3d5"/><circle cx="644.2" cy="711.1" r="1.1" fill="#d3d3d5"/><circle cx="648.8" cy="713.1" r="1.1" fill="#d3d3d5"/><circle cx="640.5" cy="716.5" r="1.1" fill="#d3d3d5"/><circle cx="647.5" cy="710.2" r="1.1" fill="#d3d3d5"/><circle cx="647.4" cy="718.4" r="1.1" fill="#d3d3d5"/><circle cx="645.2" cy="718.3" r="1.1" fill="#d3d3d5"/><circle cx="646.2" cy="713.5" r="1.1" fill="#d3d3d5"/><circle cx="643.2" cy="721.5" r="1.1" fill="#d3d3d5"/><circle cx="640.5" cy="711.3" r="1.1" fill="#d3d3d5"/><circle cx="651.6" cy="711.8" r="1.1" fill="#d3d3d5"/><circle cx="649.4" cy="712.7" r="1.1" fill="#d3d3d5"/><circle cx="644.9" cy="713.6" r="1.1" fill="#d3d3d5"/><circle cx="639.5" cy="718.2" r="1.1" fill="#d3d3d5"/><circle cx="641.2" cy="713.3" r="1.1" fill="#d3d3d5"/><circle cx="641.9" cy="717.7" r="1.1" fill="#d3d3d5"/><circle cx="647.0" cy="709.9" r="1.1" fill="#d3d3d5"/><circle cx="640.9" cy="722.2" r="1.1" fill="#d3d3d5"/><circle cx="649.2" cy="723.1" r="1.1" fill="#d3d3d5"/><circle cx="647.3" cy="720.2" r="1.1" fill="#d3d3d5"/><circle cx="648.6" cy="719.8" r="1.1" fill="#d3d3d5"/><circle cx="647.1" cy="719.0" r="1.1" fill="#d3d3d5"/><circle cx="645.5" cy="708.6" r="1.1" fill="#d3d3d5"/><circle cx="644.8" cy="714.7" r="1.1" fill="#d3d3d5"/><circle cx="647.6" cy="722.0" r="1.1" fill="#d3d3d5"/><circle cx="645.6" cy="719.8" r="1.1" fill="#d3d3d5"/><circle cx="638.5" cy="712.5" r="1.1" fill="#d3d3d5"/><circle cx="648.4" cy="716.7" r="1.1" fill="#d3d3d5"/><circle cx="647.5" cy="717.7" r="1.1" fill="#d3d3d5"/><circle cx="636.2" cy="717.5" r="1.1" fill="#d3d3d5"/><circle cx="637.1" cy="717.3" r="1.1" fill="#d3d3d5"/><circle cx="645.7" cy="715.3" r="1.1" fill="#d3d3d5"/><circle cx="646.1" cy="716.2" r="1.1" fill="#d3d3d5"/><circle cx="639.1" cy="719.2" r="1.1" fill="#d3d3d5"/><circle cx="642.3" cy="718.4" r="1.1" fill="#d3d3d5"/><circle cx="646.3" cy="713.8" r="1.1" fill="#d3d3d5"/><circle cx="647.0" cy="718.2" r="1.1" fill="#d3d3d5"/><circle cx="636.4" cy="715.0" r="1.1" fill="#d3d3d5"/><circle cx="561.3" cy="744.3" r="1.1" fill="#d3d3d5"/><circle cx="561.5" cy="745.6" r="1.1" fill="#d3d3d5"/><circle cx="560.1" cy="748.4" r="1.1" fill="#d3d3d5"/><circle cx="561.4" cy="746.7" r="1.1" fill="#d3d3d5"/><circle cx="563.6" cy="742.3" r="1.1" fill="#d3d3d5"/><circle cx="565.4" cy="742.8" r="1.1" fill="#d3d3d5"/><circle cx="560.5" cy="749.0" r="1.1" fill="#d3d3d5"/><circle cx="561.0" cy="745.9" r="1.1" fill="#d3d3d5"/><circle cx="558.2" cy="751.1" r="1.1" fill="#d3d3d5"/><circle cx="558.4" cy="751.5" r="1.1" fill="#d3d3d5"/><circle cx="557.7" cy="747.7" r="1.1" fill="#d3d3d5"/><circle cx="564.4" cy="760.9" r="1.1" fill="#d3d3d5"/><circle cx="560.8" cy="763.0" r="1.1" fill="#d3d3d5"/><circle cx="555.0" cy="754.3" r="1.1" fill="#d3d3d5"/><circle cx="563.3" cy="756.0" r="1.1" fill="#d3d3d5"/><circle cx="559.6" cy="757.2" r="1.1" fill="#d3d3d5"/><circle cx="556.8" cy="753.5" r="1.1" fill="#d3d3d5"/><circle cx="558.1" cy="759.1" r="1.1" fill="#d3d3d5"/><circle cx="565.5" cy="759.0" r="1.1" fill="#d3d3d5"/><circle cx="557.2" cy="753.1" r="1.1" fill="#d3d3d5"/><circle cx="555.8" cy="759.1" r="1.1" fill="#d3d3d5"/><circle cx="556.4" cy="761.4" r="1.1" fill="#d3d3d5"/><circle cx="565.4" cy="756.7" r="1.1" fill="#d3d3d5"/><circle cx="559.9" cy="759.9" r="1.1" fill="#d3d3d5"/><circle cx="559.1" cy="756.7" r="1.1" fill="#d3d3d5"/><circle cx="561.4" cy="754.2" r="1.1" fill="#d3d3d5"/><circle cx="562.5" cy="755.8" r="1.1" fill="#d3d3d5"/><circle cx="564.1" cy="759.7" r="1.1" fill="#d3d3d5"/><circle cx="555.6" cy="762.0" r="1.1" fill="#d3d3d5"/><circle cx="564.7" cy="755.2" r="1.1" fill="#d3d3d5"/><circle cx="560.2" cy="758.4" r="1.1" fill="#d3d3d5"/><circle cx="562.2" cy="758.2" r="1.1" fill="#d3d3d5"/><circle cx="557.8" cy="757.0" r="1.1" fill="#d3d3d5"/><circle cx="554.9" cy="757.2" r="1.1" fill="#d3d3d5"/><circle cx="556.0" cy="755.4" r="1.1" fill="#d3d3d5"/><circle cx="557.1" cy="759.2" r="1.1" fill="#d3d3d5"/><circle cx="558.9" cy="752.5" r="1.1" fill="#d3d3d5"/><circle cx="557.2" cy="758.4" r="1.1" fill="#d3d3d5"/><circle cx="559.5" cy="760.1" r="1.1" fill="#d3d3d5"/><circle cx="563.0" cy="757.1" r="1.1" fill="#d3d3d5"/><circle cx="562.3" cy="756.8" r="1.1" fill="#d3d3d5"/><circle cx="560.2" cy="760.7" r="1.1" fill="#d3d3d5"/><circle cx="565.2" cy="760.7" r="1.1" fill="#d3d3d5"/><circle cx="561.5" cy="757.8" r="1.1" fill="#d3d3d5"/><circle cx="563.5" cy="759.3" r="1.1" fill="#d3d3d5"/><circle cx="605.1" cy="755.9" r="1.1" fill="#d3d3d5"/><circle cx="610.8" cy="757.7" r="1.1" fill="#d3d3d5"/><circle cx="599.9" cy="741.2" r="1.1" fill="#d3d3d5"/><circle cx="606.0" cy="769.1" r="1.1" fill="#d3d3d5"/><circle cx="596.7" cy="752.6" r="1.1" fill="#d3d3d5"/><circle cx="599.7" cy="771.1" r="1.1" fill="#d3d3d5"/><circle cx="604.1" cy="755.7" r="1.1" fill="#d3d3d5"/><circle cx="607.1" cy="751.2" r="1.1" fill="#d3d3d5"/><circle cx="607.0" cy="758.1" r="1.1" fill="#d3d3d5"/><circle cx="602.6" cy="759.2" r="1.1" fill="#d3d3d5"/><circle cx="609.9" cy="747.6" r="1.1" fill="#d3d3d5"/><circle cx="599.6" cy="749.1" r="1.1" fill="#d3d3d5"/><circle cx="603.3" cy="743.9" r="1.1" fill="#d3d3d5"/><circle cx="605.6" cy="747.4" r="1.1" fill="#d3d3d5"/><circle cx="599.6" cy="764.0" r="1.1" fill="#d3d3d5"/><circle cx="599.6" cy="750.6" r="1.1" fill="#d3d3d5"/><circle cx="596.7" cy="752.3" r="1.1" fill="#d3d3d5"/><circle cx="600.4" cy="748.4" r="1.1" fill="#d3d3d5"/><circle cx="604.5" cy="741.1" r="1.1" fill="#d3d3d5"/><circle cx="606.7" cy="743.2" r="1.1" fill="#d3d3d5"/><circle cx="604.2" cy="770.8" r="1.1" fill="#d3d3d5"/><circle cx="602.1" cy="764.0" r="1.1" fill="#d3d3d5"/><circle cx="596.7" cy="769.5" r="1.1" fill="#d3d3d5"/><circle cx="606.4" cy="755.3" r="1.1" fill="#d3d3d5"/><circle cx="605.1" cy="750.9" r="1.1" fill="#d3d3d5"/><circle cx="604.1" cy="755.0" r="1.1" fill="#d3d3d5"/><circle cx="599.7" cy="757.3" r="1.1" fill="#d3d3d5"/><circle cx="599.4" cy="766.0" r="1.1" fill="#d3d3d5"/><circle cx="598.4" cy="745.7" r="1.1" fill="#d3d3d5"/><circle cx="610.2" cy="770.4" r="1.1" fill="#d3d3d5"/><circle cx="610.0" cy="752.6" r="1.1" fill="#d3d3d5"/><circle cx="609.5" cy="747.9" r="1.1" fill="#d3d3d5"/><circle cx="604.3" cy="764.4" r="1.1" fill="#d3d3d5"/><circle cx="608.4" cy="746.6" r="1.1" fill="#d3d3d5"/><circle cx="598.0" cy="740.8" r="1.1" fill="#d3d3d5"/><circle cx="608.6" cy="762.3" r="1.1" fill="#d3d3d5"/><circle cx="594.9" cy="743.0" r="1.1" fill="#d3d3d5"/><circle cx="600.5" cy="759.0" r="1.1" fill="#d3d3d5"/><circle cx="601.5" cy="744.5" r="1.1" fill="#d3d3d5"/><circle cx="604.8" cy="770.2" r="1.1" fill="#d3d3d5"/><circle cx="608.9" cy="757.1" r="1.1" fill="#d3d3d5"/><circle cx="606.4" cy="750.6" r="1.1" fill="#d3d3d5"/><circle cx="600.4" cy="770.3" r="1.1" fill="#d3d3d5"/><circle cx="611.6" cy="765.9" r="1.1" fill="#d3d3d5"/><circle cx="602.0" cy="763.0" r="1.1" fill="#d3d3d5"/><circle cx="601.3" cy="749.4" r="1.1" fill="#d3d3d5"/><circle cx="601.6" cy="768.2" r="1.1" fill="#d3d3d5"/><circle cx="599.1" cy="761.2" r="1.1" fill="#d3d3d5"/><circle cx="602.4" cy="769.0" r="1.1" fill="#d3d3d5"/><circle cx="598.2" cy="749.9" r="1.1" fill="#d3d3d5"/><circle cx="592.6" cy="742.4" r="1.1" fill="#d3d3d5"/><circle cx="598.2" cy="743.3" r="1.1" fill="#d3d3d5"/><circle cx="594.5" cy="762.9" r="1.1" fill="#d3d3d5"/><circle cx="606.6" cy="762.5" r="1.1" fill="#d3d3d5"/><circle cx="593.3" cy="743.9" r="1.1" fill="#d3d3d5"/><circle cx="610.2" cy="764.8" r="1.1" fill="#d3d3d5"/><circle cx="599.9" cy="761.0" r="1.1" fill="#d3d3d5"/><circle cx="606.9" cy="760.0" r="1.1" fill="#d3d3d5"/><circle cx="600.5" cy="754.6" r="1.1" fill="#d3d3d5"/><circle cx="605.3" cy="747.0" r="1.1" fill="#d3d3d5"/><circle cx="593.6" cy="754.6" r="1.1" fill="#d3d3d5"/><circle cx="600.6" cy="767.1" r="1.1" fill="#d3d3d5"/><circle cx="603.7" cy="763.7" r="1.1" fill="#d3d3d5"/><circle cx="596.6" cy="754.4" r="1.1" fill="#d3d3d5"/><circle cx="602.5" cy="741.6" r="1.1" fill="#d3d3d5"/><circle cx="597.7" cy="770.7" r="1.1" fill="#d3d3d5"/><circle cx="595.5" cy="755.1" r="1.1" fill="#d3d3d5"/><circle cx="603.6" cy="770.1" r="1.1" fill="#d3d3d5"/><circle cx="601.0" cy="749.0" r="1.1" fill="#d3d3d5"/><circle cx="604.9" cy="752.3" r="1.1" fill="#d3d3d5"/><circle cx="601.8" cy="768.1" r="1.1" fill="#d3d3d5"/><circle cx="602.9" cy="764.9" r="1.1" fill="#d3d3d5"/><circle cx="595.6" cy="765.7" r="1.1" fill="#d3d3d5"/><circle cx="603.7" cy="748.1" r="1.1" fill="#d3d3d5"/><circle cx="596.8" cy="760.0" r="1.1" fill="#d3d3d5"/><circle cx="596.0" cy="751.1" r="1.1" fill="#d3d3d5"/><circle cx="595.1" cy="749.9" r="1.1" fill="#d3d3d5"/><circle cx="601.2" cy="743.2" r="1.1" fill="#d3d3d5"/><circle cx="594.9" cy="751.2" r="1.1" fill="#d3d3d5"/><circle cx="608.3" cy="745.2" r="1.1" fill="#d3d3d5"/><circle cx="606.5" cy="744.1" r="1.1" fill="#d3d3d5"/><circle cx="593.9" cy="741.8" r="1.1" fill="#d3d3d5"/><circle cx="599.1" cy="749.8" r="1.1" fill="#d3d3d5"/><circle cx="598.2" cy="746.9" r="1.1" fill="#d3d3d5"/><circle cx="598.3" cy="768.1" r="1.1" fill="#d3d3d5"/><circle cx="605.7" cy="748.8" r="1.1" fill="#d3d3d5"/><circle cx="608.1" cy="767.4" r="1.1" fill="#d3d3d5"/><circle cx="602.8" cy="766.2" r="1.1" fill="#d3d3d5"/><circle cx="599.3" cy="741.4" r="1.1" fill="#d3d3d5"/><circle cx="605.1" cy="770.9" r="1.1" fill="#d3d3d5"/><circle cx="602.2" cy="751.8" r="1.1" fill="#d3d3d5"/><circle cx="605.5" cy="747.7" r="1.1" fill="#d3d3d5"/><circle cx="603.9" cy="758.0" r="1.1" fill="#d3d3d5"/><circle cx="604.8" cy="753.9" r="1.1" fill="#d3d3d5"/><circle cx="604.3" cy="769.3" r="1.1" fill="#d3d3d5"/><circle cx="602.3" cy="766.8" r="1.1" fill="#d3d3d5"/><circle cx="603.9" cy="749.6" r="1.1" fill="#d3d3d5"/><circle cx="606.8" cy="753.6" r="1.1" fill="#d3d3d5"/><circle cx="603.6" cy="763.7" r="1.1" fill="#d3d3d5"/><circle cx="606.4" cy="767.2" r="1.1" fill="#d3d3d5"/><circle cx="603.3" cy="755.1" r="1.1" fill="#d3d3d5"/><circle cx="598.6" cy="746.4" r="1.1" fill="#d3d3d5"/><circle cx="599.1" cy="744.1" r="1.1" fill="#d3d3d5"/><circle cx="603.6" cy="743.2" r="1.1" fill="#d3d3d5"/><circle cx="599.5" cy="741.9" r="1.1" fill="#d3d3d5"/><circle cx="608.6" cy="757.2" r="1.1" fill="#d3d3d5"/><circle cx="603.4" cy="742.2" r="1.1" fill="#d3d3d5"/><circle cx="604.7" cy="746.9" r="1.1" fill="#d3d3d5"/><circle cx="598.3" cy="756.1" r="1.1" fill="#d3d3d5"/><circle cx="607.3" cy="763.9" r="1.1" fill="#d3d3d5"/><circle cx="610.7" cy="765.1" r="1.1" fill="#d3d3d5"/><circle cx="602.6" cy="772.4" r="1.1" fill="#d3d3d5"/><circle cx="598.2" cy="747.0" r="1.1" fill="#d3d3d5"/><circle cx="604.0" cy="749.7" r="1.1" fill="#d3d3d5"/><circle cx="600.7" cy="767.7" r="1.1" fill="#d3d3d5"/><circle cx="601.2" cy="762.4" r="1.1" fill="#d3d3d5"/><circle cx="602.5" cy="756.1" r="1.1" fill="#d3d3d5"/><circle cx="607.2" cy="755.5" r="1.1" fill="#d3d3d5"/><circle cx="602.9" cy="767.9" r="1.1" fill="#d3d3d5"/><circle cx="603.1" cy="746.2" r="1.1" fill="#d3d3d5"/><circle cx="611.3" cy="771.4" r="1.1" fill="#d3d3d5"/><circle cx="614.0" cy="772.5" r="1.1" fill="#d3d3d5"/><circle cx="612.6" cy="777.3" r="1.1" fill="#d3d3d5"/><circle cx="605.0" cy="805.7" r="1.1" fill="#d3d3d5"/><circle cx="612.3" cy="766.4" r="1.1" fill="#d3d3d5"/><circle cx="612.7" cy="783.3" r="1.1" fill="#d3d3d5"/><circle cx="608.8" cy="774.0" r="1.1" fill="#d3d3d5"/><circle cx="611.7" cy="791.1" r="1.1" fill="#d3d3d5"/><circle cx="610.6" cy="772.3" r="1.1" fill="#d3d3d5"/><circle cx="605.1" cy="800.6" r="1.1" fill="#d3d3d5"/><circle cx="608.2" cy="802.9" r="1.1" fill="#d3d3d5"/><circle cx="610.2" cy="772.0" r="1.1" fill="#d3d3d5"/><circle cx="612.3" cy="806.7" r="1.1" fill="#d3d3d5"/><circle cx="603.9" cy="796.2" r="1.1" fill="#d3d3d5"/><circle cx="611.3" cy="793.7" r="1.1" fill="#d3d3d5"/><circle cx="614.0" cy="778.7" r="1.1" fill="#d3d3d5"/><circle cx="612.7" cy="789.0" r="1.1" fill="#d3d3d5"/><circle cx="614.5" cy="765.9" r="1.1" fill="#d3d3d5"/><circle cx="604.1" cy="809.6" r="1.1" fill="#d3d3d5"/><circle cx="609.4" cy="792.9" r="1.1" fill="#d3d3d5"/><circle cx="607.9" cy="784.3" r="1.1" fill="#d3d3d5"/><circle cx="612.1" cy="773.5" r="1.1" fill="#d3d3d5"/><circle cx="607.2" cy="800.7" r="1.1" fill="#d3d3d5"/><circle cx="608.0" cy="792.9" r="1.1" fill="#d3d3d5"/><circle cx="609.5" cy="785.4" r="1.1" fill="#d3d3d5"/><circle cx="613.4" cy="792.2" r="1.1" fill="#d3d3d5"/><circle cx="610.8" cy="779.6" r="1.1" fill="#d3d3d5"/><circle cx="613.7" cy="776.7" r="1.1" fill="#d3d3d5"/><circle cx="614.6" cy="795.1" r="1.1" fill="#d3d3d5"/><circle cx="609.4" cy="777.0" r="1.1" fill="#d3d3d5"/><circle cx="610.7" cy="795.0" r="1.1" fill="#d3d3d5"/><circle cx="607.9" cy="803.7" r="1.1" fill="#d3d3d5"/><circle cx="606.6" cy="805.8" r="1.1" fill="#d3d3d5"/><circle cx="604.1" cy="801.9" r="1.1" fill="#d3d3d5"/><circle cx="612.8" cy="791.7" r="1.1" fill="#d3d3d5"/><circle cx="604.9" cy="806.0" r="1.1" fill="#d3d3d5"/><circle cx="610.7" cy="799.8" r="1.1" fill="#d3d3d5"/><circle cx="611.8" cy="791.5" r="1.1" fill="#d3d3d5"/><circle cx="612.7" cy="806.8" r="1.1" fill="#d3d3d5"/><circle cx="608.6" cy="786.7" r="1.1" fill="#d3d3d5"/><circle cx="611.6" cy="780.5" r="1.1" fill="#d3d3d5"/><circle cx="603.1" cy="792.5" r="1.1" fill="#d3d3d5"/><circle cx="609.4" cy="795.0" r="1.1" fill="#d3d3d5"/><circle cx="610.5" cy="791.8" r="1.1" fill="#d3d3d5"/><circle cx="617.8" cy="778.1" r="1.1" fill="#d3d3d5"/><circle cx="610.2" cy="779.9" r="1.1" fill="#d3d3d5"/><circle cx="614.2" cy="782.3" r="1.1" fill="#d3d3d5"/><circle cx="610.4" cy="794.5" r="1.1" fill="#d3d3d5"/><circle cx="613.8" cy="780.4" r="1.1" fill="#d3d3d5"/><circle cx="612.8" cy="786.8" r="1.1" fill="#d3d3d5"/><circle cx="613.7" cy="774.0" r="1.1" fill="#d3d3d5"/><circle cx="604.8" cy="802.9" r="1.1" fill="#d3d3d5"/><circle cx="615.2" cy="775.0" r="1.1" fill="#d3d3d5"/><circle cx="607.3" cy="794.0" r="1.1" fill="#d3d3d5"/><circle cx="614.3" cy="787.2" r="1.1" fill="#d3d3d5"/><circle cx="616.6" cy="765.0" r="1.1" fill="#d3d3d5"/><circle cx="608.9" cy="786.5" r="1.1" fill="#d3d3d5"/><circle cx="602.5" cy="801.1" r="1.1" fill="#d3d3d5"/><circle cx="610.0" cy="766.9" r="1.1" fill="#d3d3d5"/><circle cx="607.4" cy="806.3" r="1.1" fill="#d3d3d5"/><circle cx="604.5" cy="799.0" r="1.1" fill="#d3d3d5"/><circle cx="607.2" cy="795.1" r="1.1" fill="#d3d3d5"/><circle cx="609.0" cy="767.6" r="1.1" fill="#d3d3d5"/><circle cx="612.6" cy="804.5" r="1.1" fill="#d3d3d5"/><circle cx="617.3" cy="765.6" r="1.1" fill="#d3d3d5"/><circle cx="616.8" cy="785.3" r="1.1" fill="#d3d3d5"/><circle cx="607.8" cy="784.5" r="1.1" fill="#d3d3d5"/><circle cx="610.5" cy="768.5" r="1.1" fill="#d3d3d5"/><circle cx="614.0" cy="764.7" r="1.1" fill="#d3d3d5"/><circle cx="604.6" cy="804.5" r="1.1" fill="#d3d3d5"/><circle cx="609.4" cy="772.4" r="1.1" fill="#d3d3d5"/><circle cx="617.6" cy="799.1" r="1.1" fill="#d3d3d5"/><circle cx="611.9" cy="783.9" r="1.1" fill="#d3d3d5"/><circle cx="608.5" cy="785.1" r="1.1" fill="#d3d3d5"/><circle cx="611.6" cy="806.7" r="1.1" fill="#d3d3d5"/><circle cx="612.4" cy="765.0" r="1.1" fill="#d3d3d5"/><circle cx="610.0" cy="767.1" r="1.1" fill="#d3d3d5"/><circle cx="608.2" cy="779.4" r="1.1" fill="#d3d3d5"/><circle cx="607.4" cy="776.4" r="1.1" fill="#d3d3d5"/><circle cx="614.8" cy="773.3" r="1.1" fill="#d3d3d5"/><circle cx="610.4" cy="809.4" r="1.1" fill="#d3d3d5"/><circle cx="613.5" cy="803.6" r="1.1" fill="#d3d3d5"/><circle cx="608.0" cy="792.5" r="1.1" fill="#d3d3d5"/><circle cx="609.5" cy="786.4" r="1.1" fill="#d3d3d5"/><circle cx="606.6" cy="798.1" r="1.1" fill="#d3d3d5"/><circle cx="609.4" cy="780.8" r="1.1" fill="#d3d3d5"/><circle cx="608.1" cy="808.4" r="1.1" fill="#d3d3d5"/><circle cx="609.9" cy="766.2" r="1.1" fill="#d3d3d5"/><circle cx="606.9" cy="782.7" r="1.1" fill="#d3d3d5"/><circle cx="611.6" cy="781.6" r="1.1" fill="#d3d3d5"/><circle cx="611.3" cy="778.6" r="1.1" fill="#d3d3d5"/><circle cx="604.0" cy="787.9" r="1.1" fill="#d3d3d5"/><circle cx="615.9" cy="764.6" r="1.1" fill="#d3d3d5"/><circle cx="603.8" cy="791.4" r="1.1" fill="#d3d3d5"/><circle cx="602.7" cy="790.3" r="1.1" fill="#d3d3d5"/><circle cx="607.2" cy="786.1" r="1.1" fill="#d3d3d5"/><circle cx="603.0" cy="786.1" r="1.1" fill="#d3d3d5"/><circle cx="613.3" cy="795.5" r="1.1" fill="#d3d3d5"/><circle cx="607.9" cy="807.7" r="1.1" fill="#d3d3d5"/><circle cx="603.0" cy="776.6" r="1.1" fill="#d3d3d5"/><circle cx="610.8" cy="782.8" r="1.1" fill="#d3d3d5"/><circle cx="607.5" cy="783.0" r="1.1" fill="#d3d3d5"/><circle cx="612.1" cy="807.0" r="1.1" fill="#d3d3d5"/><circle cx="613.4" cy="787.1" r="1.1" fill="#d3d3d5"/><circle cx="615.7" cy="792.0" r="1.1" fill="#d3d3d5"/><circle cx="612.4" cy="786.1" r="1.1" fill="#d3d3d5"/><circle cx="608.4" cy="799.2" r="1.1" fill="#d3d3d5"/><circle cx="613.3" cy="799.4" r="1.1" fill="#d3d3d5"/><circle cx="617.6" cy="807.0" r="1.1" fill="#d3d3d5"/><circle cx="605.7" cy="779.7" r="1.1" fill="#d3d3d5"/><circle cx="605.4" cy="770.5" r="1.1" fill="#d3d3d5"/><circle cx="612.9" cy="800.0" r="1.1" fill="#d3d3d5"/><circle cx="603.6" cy="776.0" r="1.1" fill="#d3d3d5"/><circle cx="605.9" cy="805.6" r="1.1" fill="#d3d3d5"/><circle cx="614.7" cy="773.9" r="1.1" fill="#d3d3d5"/><circle cx="615.1" cy="766.6" r="1.1" fill="#d3d3d5"/><circle cx="609.1" cy="810.1" r="1.1" fill="#d3d3d5"/><circle cx="613.2" cy="795.3" r="1.1" fill="#d3d3d5"/><circle cx="614.7" cy="807.3" r="1.1" fill="#d3d3d5"/><circle cx="605.8" cy="792.0" r="1.1" fill="#d3d3d5"/><circle cx="609.0" cy="793.8" r="1.1" fill="#d3d3d5"/><circle cx="608.5" cy="808.7" r="1.1" fill="#d3d3d5"/><circle cx="610.0" cy="769.0" r="1.1" fill="#d3d3d5"/><circle cx="615.9" cy="767.4" r="1.1" fill="#d3d3d5"/><circle cx="609.3" cy="765.4" r="1.1" fill="#d3d3d5"/><circle cx="610.3" cy="796.6" r="1.1" fill="#d3d3d5"/><circle cx="613.7" cy="767.9" r="1.1" fill="#d3d3d5"/><circle cx="609.9" cy="771.8" r="1.1" fill="#d3d3d5"/><circle cx="607.7" cy="793.9" r="1.1" fill="#d3d3d5"/><circle cx="612.0" cy="769.9" r="1.1" fill="#d3d3d5"/><circle cx="613.5" cy="764.6" r="1.1" fill="#d3d3d5"/><circle cx="614.7" cy="801.4" r="1.1" fill="#d3d3d5"/><circle cx="613.3" cy="769.8" r="1.1" fill="#d3d3d5"/><circle cx="611.7" cy="776.9" r="1.1" fill="#d3d3d5"/><circle cx="616.2" cy="795.8" r="1.1" fill="#d3d3d5"/><circle cx="606.6" cy="777.5" r="1.1" fill="#d3d3d5"/><circle cx="606.4" cy="804.0" r="1.1" fill="#d3d3d5"/><circle cx="601.8" cy="789.8" r="1.1" fill="#d3d3d5"/><circle cx="609.8" cy="806.5" r="1.1" fill="#d3d3d5"/><circle cx="614.3" cy="777.6" r="1.1" fill="#d3d3d5"/><circle cx="610.7" cy="801.2" r="1.1" fill="#d3d3d5"/><circle cx="613.5" cy="779.7" r="1.1" fill="#d3d3d5"/><circle cx="607.4" cy="774.0" r="1.1" fill="#d3d3d5"/><circle cx="615.6" cy="769.6" r="1.1" fill="#d3d3d5"/><circle cx="611.1" cy="783.1" r="1.1" fill="#d3d3d5"/><circle cx="614.9" cy="767.7" r="1.1" fill="#d3d3d5"/><circle cx="610.0" cy="779.6" r="1.1" fill="#d3d3d5"/><circle cx="614.6" cy="806.0" r="1.1" fill="#d3d3d5"/><circle cx="607.5" cy="765.1" r="1.1" fill="#d3d3d5"/><circle cx="612.3" cy="785.8" r="1.1" fill="#d3d3d5"/><circle cx="587.1" cy="767.4" r="1.1" fill="#d3d3d5"/><circle cx="586.0" cy="769.7" r="1.1" fill="#d3d3d5"/><circle cx="588.0" cy="765.2" r="1.1" fill="#d3d3d5"/><circle cx="572.0" cy="762.7" r="1.1" fill="#d3d3d5"/><circle cx="575.4" cy="772.2" r="1.1" fill="#d3d3d5"/><circle cx="599.5" cy="741.6" r="1.1" fill="#2a1ef4"/><circle cx="552.7" cy="755.6" r="1.1" fill="#5a3cee"/><circle cx="554.0" cy="757.0" r="1.1" fill="#7a60e6"/><circle cx="552.0" cy="760.7" r="1.1" fill="#a898e2"/><circle cx="650.1" cy="710.7" r="1.1" fill="#b0a4e2"/><circle cx="646.8" cy="720.0" r="1.1" fill="#b8aee0"/><circle cx="619.8" cy="776.4" r="1.1" fill="#b8aee0"/></g>
<line x1="545.0" y1="691.8" x2="545.0" y2="816.7" stroke="#000" stroke-width="2.0" />
<line x1="544.0" y1="815.7" x2="659.1" y2="815.7" stroke="#000" stroke-width="2.0" />
<line x1="540.8" y1="692.7" x2="545.0" y2="692.7" stroke="#000" stroke-width="1.4" />
<text x="538.0" y="695.9" font-size="9.0" font-weight="normal" text-anchor="end" fill="#000" >20</text>
<line x1="540.8" y1="720.8" x2="545.0" y2="720.8" stroke="#000" stroke-width="1.4" />
<text x="538.0" y="724.0" font-size="9.0" font-weight="normal" text-anchor="end" fill="#000" >10</text>
<line x1="540.8" y1="748.9" x2="545.0" y2="748.9" stroke="#000" stroke-width="1.4" />
<text x="538.0" y="752.1" font-size="9.0" font-weight="normal" text-anchor="end" fill="#000" >0</text>
<line x1="540.8" y1="777.0" x2="545.0" y2="777.0" stroke="#000" stroke-width="1.4" />
<text x="538.0" y="780.2" font-size="9.0" font-weight="normal" text-anchor="end" fill="#000" >−10</text>
<line x1="540.8" y1="805.1" x2="545.0" y2="805.1" stroke="#000" stroke-width="1.4" />
<text x="538.0" y="808.3" font-size="9.0" font-weight="normal" text-anchor="end" fill="#000" >−20</text>
<line x1="556.3" y1="815.7" x2="556.3" y2="819.7" stroke="#000" stroke-width="1.4" />
<text transform="translate(560.6,828.3) rotate(-45)" font-size="9.1" text-anchor="end">−20</text>
<line x1="578.8" y1="815.7" x2="578.8" y2="819.7" stroke="#000" stroke-width="1.4" />
<text transform="translate(583.1,828.3) rotate(-45)" font-size="9.1" text-anchor="end">−10</text>
<line x1="601.3" y1="815.7" x2="601.3" y2="819.7" stroke="#000" stroke-width="1.4" />
<text transform="translate(605.6,828.3) rotate(-45)" font-size="9.1" text-anchor="end">0</text>
<line x1="623.8" y1="815.7" x2="623.8" y2="819.7" stroke="#000" stroke-width="1.4" />
<text transform="translate(628.1,828.3) rotate(-45)" font-size="9.1" text-anchor="end">10</text>
<line x1="646.3" y1="815.7" x2="646.3" y2="819.7" stroke="#000" stroke-width="1.4" />
<text transform="translate(650.6,828.3) rotate(-45)" font-size="9.1" text-anchor="end">20</text>
<text x="600.8" y="853.0" font-size="9.2" font-weight="normal" text-anchor="middle" fill="#000" >t–SNE 1</text>
<text transform="translate(516.6,755.6) rotate(-90)" font-size="9.2" text-anchor="middle">t–SNE 2</text>
<text x="606.3" y="682.9" font-size="13.0" font-weight="bold" text-anchor="middle" fill="#000" font-style="italic">MMP9</text>
<defs><linearGradient id="tcb2" x1="0" y1="0" x2="0" y2="1"><stop offset="0" stop-color="#1a0cf8"/><stop offset="0.3" stop-color="#6a4ee8"/><stop offset="0.6" stop-color="#a594e2"/><stop offset="1" stop-color="#d8d8d8"/></linearGradient></defs>
<rect x="674.3" y="710.5" width="6.600000000000023" height="90.4" fill="url(#tcb2)"/>
<line x1="674.3" y1="722.5" x2="675.5999999999999" y2="722.5" stroke="#fff" stroke-width="0.8" opacity="0.7"/>
<line x1="679.6" y1="722.5" x2="680.9" y2="722.5" stroke="#fff" stroke-width="0.8" opacity="0.7"/>
<text x="681.9" y="724.8" font-size="6.4" font-weight="normal" text-anchor="start" fill="#000" >3</text>
<line x1="674.3" y1="748.6" x2="675.5999999999999" y2="748.6" stroke="#fff" stroke-width="0.8" opacity="0.7"/>
<line x1="679.6" y1="748.6" x2="680.9" y2="748.6" stroke="#fff" stroke-width="0.8" opacity="0.7"/>
<text x="681.9" y="750.9" font-size="6.4" font-weight="normal" text-anchor="start" fill="#000" >2</text>
<line x1="674.3" y1="774.2" x2="675.5999999999999" y2="774.2" stroke="#fff" stroke-width="0.8" opacity="0.7"/>
<line x1="679.6" y1="774.2" x2="680.9" y2="774.2" stroke="#fff" stroke-width="0.8" opacity="0.7"/>
<text x="681.9" y="776.5" font-size="6.4" font-weight="normal" text-anchor="start" fill="#000" >1</text>
<line x1="674.3" y1="800.3" x2="675.5999999999999" y2="800.3" stroke="#fff" stroke-width="0.8" opacity="0.7"/>
<line x1="679.6" y1="800.3" x2="680.9" y2="800.3" stroke="#fff" stroke-width="0.8" opacity="0.7"/>
<text x="681.9" y="802.6" font-size="6.4" font-weight="normal" text-anchor="start" fill="#000" >0</text>
<line x1="101.9" y1="881.2" x2="101.9" y2="1025.6" stroke="#000" stroke-width="1.6" />
<line x1="101.1" y1="1024.9" x2="275.5" y2="1024.9" stroke="#000" stroke-width="1.6" />
<line x1="96.3" y1="881.8" x2="101.9" y2="881.8" stroke="#000" stroke-width="1.5" />
<text x="94.2" y="885.3" font-size="9.8" font-weight="bold" text-anchor="end" fill="#000" >0.15</text>
<line x1="96.3" y1="929.4" x2="101.9" y2="929.4" stroke="#000" stroke-width="1.5" />
<text x="94.2" y="932.9" font-size="9.8" font-weight="bold" text-anchor="end" fill="#000" >0.10</text>
<line x1="96.3" y1="977.0" x2="101.9" y2="977.0" stroke="#000" stroke-width="1.5" />
<text x="94.2" y="980.5" font-size="9.8" font-weight="bold" text-anchor="end" fill="#000" >0.05</text>
<line x1="96.3" y1="1024.9" x2="101.9" y2="1024.9" stroke="#000" stroke-width="1.5" />
<text x="94.2" y="1028.4" font-size="9.8" font-weight="bold" text-anchor="end" fill="#000" >0.00</text>
<rect x="120.4" y="949.9" width="32.6" height="75.0" fill="#fff" stroke="#0d3af5" stroke-width="2.1"/>
<rect x="172.5" y="962.2" width="31.9" height="62.7" fill="#fff" stroke="#ababab" stroke-width="2.1"/>
<rect x="224.8" y="974.0" width="32.2" height="50.9" fill="#fff" stroke="#f5321e" stroke-width="2.1"/>
<line x1="136.8" y1="1024.9" x2="136.8" y2="1029.5" stroke="#000" stroke-width="1.5" />
<line x1="188.8" y1="1024.9" x2="188.8" y2="1029.5" stroke="#000" stroke-width="1.5" />
<line x1="241.1" y1="1024.9" x2="241.1" y2="1029.5" stroke="#000" stroke-width="1.5" />
<text x="136.8" y="1041.6" font-size="9.7" font-weight="bold" text-anchor="middle" fill="#000" >Ctrl</text>
<text x="188.8" y="1041.6" font-size="9.7" font-weight="bold" text-anchor="middle" fill="#000" >10 mM</text>
<text x="188.8" y="1052.5" font-size="9.7" font-weight="bold" text-anchor="middle" fill="#000" >Glucose</text>
<text x="241.1" y="1041.6" font-size="9.7" font-weight="bold" text-anchor="middle" fill="#000" >20mM</text>
<text x="241.1" y="1052.5" font-size="9.7" font-weight="bold" text-anchor="middle" fill="#000" >Glucose</text>
<path d="M136.8,902.3 V893.8 H241.1 V941.7" fill="none" stroke="#000" stroke-width="1.5"/>
<text x="188.5" y="887.4" font-size="10.5" font-weight="normal" text-anchor="middle" fill="#000" >0.0378</text>
<path d="M136.6,926.1 V971.5 M127.39999999999999,926.1 H145.79999999999998 M127.39999999999999,971.5 H145.79999999999998" stroke="#2a58f6" stroke-width="1.2" fill="none"/>
<g fill="#0d3af5"><circle cx="136.8" cy="908.9" r="2.6"/><circle cx="136.5" cy="931.4" r="2.6"/><circle cx="126.4" cy="937.1" r="2.6"/><circle cx="146.7" cy="935.3" r="2.6"/><circle cx="136.5" cy="939.7" r="2.6"/><circle cx="136.5" cy="950.2" r="2.6"/><circle cx="146.7" cy="960.5" r="2.6"/><circle cx="136.5" cy="964.2" r="2.6"/><circle cx="141.7" cy="978.5" r="2.6"/><circle cx="131.4" cy="982.8" r="2.6"/></g>
<path d="M188.8,936.0 V985.7 M179.60000000000002,936.0 H198.0 M179.60000000000002,985.7 H198.0" stroke="#b8b8b8" stroke-width="1.2" fill="none"/>
<g fill="#ababab"><rect x="186.4" y="922.0" width="4.8" height="4.8"/><rect x="186.4" y="928.1" width="4.8" height="4.8"/><rect x="186.4" y="937.7" width="4.8" height="4.8"/><rect x="176.1" y="952.6" width="4.8" height="4.8"/><rect x="186.4" y="950.4" width="4.8" height="4.8"/><rect x="196.9" y="953.7" width="4.8" height="4.8"/><rect x="196.9" y="978.9" width="4.8" height="4.8"/><rect x="186.4" y="983.3" width="4.8" height="4.8"/><rect x="196.9" y="985.9" width="4.8" height="4.8"/><rect x="176.1" y="990.5" width="4.8" height="4.8"/></g>
<path d="M240.9,956.1 V989.0 M231.70000000000002,956.1 H250.1 M231.70000000000002,989.0 H250.1" stroke="#f55038" stroke-width="1.2" fill="none"/>
<g fill="#f5321e"><polygon points="240.9,946.4 238.1,951.5 243.8,951.5"/><polygon points="230.6,954.0 227.8,959.1 233.4,959.1"/><polygon points="251.2,954.5 248.3,959.6 254.0,959.6"/><polygon points="240.9,958.0 238.1,963.1 243.8,963.1"/><polygon points="235.4,966.7 232.6,971.8 238.2,971.8"/><polygon points="245.9,971.1 243.1,976.2 248.8,976.2"/><polygon points="240.9,980.3 238.1,985.4 243.8,985.4"/><polygon points="240.9,985.8 238.1,990.9 243.8,990.9"/><polygon points="230.6,992.3 227.8,997.4 233.4,997.4"/><polygon points="251.2,988.0 248.3,993.1 254.0,993.1"/></g>
<text transform="translate(66.3,956.7) rotate(-90)" x="0" y="0" font-size="11.8" font-weight="bold" text-anchor="middle" fill="#000">Active/pro-MMP2</text>
<line x1="346.4" y1="879.4" x2="346.4" y2="1021.4" stroke="#000" stroke-width="1.6" />
<line x1="345.6" y1="1020.7" x2="524.5" y2="1020.7" stroke="#000" stroke-width="1.6" />
<line x1="340.8" y1="880.0" x2="346.4" y2="880.0" stroke="#000" stroke-width="1.5" />
<text x="338.7" y="883.5" font-size="9.8" font-weight="bold" text-anchor="end" fill="#000" >2.0</text>
<line x1="340.8" y1="915.2" x2="346.4" y2="915.2" stroke="#000" stroke-width="1.5" />
<text x="338.7" y="918.7" font-size="9.8" font-weight="bold" text-anchor="end" fill="#000" >1.5</text>
<line x1="340.8" y1="950.4" x2="346.4" y2="950.4" stroke="#000" stroke-width="1.5" />
<text x="338.7" y="953.9" font-size="9.8" font-weight="bold" text-anchor="end" fill="#000" >1.0</text>
<line x1="340.8" y1="985.6" x2="346.4" y2="985.6" stroke="#000" stroke-width="1.5" />
<text x="338.7" y="989.1" font-size="9.8" font-weight="bold" text-anchor="end" fill="#000" >0.5</text>
<line x1="340.8" y1="1020.7" x2="346.4" y2="1020.7" stroke="#000" stroke-width="1.5" />
<text x="338.7" y="1024.2" font-size="9.8" font-weight="bold" text-anchor="end" fill="#000" >0.0</text>
<rect x="365.7" y="951.5" width="32.6" height="69.2" fill="#fff" stroke="#0d3af5" stroke-width="2.1"/>
<rect x="419.3" y="962.6" width="32.2" height="58.1" fill="#fff" stroke="#ababab" stroke-width="2.1"/>
<rect x="472.6" y="973.7" width="32.2" height="47.0" fill="#fff" stroke="#f5321e" stroke-width="2.1"/>
<line x1="381.6" y1="1020.7" x2="381.6" y2="1025.3" stroke="#000" stroke-width="1.5" />
<line x1="435.1" y1="1020.7" x2="435.1" y2="1025.3" stroke="#000" stroke-width="1.5" />
<line x1="488.4" y1="1020.7" x2="488.4" y2="1025.3" stroke="#000" stroke-width="1.5" />
<text x="381.6" y="1038.1" font-size="9.7" font-weight="bold" text-anchor="middle" fill="#000" >Ctrl</text>
<text x="435.1" y="1038.1" font-size="9.7" font-weight="bold" text-anchor="middle" fill="#000" >10mM</text>
<text x="435.1" y="1049.0" font-size="9.7" font-weight="bold" text-anchor="middle" fill="#000" >Glucose</text>
<text x="488.4" y="1038.1" font-size="9.7" font-weight="bold" text-anchor="middle" fill="#000" >20mM</text>
<text x="488.4" y="1049.0" font-size="9.7" font-weight="bold" text-anchor="middle" fill="#000" >Glucose</text>
<path d="M382.0,906.6 V898.5 H488.6 V943.2" fill="none" stroke="#000" stroke-width="1.5"/>
<text x="435.3" y="891.7" font-size="10.5" font-weight="normal" text-anchor="middle" fill="#000" >0.0378</text>
<path d="M381.6,929.4 V971.5 M372.40000000000003,929.4 H390.8 M372.40000000000003,971.5 H390.8" stroke="#2a58f6" stroke-width="1.2" fill="none"/>
<g fill="#0d3af5"><circle cx="381.6" cy="913.8" r="2.6"/><circle cx="371.3" cy="937.7" r="2.6"/><circle cx="381.6" cy="941.0" r="2.6"/><circle cx="392.1" cy="934.1" r="2.6"/><circle cx="392.1" cy="939.6" r="2.6"/><circle cx="381.6" cy="951.3" r="2.6"/><circle cx="376.1" cy="963.8" r="2.6"/><circle cx="387.2" cy="961.3" r="2.6"/><circle cx="376.6" cy="981.2" r="2.6"/><circle cx="387.2" cy="977.6" r="2.6"/></g>
<path d="M435.1,938.3 V984.6 M425.90000000000003,938.3 H444.3 M425.90000000000003,984.6 H444.3" stroke="#b8b8b8" stroke-width="1.2" fill="none"/>
<g fill="#ababab"><rect x="432.7" y="925.3" width="4.8" height="4.8"/><rect x="432.7" y="929.8" width="4.8" height="4.8"/><rect x="432.7" y="939.2" width="4.8" height="4.8"/><rect x="432.7" y="951.1" width="4.8" height="4.8"/><rect x="422.2" y="953.1" width="4.8" height="4.8"/><rect x="443.0" y="954.4" width="4.8" height="4.8"/><rect x="443.0" y="977.5" width="4.8" height="4.8"/><rect x="432.7" y="982.2" width="4.8" height="4.8"/><rect x="443.0" y="984.4" width="4.8" height="4.8"/><rect x="422.2" y="989.1" width="4.8" height="4.8"/></g>
<path d="M488.4,957.1 V987.4 M479.2,957.1 H497.59999999999997 M479.2,987.4 H497.59999999999997" stroke="#f55038" stroke-width="1.2" fill="none"/>
<g fill="#f5321e"><polygon points="488.4,947.5 485.5,952.6 491.2,952.6"/><polygon points="477.9,958.6 475.0,963.7 480.8,963.7"/><polygon points="498.7,954.5 495.8,959.6 501.6,959.6"/><polygon points="488.4,955.3 485.5,960.4 491.2,960.4"/><polygon points="498.7,967.0 495.8,972.1 501.6,972.1"/><polygon points="488.4,971.1 485.5,976.2 491.2,976.2"/><polygon points="488.4,984.4 485.5,989.5 491.2,989.5"/><polygon points="477.9,990.0 475.0,995.1 480.8,995.1"/><polygon points="498.7,986.4 495.8,991.5 501.6,991.5"/><polygon points="498.7,980.0 495.8,985.1 501.6,985.1"/></g>
<text transform="translate(298.4,953.5) rotate(-90)" x="0" y="0" font-size="10.3" font-weight="bold" text-anchor="middle" fill="#000">Fold change</text>
<text transform="translate(310.4,954.0) rotate(-90)" x="0" y="0" font-size="10.3" font-weight="bold" text-anchor="middle" fill="#000">(active/pro MMP2)</text>
<text x="-3.9" y="71.0" font-size="26" font-weight="normal" text-anchor="start" fill="#000" stroke="#000" stroke-width="0.55">a</text>
<text x="13.8" y="71.0" font-size="26" font-weight="normal" text-anchor="start" fill="#000" stroke="#000" stroke-width="0.55">)</text>
<text x="9.4" y="294.2" font-size="26" font-weight="normal" text-anchor="start" fill="#000" stroke="#000" stroke-width="0.55">b</text>
<text x="25.8" y="294.2" font-size="26" font-weight="normal" text-anchor="start" fill="#000" stroke="#000" stroke-width="0.55">)</text>
<text x="-2.2" y="493.0" font-size="26" font-weight="normal" text-anchor="start" fill="#000" stroke="#000" stroke-width="0.55">c</text>
<text x="12.4" y="493.0" font-size="26" font-weight="normal" text-anchor="start" fill="#000" stroke="#000" stroke-width="0.55">)</text>
<text x="3.9" y="667.8" font-size="26" font-weight="normal" text-anchor="start" fill="#000" stroke="#000" stroke-width="0.55">d</text>
<text x="20.8" y="667.8" font-size="26" font-weight="normal" text-anchor="start" fill="#000" stroke="#000" stroke-width="0.55">)</text>
<text x="309.4" y="671.3" font-size="26" font-weight="normal" text-anchor="start" fill="#000" stroke="#000" stroke-width="0.55">e</text>
<text x="325.2" y="671.3" font-size="26" font-weight="normal" text-anchor="start" fill="#000" stroke="#000" stroke-width="0.55">)</text>
<text x="4.6" y="882.1" font-size="26" font-weight="normal" text-anchor="start" fill="#000" stroke="#000" stroke-width="0.55">f</text>
<text x="15.0" y="882.1" font-size="26" font-weight="normal" text-anchor="start" fill="#000" stroke="#000" stroke-width="0.55">)</text>
</svg>
</body></html>
